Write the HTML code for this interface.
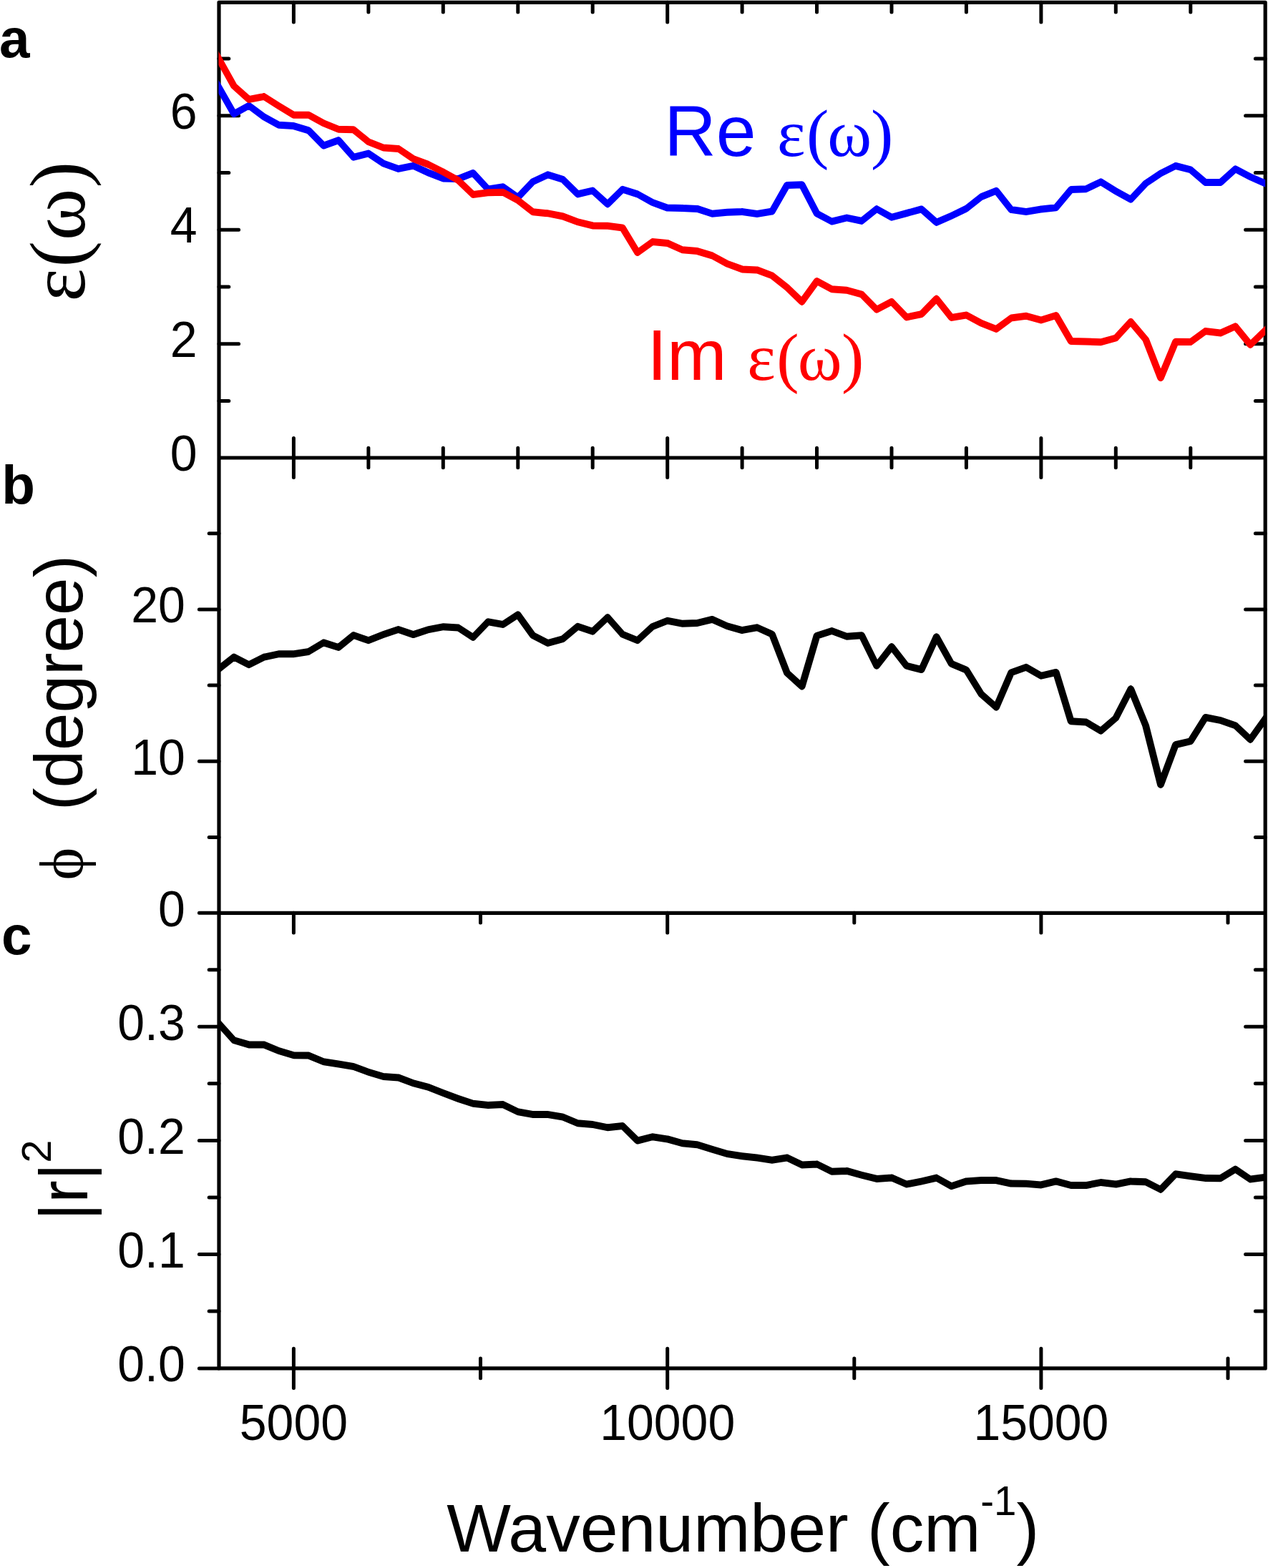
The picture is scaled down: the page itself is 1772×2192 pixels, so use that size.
<!DOCTYPE html>
<html lang="en"><head><meta charset="utf-8"><title>Optical response: dielectric function, phase and reflectance</title>
<style>html,body{margin:0;padding:0;background:#fff}body{width:1772px;height:2192px}svg{display:block}text{font-family:"Liberation Sans",sans-serif;fill:#000}.g{font-family:"Liberation Serif",serif}.b{font-weight:700}</style></head><body>
<svg width="1772" height="2192" viewBox="0 0 1772 2192">
<rect width="1772" height="2192" fill="#fff"/>
<defs>
<clipPath id="ca"><rect x="305.5" y="3.3" width="1462.7" height="636.7"/></clipPath>
<clipPath id="cb"><rect x="305.5" y="640.0" width="1462.7" height="636.3"/></clipPath>
<clipPath id="cc"><rect x="305.5" y="1276.3" width="1462.7" height="636.6"/></clipPath>
</defs>
<g fill="none" stroke="#000" stroke-linecap="round">
<path stroke-width="5.2" stroke-linejoin="round" d="M306.0 3.3L306.0 1912.9M1768.2 3.3L1768.2 1912.9M306.0 3.3L1768.2 3.3M306.0 640.0L1768.2 640.0M306.0 1276.3L1768.2 1276.3M306.0 1912.9L1768.2 1912.9"/>
<path stroke-width="5.0" d="M410.4 3.3L410.4 30.9M410.4 612.4L410.4 667.6M514.9 3.3L514.9 17.1M514.9 626.2L514.9 653.8M619.3 3.3L619.3 17.1M619.3 626.2L619.3 653.8M723.8 3.3L723.8 17.1M723.8 626.2L723.8 653.8M828.2 3.3L828.2 17.1M828.2 626.2L828.2 653.8M932.7 3.3L932.7 30.9M932.7 612.4L932.7 667.6M1037.1 3.3L1037.1 17.1M1037.1 626.2L1037.1 653.8M1141.5 3.3L1141.5 17.1M1141.5 626.2L1141.5 653.8M1246.0 3.3L1246.0 17.1M1246.0 626.2L1246.0 653.8M1350.4 3.3L1350.4 17.1M1350.4 626.2L1350.4 653.8M1454.9 3.3L1454.9 30.9M1454.9 612.4L1454.9 667.6M1559.3 3.3L1559.3 17.1M1559.3 626.2L1559.3 653.8M1663.8 3.3L1663.8 17.1M1663.8 626.2L1663.8 653.8M410.4 1276.3L410.4 1303.9M410.4 1885.3L410.4 1940.5M671.5 1276.3L671.5 1290.1M671.5 1899.1L671.5 1926.7M932.7 1276.3L932.7 1303.9M932.7 1885.3L932.7 1940.5M1193.8 1276.3L1193.8 1290.1M1193.8 1899.1L1193.8 1926.7M1454.9 1276.3L1454.9 1303.9M1454.9 1885.3L1454.9 1940.5M1716.0 1276.3L1716.0 1290.1M1716.0 1899.1L1716.0 1926.7M306.0 560.5L319.8 560.5M1768.2 560.5L1754.4 560.5M306.0 480.7L333.6 480.7M1768.2 480.7L1740.6 480.7M306.0 401.0L319.8 401.0M1768.2 401.0L1754.4 401.0M306.0 321.2L333.6 321.2M1768.2 321.2L1740.6 321.2M306.0 241.5L319.8 241.5M1768.2 241.5L1754.4 241.5M306.0 161.7L333.6 161.7M1768.2 161.7L1740.6 161.7M306.0 82.0L319.8 82.0M1768.2 82.0L1754.4 82.0M306.0 1276.3L278.4 1276.3M306.0 1170.4L292.2 1170.4M1768.2 1170.4L1754.4 1170.4M306.0 1064.2L278.4 1064.2M1768.2 1064.2L1740.6 1064.2M306.0 958.1L292.2 958.1M1768.2 958.1L1754.4 958.1M306.0 851.9L278.4 851.9M1768.2 851.9L1740.6 851.9M306.0 745.7L292.2 745.7M1768.2 745.7L1754.4 745.7M306.0 1912.9L278.4 1912.9M306.0 1833.0L292.2 1833.0M1768.2 1833.0L1754.4 1833.0M306.0 1753.5L278.4 1753.5M1768.2 1753.5L1740.6 1753.5M306.0 1673.9L292.2 1673.9M1768.2 1673.9L1754.4 1673.9M306.0 1594.4L278.4 1594.4M1768.2 1594.4L1740.6 1594.4M306.0 1514.8L292.2 1514.8M1768.2 1514.8L1754.4 1514.8M306.0 1435.3L278.4 1435.3M1768.2 1435.3L1740.6 1435.3M306.0 1355.8L292.2 1355.8M1768.2 1355.8L1754.4 1355.8"/>
</g>
<g stroke="none">
<path clip-path="url(#ca)" fill="#0000ff" d="M280.1 85.8L280.3 84.8L280.9 83.6L281.4 82.9L281.8 82.5L282.2 82.1L282.9 81.6L284.1 81L285.1 80.8L286.1 81L287.3 81.6L288 82.1L288.4 82.5L288.8 82.9L289.3 83.6L310.2 120.3L310.8 121.5L311 122.5L310.8 123.5L310.2 124.7L309.7 125.4L309.3 125.8L308.9 126.2L308.2 126.7L307 127.3L306 127.5L305 127.3L303.8 126.7L303.1 126.2L302.7 125.8L302.3 125.4L301.8 124.7L280.9 88L280.3 86.8ZM301 122.5L301.2 121.5L301.8 120.3L302.3 119.6L302.7 119.2L303.1 118.8L303.8 118.3L305 117.7L306 117.5L307 117.7L308.2 118.3L308.9 118.8L309.3 119.2L309.7 119.6L310.2 120.3L331.1 157L331.7 158.2L331.9 159.2L331.7 160.2L331.1 161.4L330.6 162.1L330.2 162.5L329.8 162.9L329.1 163.4L327.9 164L326.9 164.2L325.9 164L324.7 163.4L324 162.9L323.6 162.5L323.2 162.1L322.7 161.4L301.8 124.7L301.2 123.5ZM321.9 159.2L322.1 158.2L322.7 157L323.2 156.3L323.6 155.9L324 155.5L324.7 155L345.6 143.4L346.8 142.8L347.8 142.6L348.8 142.8L350 143.4L350.6 143.9L351.1 144.3L351.5 144.7L352 145.4L352.6 146.6L352.8 147.6L352.6 148.6L352 149.8L351.5 150.5L351.1 150.9L350.6 151.3L350 151.8L329.1 163.4L327.9 164L326.9 164.2L325.9 164L324.7 163.4L324 162.9L323.6 162.5L323.2 162.1L322.7 161.4L322.1 160.2ZM342.8 147.6L343 146.6L343.6 145.4L344.1 144.7L344.4 144.3L344.9 143.9L345.6 143.4L346.8 142.8L347.8 142.6L348.8 142.8L350 143.4L370.9 159.1L371.5 159.6L372 160L372.4 160.4L372.9 161.1L373.5 162.3L373.7 163.3L373.5 164.3L372.9 165.5L372.4 166.2L372 166.6L371.5 167L370.9 167.5L369.7 168.1L368.7 168.3L367.6 168.1L366.5 167.5L345.6 151.8L344.9 151.3L344.4 150.9L344.1 150.5L343.6 149.8L343 148.6ZM363.7 163.3L363.9 162.3L364.4 161.1L364.9 160.4L365.3 160L365.8 159.6L366.5 159.1L367.6 158.5L368.7 158.3L369.7 158.5L370.9 159.1L391.8 170.6L392.4 171.1L392.9 171.5L393.3 171.9L393.8 172.6L394.4 173.8L394.6 174.8L394.4 175.8L393.8 177L393.3 177.7L392.9 178.1L392.4 178.5L391.8 179L390.6 179.6L389.6 179.8L388.5 179.6L387.3 179L366.5 167.5L365.8 167L365.3 166.6L364.9 166.2L364.4 165.5L363.9 164.3ZM384.6 174.8L384.8 173.8L385.3 172.6L385.8 171.9L386.2 171.5L386.7 171.1L387.3 170.6L388.5 170L389.6 169.8L410.4 171.1L411.5 171.3L412.6 171.9L413.3 172.4L413.8 172.8L414.2 173.2L414.7 173.9L415.2 175.1L415.4 176.1L415.2 177.1L414.7 178.3L414.2 179L413.8 179.4L413.3 179.8L412.6 180.3L411.5 180.9L410.4 181.1L389.6 179.8L388.5 179.6L387.3 179L386.7 178.5L386.2 178.1L385.8 177.7L385.3 177L384.8 175.8ZM405.4 176.1L405.6 175.1L406.2 173.9L406.7 173.2L407.1 172.8L407.6 172.4L408.2 171.9L409.4 171.3L410.4 171.1L411.5 171.3L432.4 177.6L433.5 178.2L434.2 178.7L434.7 179.1L435.1 179.5L435.6 180.2L436.1 181.4L436.3 182.4L436.1 183.4L435.6 184.6L435.1 185.3L434.7 185.7L434.2 186.1L433.5 186.6L432.4 187.2L431.3 187.4L430.3 187.2L409.4 180.9L408.2 180.3L407.6 179.8L407.1 179.4L406.7 179L406.2 178.3L405.6 177.1ZM426.3 182.4L426.5 181.4L427.1 180.2L427.6 179.5L428 179.1L428.5 178.7L429.1 178.2L430.3 177.6L431.3 177.4L432.4 177.6L433.5 178.2L434.2 178.7L434.7 179.1L455.6 200.3L455.9 200.7L456.4 201.4L457 202.6L457.2 203.6L457 204.6L456.4 205.8L455.9 206.5L455.6 206.9L455.1 207.3L454.4 207.8L453.2 208.4L452.2 208.6L451.2 208.4L450 207.8L449.4 207.3L448.9 206.9L428 185.7L427.6 185.3L427.1 184.6L426.5 183.4ZM447.2 203.6L447.4 202.6L448 201.4L448.5 200.7L448.9 200.3L449.4 199.9L450 199.4L451.2 198.8L472.1 191.3L473.1 191.1L474.1 191.3L475.3 191.9L476 192.4L476.4 192.8L476.8 193.2L477.3 193.9L477.9 195.1L478.1 196.1L477.9 197.1L477.3 198.3L476.8 199L476.4 199.4L476 199.8L475.3 200.3L474.1 200.9L453.2 208.4L452.2 208.6L451.2 208.4L450 207.8L449.4 207.3L448.9 206.9L448.5 206.5L448 205.8L447.4 204.6ZM468.1 196.1L468.3 195.1L468.9 193.9L469.4 193.2L469.8 192.8L470.2 192.4L470.9 191.9L472.1 191.3L473.1 191.1L474.1 191.3L475.3 191.9L476 192.4L476.4 192.8L497.3 216.4L497.7 216.8L498.2 217.5L498.8 218.7L499 219.7L498.8 220.7L498.2 221.9L497.7 222.6L497.3 223L496.9 223.4L496.2 223.9L495 224.5L494 224.7L493 224.5L491.8 223.9L491.1 223.4L490.7 223L469.8 199.4L469.4 199L468.9 198.3L468.3 197.1ZM489 219.7L489.2 218.7L489.8 217.5L490.3 216.8L490.7 216.4L491.1 216L491.8 215.5L493 214.9L513.9 209.7L514.9 209.5L515.9 209.7L517.1 210.3L517.8 210.8L518.2 211.2L518.6 211.6L519.1 212.3L519.7 213.5L519.9 214.5L519.7 215.5L519.1 216.7L518.6 217.4L518.2 217.8L517.8 218.2L517.1 218.7L515.9 219.3L495 224.5L494 224.7L493 224.5L491.8 223.9L491.1 223.4L490.7 223L490.3 222.6L489.8 221.9L489.2 220.7ZM509.9 214.5L510.1 213.5L510.7 212.3L511.2 211.6L511.6 211.2L512 210.8L512.7 210.3L513.9 209.7L514.9 209.5L515.9 209.7L517.1 210.3L538 224.3L538.6 224.8L539.1 225.2L539.5 225.6L540 226.3L540.6 227.5L540.8 228.5L540.6 229.5L540 230.7L539.5 231.4L539.1 231.8L538.6 232.2L538 232.7L536.8 233.3L535.8 233.5L534.8 233.3L533.6 232.7L512.7 218.7L512 218.2L511.6 217.8L511.2 217.4L510.7 216.7L510.1 215.5ZM530.8 228.5L531 227.5L531.5 226.3L532 225.6L532.4 225.2L532.9 224.8L533.6 224.3L534.8 223.7L535.8 223.5L536.8 223.7L557.7 231.2L558.9 231.8L559.5 232.3L560 232.7L560.4 233.1L560.9 233.8L561.5 235L561.7 236L561.5 237L560.9 238.2L560.4 238.9L560 239.3L559.5 239.7L558.9 240.2L557.7 240.8L556.7 241L555.6 240.8L534.8 233.3L533.6 232.7L532.9 232.2L532.4 231.8L532 231.4L531.5 230.7L531 229.5ZM551.7 236L551.9 235L552.4 233.8L552.9 233.1L553.3 232.7L553.8 232.3L554.5 231.8L555.6 231.2L576.5 227L577.5 226.8L578.6 227L579.8 227.6L580.4 228.1L580.9 228.5L581.3 228.9L581.8 229.6L582.4 230.8L582.5 231.8L582.4 232.8L581.8 234L581.3 234.7L580.9 235.1L580.4 235.5L579.8 236L578.6 236.6L557.7 240.8L556.7 241L555.6 240.8L554.5 240.2L553.8 239.7L553.3 239.3L552.9 238.9L552.4 238.2L551.9 237ZM572.5 231.8L572.8 230.8L573.3 229.6L573.8 228.9L574.2 228.5L574.7 228.1L575.3 227.6L576.5 227L577.5 226.8L578.6 227L599.5 236.6L600.6 237.2L601.3 237.7L601.8 238.1L602.2 238.5L602.7 239.2L603.2 240.4L603.4 241.4L603.2 242.4L602.7 243.6L602.2 244.3L601.8 244.7L601.3 245.1L600.6 245.6L599.5 246.2L598.4 246.4L597.4 246.2L576.5 236.6L575.3 236L574.7 235.5L574.2 235.1L573.8 234.7L573.3 234L572.8 232.8ZM593.4 241.4L593.6 240.4L594.2 239.2L594.7 238.5L595.1 238.1L595.6 237.7L596.2 237.2L597.4 236.6L598.4 236.4L599.5 236.6L620.4 244.6L621.5 245.2L622.2 245.7L622.7 246.1L623.1 246.5L623.5 247.2L624.1 248.4L624.3 249.4L624.1 250.4L623.5 251.6L623.1 252.3L622.7 252.7L622.2 253.1L621.5 253.6L620.4 254.2L619.3 254.4L618.3 254.2L597.4 246.2L596.2 245.6L595.6 245.1L595.1 244.7L594.7 244.3L594.2 243.6L593.6 242.4ZM614.3 249.4L614.5 248.4L615.1 247.2L615.6 246.5L616 246.1L616.5 245.7L617.1 245.2L618.3 244.6L619.3 244.4L640.2 245.1L641.2 245.3L642.4 245.9L643.1 246.4L643.5 246.8L644 247.2L644.4 247.9L645 249.1L645.2 250.1L645 251.1L644.4 252.3L644 253L643.5 253.4L643.1 253.8L642.4 254.3L641.2 254.9L640.2 255.1L619.3 254.4L618.3 254.2L617.1 253.6L616.5 253.1L616 252.7L615.6 252.3L615.1 251.6L614.5 250.4ZM635.2 250.1L635.4 249.1L636 247.9L636.5 247.2L636.9 246.8L637.4 246.4L638 245.9L639.2 245.3L660.1 237.1L661.1 236.9L662.1 237.1L663.3 237.7L664 238.2L664.4 238.6L664.8 239L665.3 239.7L665.9 240.9L666.1 241.9L665.9 242.9L665.3 244.1L664.8 244.8L664.4 245.2L664 245.6L663.3 246.1L662.1 246.7L641.2 254.9L640.2 255.1L639.2 254.9L638 254.3L637.4 253.8L636.9 253.4L636.5 253L636 252.3L635.4 251.1ZM656.1 241.9L656.3 240.9L656.9 239.7L657.4 239L657.8 238.6L658.2 238.2L658.9 237.7L660.1 237.1L661.1 236.9L662.1 237.1L663.3 237.7L664 238.2L664.4 238.6L685.3 261.2L685.7 261.6L686.2 262.3L686.8 263.5L687 264.5L686.8 265.5L686.2 266.7L685.7 267.4L685.3 267.8L684.9 268.2L684.2 268.7L683 269.3L682 269.5L681 269.3L679.8 268.7L679.1 268.2L678.7 267.8L657.8 245.2L657.4 244.8L656.9 244.1L656.3 242.9ZM677 264.5L677.2 263.5L677.8 262.3L678.3 261.6L678.7 261.2L679.1 260.8L679.8 260.3L681 259.7L682 259.5L702.9 256.2L703.9 256.4L705.1 257L705.7 257.5L706.2 257.9L706.6 258.3L707.1 259L707.7 260.2L707.9 261.2L707.7 262.2L707.1 263.4L706.6 264.1L706.2 264.5L705.7 264.9L705.1 265.4L703.9 266L702.9 266.2L682 269.5L681 269.3L679.8 268.7L679.1 268.2L678.7 267.8L678.3 267.4L677.8 266.7L677.2 265.5ZM697.9 261.2L698.1 260.2L698.7 259L699.1 258.3L699.5 257.9L700 257.5L700.7 257L701.9 256.4L702.9 256.2L703.9 256.4L705.1 257L726 271.8L726.6 272.3L727.1 272.7L727.5 273.1L728 273.8L728.6 275L728.8 276L728.6 277L728 278.2L727.5 278.9L727.1 279.3L726.6 279.7L726 280.2L724.8 280.8L723.8 281L722.8 280.8L721.6 280.2L700.7 265.4L700 264.9L699.5 264.5L699.1 264.1L698.7 263.4L698.1 262.2ZM718.8 276L719 275L719.5 273.8L720 273.1L720.4 272.7L741.3 250.7L741.8 250.3L742.5 249.8L743.6 249.2L744.7 249L745.7 249.2L746.9 249.8L747.5 250.3L748 250.7L748.4 251.1L748.9 251.8L749.5 253L749.7 254L749.5 255L748.9 256.2L748.4 256.9L748 257.3L727.1 279.3L726.6 279.7L726 280.2L724.8 280.8L723.8 281L722.8 280.8L721.6 280.2L720.9 279.7L720.4 279.3L720 278.9L719.5 278.2L719 277ZM739.7 254L739.9 253L740.4 251.8L740.9 251.1L741.3 250.7L741.8 250.3L742.5 249.8L743.6 249.2L764.5 239.5L765.5 239.3L766.6 239.5L767.8 240.1L768.4 240.6L768.9 241L769.3 241.4L769.8 242.1L770.4 243.3L770.5 244.3L770.4 245.3L769.8 246.5L769.3 247.2L768.9 247.6L768.4 248L767.8 248.5L766.6 249.1L745.7 258.8L744.7 259L743.6 258.8L742.5 258.2L741.8 257.7L741.3 257.3L740.9 256.9L740.4 256.2L739.9 255ZM760.5 244.3L760.8 243.3L761.3 242.1L761.8 241.4L762.2 241L762.7 240.6L763.3 240.1L764.5 239.5L765.5 239.3L766.6 239.5L787.5 245.9L788.6 246.5L789.3 247L789.8 247.4L790.2 247.8L790.7 248.5L791.2 249.7L791.4 250.7L791.2 251.7L790.7 252.9L790.2 253.6L789.8 254L789.3 254.4L788.6 254.9L787.5 255.5L786.4 255.7L785.4 255.5L764.5 249.1L763.3 248.5L762.7 248L762.2 247.6L761.8 247.2L761.3 246.5L760.8 245.3ZM781.4 250.7L781.6 249.7L782.2 248.5L782.7 247.8L783.1 247.4L783.6 247L784.2 246.5L785.4 245.9L786.4 245.7L787.5 245.9L788.6 246.5L789.3 247L789.8 247.4L810.7 268.1L811.1 268.5L811.5 269.2L812.1 270.4L812.3 271.4L812.1 272.4L811.5 273.6L811.1 274.3L810.7 274.7L810.2 275.1L809.5 275.6L808.4 276.2L807.3 276.4L806.3 276.2L805.1 275.6L804.5 275.1L804 274.7L783.1 254L782.7 253.6L782.2 252.9L781.6 251.7ZM802.3 271.4L802.5 270.4L803.1 269.2L803.6 268.5L804 268.1L804.5 267.7L805.1 267.2L806.3 266.6L827.2 261.7L828.2 261.5L829.2 261.7L830.4 262.3L831.1 262.8L831.5 263.2L831.9 263.6L832.4 264.3L833 265.5L833.2 266.5L833 267.5L832.4 268.7L831.9 269.4L831.5 269.8L831.1 270.2L830.4 270.7L829.2 271.3L808.4 276.2L807.3 276.4L806.3 276.2L805.1 275.6L804.5 275.1L804 274.7L803.6 274.3L803.1 273.6L802.5 272.4ZM823.2 266.5L823.4 265.5L824 264.3L824.5 263.6L824.9 263.2L825.4 262.8L826 262.3L827.2 261.7L828.2 261.5L829.2 261.7L830.4 262.3L831.1 262.8L831.5 263.2L852.4 282.1L852.8 282.5L853.3 283.2L853.9 284.4L854.1 285.4L853.9 286.4L853.3 287.6L852.8 288.3L852.4 288.7L852 289.1L851.3 289.6L850.1 290.2L849.1 290.4L848.1 290.2L846.9 289.6L846.2 289.1L845.8 288.7L824.9 269.8L824.5 269.4L824 268.7L823.4 267.5ZM844.1 285.4L844.3 284.4L844.9 283.2L845.4 282.5L845.8 282.1L866.7 261.4L867.1 261L867.8 260.5L869 259.9L870 259.7L871 259.9L872.2 260.5L872.9 261L873.3 261.4L873.7 261.8L874.2 262.5L874.8 263.7L875 264.7L874.8 265.7L874.2 266.9L873.7 267.6L873.3 268L852.4 288.7L852 289.1L851.3 289.6L850.1 290.2L849.1 290.4L848.1 290.2L846.9 289.6L846.2 289.1L845.8 288.7L845.4 288.3L844.9 287.6L844.3 286.4ZM865 264.7L865.2 263.7L865.8 262.5L866.3 261.8L866.7 261.4L867.1 261L867.8 260.5L869 259.9L870 259.7L871 259.9L891.9 266.6L893.1 267.2L893.7 267.7L894.2 268.1L894.6 268.5L895.1 269.2L895.7 270.4L895.9 271.4L895.7 272.4L895.1 273.6L894.6 274.3L894.2 274.7L893.7 275.1L893.1 275.6L891.9 276.2L890.9 276.4L889.9 276.2L869 269.5L867.8 268.9L867.1 268.4L866.7 268L866.3 267.6L865.8 266.9L865.2 265.7ZM885.9 271.4L886.1 270.4L886.7 269.2L887.1 268.5L887.5 268.1L888 267.7L888.7 267.2L889.9 266.6L890.9 266.4L891.9 266.6L893.1 267.2L914 278.8L914.6 279.3L915.1 279.7L915.5 280.1L916 280.8L916.6 282L916.8 283L916.6 284L916 285.2L915.5 285.9L915.1 286.3L914.6 286.7L914 287.2L912.8 287.8L911.8 288L910.8 287.8L909.6 287.2L888.7 275.6L888 275.1L887.5 274.7L887.1 274.3L886.7 273.6L886.1 272.4ZM906.8 283L907 282L907.5 280.8L908 280.1L908.4 279.7L908.9 279.3L909.6 278.8L910.8 278.2L911.8 278L912.8 278.2L933.7 285.8L934.9 286.4L935.5 286.9L936 287.3L936.4 287.7L936.9 288.4L937.5 289.6L937.7 290.6L937.5 291.6L936.9 292.8L936.4 293.5L936 293.9L935.5 294.3L934.9 294.8L933.7 295.4L932.7 295.6L931.6 295.4L910.8 287.8L909.6 287.2L908.9 286.7L908.4 286.3L908 285.9L907.5 285.2L907 284ZM927.7 290.6L927.9 289.6L928.4 288.4L928.9 287.7L929.3 287.3L929.8 286.9L930.5 286.4L931.6 285.8L932.7 285.6L953.5 285.9L954.6 286.1L955.8 286.7L956.4 287.2L956.9 287.6L957.3 288L957.8 288.7L958.4 289.9L958.5 290.9L958.4 291.9L957.8 293.1L957.3 293.8L956.9 294.2L956.4 294.6L955.8 295.1L954.6 295.7L953.5 295.9L932.7 295.6L931.6 295.4L930.5 294.8L929.8 294.3L929.3 293.9L928.9 293.5L928.4 292.8L927.9 291.6ZM948.5 290.9L948.8 289.9L949.3 288.7L949.8 288L950.2 287.6L950.7 287.2L951.3 286.7L952.5 286.1L953.5 285.9L974.4 286.9L975.5 287.1L976.6 287.7L977.3 288.2L977.8 288.6L978.2 289L978.6 289.7L979.2 290.9L979.4 291.9L979.2 292.9L978.6 294.1L978.2 294.8L977.8 295.2L977.3 295.6L976.6 296.1L975.5 296.7L974.4 296.9L953.5 295.9L952.5 295.7L951.3 295.1L950.7 294.6L950.2 294.2L949.8 293.8L949.3 293.1L948.8 291.9ZM969.4 291.9L969.6 290.9L970.2 289.7L970.7 289L971.1 288.6L971.6 288.2L972.2 287.7L973.4 287.1L974.4 286.9L975.5 287.1L996.3 293.9L997.5 294.5L998.2 295L998.6 295.4L999 295.8L999.5 296.5L1000.1 297.7L1000.3 298.7L1000.1 299.7L999.5 300.9L999 301.6L998.6 302L998.2 302.4L997.5 302.9L996.3 303.5L995.3 303.7L994.3 303.5L973.4 296.7L972.2 296.1L971.6 295.6L971.1 295.2L970.7 294.8L970.2 294.1L969.6 292.9ZM990.3 298.7L990.5 297.7L991.1 296.5L991.6 295.8L992 295.4L992.5 295L993.1 294.5L994.3 293.9L995.3 293.7L1016.2 291.8L1017.2 292L1018.4 292.6L1019.1 293.1L1019.5 293.5L1019.9 293.9L1020.4 294.6L1021 295.8L1021.2 296.8L1021 297.8L1020.4 299L1019.9 299.7L1019.5 300.1L1019.1 300.5L1018.4 301L1017.2 301.6L1016.2 301.8L995.3 303.7L994.3 303.5L993.1 302.9L992.5 302.4L992 302L991.6 301.6L991.1 300.9L990.5 299.7ZM1011.2 296.8L1011.4 295.8L1012 294.6L1012.5 293.9L1012.9 293.5L1013.4 293.1L1014 292.6L1015.2 292L1016.2 291.8L1037.1 290.9L1038.1 291.1L1039.3 291.7L1040 292.2L1040.4 292.6L1040.8 293L1041.3 293.7L1041.9 294.9L1042.1 295.9L1041.9 296.9L1041.3 298.1L1040.8 298.8L1040.4 299.2L1040 299.6L1039.3 300.1L1038.1 300.7L1037.1 300.9L1016.2 301.8L1015.2 301.6L1014 301L1013.4 300.5L1012.9 300.1L1012.5 299.7L1012 299L1011.4 297.8ZM1032.1 295.9L1032.3 294.9L1032.9 293.7L1033.4 293L1033.8 292.6L1034.2 292.2L1034.9 291.7L1036.1 291.1L1037.1 290.9L1058 293.9L1059 294.1L1060.2 294.7L1060.8 295.2L1061.3 295.6L1061.7 296L1062.2 296.7L1062.8 297.9L1063 298.9L1062.8 299.9L1062.2 301.1L1061.7 301.8L1061.3 302.2L1060.8 302.6L1060.2 303.1L1059 303.7L1058 303.9L1037.1 300.9L1036.1 300.7L1034.9 300.1L1034.2 299.6L1033.8 299.2L1033.4 298.8L1032.9 298.1L1032.3 296.9ZM1053 298.9L1053.2 297.9L1053.8 296.7L1054.3 296L1054.7 295.6L1055.1 295.2L1055.8 294.7L1057 294.1L1058 293.9L1078.9 290.6L1079.9 290.8L1081.1 291.4L1081.7 291.9L1082.2 292.3L1082.6 292.7L1083.1 293.4L1083.7 294.6L1083.9 295.6L1083.7 296.6L1083.1 297.8L1082.6 298.5L1082.2 298.9L1081.7 299.3L1081.1 299.8L1079.9 300.4L1078.9 300.6L1058 303.9L1057 303.7L1055.8 303.1L1055.1 302.6L1054.7 302.2L1054.3 301.8L1053.8 301.1L1053.2 299.9ZM1073.9 295.6L1074.1 294.6L1074.7 293.4L1095.5 256.8L1096 256.1L1096.4 255.7L1096.9 255.3L1097.6 254.8L1098.8 254.2L1099.8 254L1100.8 254.2L1102 254.8L1102.6 255.3L1103.1 255.7L1103.5 256.1L1104 256.8L1104.6 258L1104.8 259L1104.6 260L1104 261.2L1083.1 297.8L1082.6 298.5L1082.2 298.9L1081.7 299.3L1081.1 299.8L1079.9 300.4L1078.9 300.6L1077.9 300.4L1076.7 299.8L1076 299.3L1075.5 298.9L1075.2 298.5L1074.7 297.8L1074.1 296.6ZM1094.8 259L1095 258L1095.5 256.8L1096 256.1L1096.4 255.7L1096.9 255.3L1097.6 254.8L1098.8 254.2L1099.8 254L1120.7 253.3L1121.7 253.5L1122.9 254.1L1123.5 254.6L1124 255L1124.4 255.4L1124.9 256.1L1125.5 257.3L1125.7 258.3L1125.5 259.3L1124.9 260.5L1124.4 261.2L1124 261.6L1123.5 262L1122.9 262.5L1121.7 263.1L1120.7 263.3L1099.8 264L1098.8 263.8L1097.6 263.2L1096.9 262.7L1096.4 262.3L1096 261.9L1095.5 261.2L1095 260ZM1115.7 258.3L1115.8 257.3L1116.4 256.1L1116.9 255.4L1117.3 255L1117.8 254.6L1118.4 254.1L1119.6 253.5L1120.7 253.3L1121.7 253.5L1122.9 254.1L1123.5 254.6L1124 255L1124.4 255.4L1124.9 256.1L1145.8 296.3L1146.3 297.5L1146.5 298.5L1146.3 299.5L1145.8 300.7L1145.3 301.4L1144.9 301.8L1144.4 302.2L1143.8 302.7L1142.6 303.3L1141.5 303.5L1140.5 303.3L1139.3 302.7L1138.7 302.2L1138.2 301.8L1137.8 301.4L1137.3 300.7L1116.4 260.5L1115.8 259.3ZM1136.5 298.5L1136.7 297.5L1137.3 296.3L1137.8 295.6L1138.2 295.2L1138.7 294.8L1139.3 294.3L1140.5 293.7L1141.5 293.5L1142.6 293.7L1143.8 294.3L1164.6 305.4L1165.3 305.9L1165.8 306.3L1166.2 306.7L1166.7 307.4L1167.2 308.6L1167.4 309.6L1167.2 310.6L1166.7 311.8L1166.2 312.5L1165.8 312.9L1165.3 313.3L1164.6 313.8L1163.5 314.4L1162.4 314.6L1161.4 314.4L1160.2 313.8L1139.3 302.7L1138.7 302.2L1138.2 301.8L1137.8 301.4L1137.3 300.7L1136.7 299.5ZM1157.4 309.6L1157.6 308.6L1158.2 307.4L1158.7 306.7L1159.1 306.3L1159.6 305.9L1160.2 305.4L1161.4 304.8L1182.3 299.7L1183.3 299.5L1184.3 299.7L1185.5 300.3L1186.2 300.8L1186.7 301.2L1187 301.6L1187.5 302.3L1188.1 303.5L1188.3 304.5L1188.1 305.5L1187.5 306.7L1187 307.4L1186.7 307.8L1186.2 308.2L1185.5 308.7L1184.3 309.3L1163.5 314.4L1162.4 314.6L1161.4 314.4L1160.2 313.8L1159.6 313.3L1159.1 312.9L1158.7 312.5L1158.2 311.8L1157.6 310.6ZM1178.3 304.5L1178.5 303.5L1179.1 302.3L1179.6 301.6L1180 301.2L1180.5 300.8L1181.1 300.3L1182.3 299.7L1183.3 299.5L1184.3 299.7L1205.2 304.1L1206.4 304.7L1207.1 305.2L1207.5 305.6L1207.9 306L1208.4 306.7L1209 307.9L1209.2 308.9L1209 309.9L1208.4 311.1L1207.9 311.8L1207.5 312.2L1207.1 312.6L1206.4 313.1L1205.2 313.7L1204.2 313.9L1203.2 313.7L1182.3 309.3L1181.1 308.7L1180.5 308.2L1180 307.8L1179.6 307.4L1179.1 306.7L1178.5 305.5ZM1199.2 308.9L1199.4 307.9L1200 306.7L1200.5 306L1200.9 305.6L1201.3 305.2L1222.2 288.4L1222.9 287.9L1224.1 287.3L1225.1 287.1L1226.1 287.3L1227.3 287.9L1228 288.4L1228.4 288.8L1228.8 289.2L1229.3 289.9L1229.9 291.1L1230.1 292.1L1229.9 293.1L1229.3 294.3L1228.8 295L1228.4 295.4L1228 295.8L1207.1 312.6L1206.4 313.1L1205.2 313.7L1204.2 313.9L1203.2 313.7L1202 313.1L1201.3 312.6L1200.9 312.2L1200.5 311.8L1200 311.1L1199.4 309.9ZM1220.1 292.1L1220.3 291.1L1220.9 289.9L1221.4 289.2L1221.8 288.8L1222.2 288.4L1222.9 287.9L1224.1 287.3L1225.1 287.1L1226.1 287.3L1227.3 287.9L1248.2 299.6L1248.8 300.1L1249.3 300.5L1249.7 300.9L1250.2 301.6L1250.8 302.8L1251 303.8L1250.8 304.8L1250.2 306L1249.7 306.7L1249.3 307.1L1248.8 307.5L1248.2 308L1247 308.6L1246 308.8L1245 308.6L1243.8 308L1222.9 296.3L1222.2 295.8L1221.8 295.4L1221.4 295L1220.9 294.3L1220.3 293.1ZM1241 303.8L1241.2 302.8L1241.8 301.6L1242.3 300.9L1242.7 300.5L1243.1 300.1L1243.8 299.6L1245 299L1265.8 293.3L1266.9 293.1L1267.9 293.3L1269.1 293.9L1269.7 294.4L1270.2 294.8L1270.6 295.2L1271.1 295.9L1271.7 297.1L1271.9 298.1L1271.7 299.1L1271.1 300.3L1270.6 301L1270.2 301.4L1269.7 301.8L1269.1 302.3L1267.9 302.9L1247 308.6L1246 308.8L1245 308.6L1243.8 308L1243.1 307.5L1242.7 307.1L1242.3 306.7L1241.8 306L1241.2 304.8ZM1261.9 298.1L1262.1 297.1L1262.7 295.9L1263.1 295.2L1263.5 294.8L1264 294.4L1264.7 293.9L1265.8 293.3L1286.7 287.6L1287.8 287.4L1288.8 287.6L1290 288.2L1290.6 288.7L1291.1 289.1L1291.5 289.5L1292 290.2L1292.6 291.4L1292.8 292.4L1292.6 293.4L1292 294.6L1291.5 295.3L1291.1 295.7L1290.6 296.1L1290 296.6L1288.8 297.2L1267.9 302.9L1266.9 303.1L1265.8 302.9L1264.7 302.3L1264 301.8L1263.5 301.4L1263.1 301L1262.7 300.3L1262.1 299.1ZM1282.8 292.4L1283 291.4L1283.5 290.2L1284 289.5L1284.4 289.1L1284.9 288.7L1285.5 288.2L1286.7 287.6L1287.8 287.4L1288.8 287.6L1290 288.2L1290.6 288.7L1291.1 289.1L1312 307.6L1312.4 308L1312.9 308.7L1313.5 309.9L1313.7 310.9L1313.5 311.9L1312.9 313.1L1312.4 313.8L1312 314.2L1311.5 314.6L1310.9 315.1L1309.7 315.7L1308.7 315.9L1307.6 315.7L1306.4 315.1L1305.8 314.6L1305.3 314.2L1284.4 295.7L1284 295.3L1283.5 294.6L1283 293.4ZM1303.7 310.9L1303.8 309.9L1304.4 308.7L1304.9 308L1305.3 307.6L1305.8 307.2L1306.4 306.7L1307.6 306.1L1328.5 296.9L1329.5 296.7L1330.6 296.9L1331.8 297.5L1332.4 298L1332.9 298.4L1333.3 298.8L1333.8 299.5L1334.3 300.7L1334.5 301.7L1334.3 302.7L1333.8 303.9L1333.3 304.6L1332.9 305L1332.4 305.4L1331.8 305.9L1330.6 306.5L1309.7 315.7L1308.7 315.9L1307.6 315.7L1306.4 315.1L1305.8 314.6L1305.3 314.2L1304.9 313.8L1304.4 313.1L1303.8 311.9ZM1324.5 301.7L1324.7 300.7L1325.3 299.5L1325.8 298.8L1326.2 298.4L1326.7 298L1327.3 297.5L1328.5 296.9L1349.4 286.8L1350.4 286.6L1351.5 286.8L1352.6 287.4L1353.3 287.9L1353.8 288.3L1354.2 288.7L1354.7 289.4L1355.2 290.6L1355.4 291.6L1355.2 292.6L1354.7 293.8L1354.2 294.5L1353.8 294.9L1353.3 295.3L1352.6 295.8L1351.5 296.4L1330.6 306.5L1329.5 306.7L1328.5 306.5L1327.3 305.9L1326.7 305.4L1326.2 305L1325.8 304.6L1325.3 303.9L1324.7 302.7ZM1345.4 291.6L1345.6 290.6L1346.2 289.4L1346.7 288.7L1347.1 288.3L1347.6 287.9L1368.5 271.4L1369.1 270.9L1370.3 270.3L1371.3 270.1L1372.3 270.3L1373.5 270.9L1374.2 271.4L1374.7 271.8L1375 272.2L1375.5 272.9L1376.1 274.1L1376.3 275.1L1376.1 276.1L1375.5 277.3L1375 278L1374.7 278.4L1374.2 278.8L1353.3 295.3L1352.6 295.8L1351.5 296.4L1350.4 296.6L1349.4 296.4L1348.2 295.8L1347.6 295.3L1347.1 294.9L1346.7 294.5L1346.2 293.8L1345.6 292.6ZM1366.3 275.1L1366.5 274.1L1367.1 272.9L1367.6 272.2L1368 271.8L1368.5 271.4L1369.1 270.9L1370.3 270.3L1391.2 261.9L1392.2 261.7L1393.2 261.9L1394.4 262.5L1395.1 263L1395.5 263.4L1395.9 263.8L1396.4 264.5L1397 265.7L1397.2 266.7L1397 267.7L1396.4 268.9L1395.9 269.6L1395.5 270L1395.1 270.4L1394.4 270.9L1393.2 271.5L1372.3 279.9L1371.3 280.1L1370.3 279.9L1369.1 279.3L1368.5 278.8L1368 278.4L1367.6 278L1367.1 277.3L1366.5 276.1ZM1387.2 266.7L1387.4 265.7L1388 264.5L1388.5 263.8L1388.9 263.4L1389.3 263L1390 262.5L1391.2 261.9L1392.2 261.7L1393.2 261.9L1394.4 262.5L1395.1 263L1395.5 263.4L1395.9 263.8L1416.8 290.2L1417.3 290.9L1417.9 292.1L1418.1 293.1L1417.9 294.1L1417.3 295.3L1416.8 296L1416.4 296.4L1416 296.8L1415.3 297.3L1414.1 297.9L1413.1 298.1L1412.1 297.9L1410.9 297.3L1410.2 296.8L1409.8 296.4L1409.4 296L1388.5 269.6L1388 268.9L1387.4 267.7ZM1408.1 293.1L1408.3 292.1L1408.9 290.9L1409.4 290.2L1409.8 289.8L1410.2 289.4L1410.9 288.9L1412.1 288.3L1413.1 288.1L1434 291L1435 291.2L1436.2 291.8L1436.8 292.3L1437.3 292.7L1437.7 293.1L1438.2 293.8L1438.8 295L1439 296L1438.8 297L1438.2 298.2L1437.7 298.9L1437.3 299.3L1436.8 299.7L1436.2 300.2L1435 300.8L1434 301L1413.1 298.1L1412.1 297.9L1410.9 297.3L1410.2 296.8L1409.8 296.4L1409.4 296L1408.9 295.3L1408.3 294.1ZM1429 296L1429.2 295L1429.8 293.8L1430.2 293.1L1430.7 292.7L1431.1 292.3L1431.8 291.8L1433 291.2L1434 291L1454.9 287.4L1455.9 287.6L1457.1 288.2L1457.7 288.7L1458.2 289.1L1458.6 289.5L1459.1 290.2L1459.7 291.4L1459.9 292.4L1459.7 293.4L1459.1 294.6L1458.6 295.3L1458.2 295.7L1457.7 296.1L1457.1 296.6L1455.9 297.2L1454.9 297.4L1434 301L1433 300.8L1431.8 300.2L1431.1 299.7L1430.7 299.3L1430.2 298.9L1429.8 298.2L1429.2 297ZM1449.9 292.4L1450.1 291.4L1450.7 290.2L1451.1 289.5L1451.5 289.1L1452 288.7L1452.7 288.2L1453.8 287.6L1454.9 287.4L1475.8 285.2L1476.8 285.4L1478 286L1478.6 286.5L1479.1 286.9L1479.5 287.3L1480 288L1480.6 289.2L1480.8 290.2L1480.6 291.2L1480 292.4L1479.5 293.1L1479.1 293.5L1478.6 293.9L1478 294.4L1476.8 295L1475.8 295.2L1454.9 297.4L1453.8 297.2L1452.7 296.6L1452 296.1L1451.5 295.7L1451.1 295.3L1450.7 294.6L1450.1 293.4ZM1470.8 290.2L1471 289.2L1471.5 288L1472 287.3L1492.9 262.2L1493.3 261.8L1493.8 261.4L1494.4 260.9L1495.6 260.3L1496.7 260.1L1497.7 260.3L1498.9 260.9L1499.5 261.4L1500 261.8L1500.4 262.2L1500.9 262.9L1501.5 264.1L1501.7 265.1L1501.5 266.1L1500.9 267.3L1500.4 268L1479.5 293.1L1479.1 293.5L1478.6 293.9L1478 294.4L1476.8 295L1475.8 295.2L1474.7 295L1473.5 294.4L1472.9 293.9L1472.4 293.5L1472 293.1L1471.5 292.4L1471 291.2ZM1491.7 265.1L1491.8 264.1L1492.4 262.9L1492.9 262.2L1493.3 261.8L1493.8 261.4L1494.4 260.9L1495.6 260.3L1496.7 260.1L1517.5 259.2L1518.6 259.4L1519.8 260L1520.4 260.5L1520.9 260.9L1521.3 261.3L1521.8 262L1522.3 263.2L1522.5 264.2L1522.3 265.2L1521.8 266.4L1521.3 267.1L1520.9 267.5L1520.4 267.9L1519.8 268.4L1518.6 269L1517.5 269.2L1496.7 270.1L1495.6 269.9L1494.4 269.3L1493.8 268.8L1493.3 268.4L1492.9 268L1492.4 267.3L1491.8 266.1ZM1512.5 264.2L1512.7 263.2L1513.3 262L1513.8 261.3L1514.2 260.9L1514.7 260.5L1515.3 260L1516.5 259.4L1537.4 249.4L1538.4 249.2L1539.5 249.4L1540.6 250L1541.3 250.5L1541.8 250.9L1542.2 251.3L1542.7 252L1543.2 253.2L1543.4 254.2L1543.2 255.2L1542.7 256.4L1542.2 257.1L1541.8 257.5L1541.3 257.9L1540.6 258.4L1539.5 259L1518.6 269L1517.5 269.2L1516.5 269L1515.3 268.4L1514.7 267.9L1514.2 267.5L1513.8 267.1L1513.3 266.4L1512.7 265.2ZM1533.4 254.2L1533.6 253.2L1534.2 252L1534.7 251.3L1535.1 250.9L1535.6 250.5L1536.2 250L1537.4 249.4L1538.4 249.2L1539.5 249.4L1540.6 250L1561.5 263.1L1562.2 263.6L1562.6 264L1563 264.4L1563.5 265.1L1564.1 266.3L1564.3 267.3L1564.1 268.3L1563.5 269.5L1563 270.2L1562.6 270.6L1562.2 271L1561.5 271.5L1560.3 272.1L1559.3 272.3L1558.3 272.1L1557.1 271.5L1536.2 258.4L1535.6 257.9L1535.1 257.5L1534.7 257.1L1534.2 256.4L1533.6 255.2ZM1554.3 267.3L1554.5 266.3L1555.1 265.1L1555.6 264.4L1556 264L1556.5 263.6L1557.1 263.1L1558.3 262.5L1559.3 262.3L1560.3 262.5L1561.5 263.1L1582.4 274.5L1583.1 275L1583.5 275.4L1583.9 275.8L1584.4 276.5L1585 277.7L1585.2 278.7L1585 279.7L1584.4 280.9L1583.9 281.6L1583.5 282L1583.1 282.4L1582.4 282.9L1581.2 283.5L1580.2 283.7L1579.2 283.5L1578 282.9L1557.1 271.5L1556.5 271L1556 270.6L1555.6 270.2L1555.1 269.5L1554.5 268.3ZM1575.2 278.7L1575.4 277.7L1576 276.5L1576.5 275.8L1576.9 275.4L1597.8 253.1L1598.2 252.7L1598.9 252.2L1600.1 251.6L1601.1 251.4L1602.1 251.6L1603.3 252.2L1604 252.7L1604.4 253.1L1604.8 253.5L1605.3 254.2L1605.9 255.4L1606.1 256.4L1605.9 257.4L1605.3 258.6L1604.8 259.3L1604.4 259.7L1583.5 282L1583.1 282.4L1582.4 282.9L1581.2 283.5L1580.2 283.7L1579.2 283.5L1578 282.9L1577.3 282.4L1576.9 282L1576.5 281.6L1576 280.9L1575.4 279.7ZM1596.1 256.4L1596.3 255.4L1596.9 254.2L1597.4 253.5L1597.8 253.1L1598.2 252.7L1598.9 252.2L1619.8 238.2L1621 237.6L1622 237.4L1623 237.6L1624.2 238.2L1624.8 238.7L1625.3 239.1L1625.7 239.5L1626.2 240.2L1626.8 241.4L1627 242.4L1626.8 243.4L1626.2 244.6L1625.7 245.3L1625.3 245.7L1624.8 246.1L1624.2 246.6L1603.3 260.6L1602.1 261.2L1601.1 261.4L1600.1 261.2L1598.9 260.6L1598.2 260.1L1597.8 259.7L1597.4 259.3L1596.9 258.6L1596.3 257.4ZM1617 242.4L1617.2 241.4L1617.8 240.2L1618.2 239.5L1618.7 239.1L1619.1 238.7L1619.8 238.2L1640.7 227.7L1641.8 227.1L1642.9 226.9L1643.9 227.1L1645.1 227.7L1645.7 228.2L1646.2 228.6L1646.6 229L1647.1 229.7L1647.7 230.9L1647.9 231.9L1647.7 232.9L1647.1 234.1L1646.6 234.8L1646.2 235.2L1645.7 235.6L1645.1 236.1L1624.2 246.6L1623 247.2L1622 247.4L1621 247.2L1619.8 246.6L1619.1 246.1L1618.7 245.7L1618.2 245.3L1617.8 244.6L1617.2 243.4ZM1637.9 231.9L1638.1 230.9L1638.7 229.7L1639.1 229L1639.5 228.6L1640 228.2L1640.7 227.7L1641.8 227.1L1642.9 226.9L1643.9 227.1L1664.8 232.4L1666 233L1666.6 233.5L1667.1 233.9L1667.5 234.3L1668 235L1668.6 236.2L1668.8 237.2L1668.6 238.2L1668 239.4L1667.5 240.1L1667.1 240.5L1666.6 240.9L1666 241.4L1664.8 242L1663.8 242.2L1662.7 242L1641.8 236.7L1640.7 236.1L1640 235.6L1639.5 235.2L1639.1 234.8L1638.7 234.1L1638.1 232.9ZM1658.8 237.2L1659 236.2L1659.5 235L1660 234.3L1660.4 233.9L1660.9 233.5L1661.5 233L1662.7 232.4L1663.8 232.2L1664.8 232.4L1666 233L1666.6 233.5L1667.1 233.9L1688 251.8L1688.4 252.2L1688.9 252.9L1689.5 254.1L1689.7 255.1L1689.5 256.1L1688.9 257.3L1688.4 258L1688 258.4L1687.5 258.8L1686.9 259.3L1685.7 259.9L1684.7 260.1L1683.6 259.9L1682.4 259.3L1681.8 258.8L1681.3 258.4L1660.4 240.5L1660 240.1L1659.5 239.4L1659 238.2ZM1679.7 255.1L1679.8 254.1L1680.4 252.9L1680.9 252.2L1681.3 251.8L1681.8 251.4L1682.4 250.9L1683.6 250.3L1684.7 250.1L1705.5 250.1L1706.5 250.3L1707.7 250.9L1708.4 251.4L1708.9 251.8L1709.3 252.2L1709.8 252.9L1710.3 254.1L1710.5 255.1L1710.3 256.1L1709.8 257.3L1709.3 258L1708.9 258.4L1708.4 258.8L1707.7 259.3L1706.5 259.9L1705.5 260.1L1684.7 260.1L1683.6 259.9L1682.4 259.3L1681.8 258.8L1681.3 258.4L1680.9 258L1680.4 257.3L1679.8 256.1ZM1700.5 255.1L1700.7 254.1L1701.3 252.9L1701.8 252.2L1702.2 251.8L1723.1 233L1723.6 232.6L1724.2 232.1L1725.4 231.5L1726.4 231.3L1727.4 231.5L1728.6 232.1L1729.3 232.6L1729.8 233L1730.2 233.4L1730.6 234.1L1731.2 235.3L1731.4 236.3L1731.2 237.3L1730.6 238.5L1730.2 239.2L1729.8 239.6L1708.9 258.4L1708.4 258.8L1707.7 259.3L1706.5 259.9L1705.5 260.1L1704.5 259.9L1703.3 259.3L1702.7 258.8L1702.2 258.4L1701.8 258L1701.3 257.3L1700.7 256.1ZM1721.4 236.3L1721.6 235.3L1722.2 234.1L1722.7 233.4L1723.1 233L1723.6 232.6L1724.2 232.1L1725.4 231.5L1726.4 231.3L1727.4 231.5L1728.6 232.1L1749.5 243.1L1750.2 243.6L1750.6 244L1751 244.4L1751.5 245.1L1752.1 246.3L1752.3 247.3L1752.1 248.3L1751.5 249.5L1751 250.2L1750.6 250.6L1750.2 251L1749.5 251.5L1748.3 252.1L1747.3 252.3L1746.3 252.1L1745.1 251.5L1724.2 240.5L1723.6 240L1723.1 239.6L1722.7 239.2L1722.2 238.5L1721.6 237.3ZM1742.3 247.3L1742.5 246.3L1743.1 245.1L1743.6 244.4L1744 244L1744.5 243.6L1745.1 243.1L1746.3 242.5L1747.3 242.3L1748.3 242.5L1769.2 251.6L1770.4 252.2L1771.1 252.7L1771.5 253.1L1771.9 253.5L1772.4 254.2L1773 255.4L1773.2 256.4L1773 257.4L1772.4 258.6L1771.9 259.3L1771.5 259.7L1771.1 260.1L1770.4 260.6L1769.2 261.2L1768.2 261.4L1767.2 261.2L1746.3 252.1L1745.1 251.5L1744.5 251L1744 250.6L1743.6 250.2L1743.1 249.5L1742.5 248.3ZM1763.2 256.4L1763.4 255.4L1764 254.2L1764.5 253.5L1764.9 253.1L1765.3 252.7L1766 252.2L1767.2 251.6L1768.2 251.4L1769.2 251.6L1790.1 260.7L1791.3 261.3L1792 261.8L1792.4 262.2L1792.8 262.6L1793.3 263.3L1793.9 264.5L1794.1 265.5L1793.9 266.5L1793.3 267.7L1792.8 268.4L1792.4 268.8L1792 269.2L1791.3 269.7L1790.1 270.3L1789.1 270.5L1788.1 270.3L1767.2 261.2L1766 260.6L1765.3 260.1L1764.9 259.7L1764.5 259.3L1764 258.6L1763.4 257.4Z"/>
<path clip-path="url(#ca)" fill="#ff0000" d="M280.1 45L280.3 44L280.9 42.8L281.4 42.1L281.8 41.7L282.2 41.3L282.9 40.8L284.1 40.2L285.1 40L286.1 40.2L287.3 40.8L288 41.3L288.4 41.7L288.8 42.1L289.3 42.8L310.2 80.4L310.8 81.6L311 82.6L310.8 83.6L310.2 84.8L309.7 85.5L309.3 85.9L308.9 86.3L308.2 86.8L307 87.4L306 87.6L305 87.4L303.8 86.8L303.1 86.3L302.7 85.9L302.3 85.5L301.8 84.8L280.9 47.2L280.3 46ZM301 82.6L301.2 81.6L301.8 80.4L302.3 79.7L302.7 79.3L303.1 78.9L303.8 78.4L305 77.8L306 77.6L307 77.8L308.2 78.4L308.9 78.9L309.3 79.3L309.7 79.7L310.2 80.4L331.1 118L331.7 119.2L331.9 120.2L331.7 121.2L331.1 122.4L330.6 123.1L330.2 123.5L329.8 123.9L329.1 124.4L327.9 125L326.9 125.2L325.9 125L324.7 124.4L324 123.9L323.6 123.5L323.2 123.1L322.7 122.4L301.8 84.8L301.2 83.6ZM321.9 120.2L322.1 119.2L322.7 118L323.2 117.3L323.6 116.9L324 116.5L324.7 116L325.9 115.4L326.9 115.2L327.9 115.4L329.1 116L329.8 116.5L330.2 116.9L351.1 135.6L351.5 136L352 136.7L352.6 137.9L352.8 138.9L352.6 139.9L352 141.1L351.5 141.8L351.1 142.2L350.6 142.6L350 143.1L348.8 143.7L347.8 143.9L346.8 143.7L345.6 143.1L344.9 142.6L344.4 142.2L323.6 123.5L323.2 123.1L322.7 122.4L322.1 121.2ZM342.8 138.9L343 137.9L343.6 136.7L344.1 136L344.4 135.6L344.9 135.2L345.6 134.7L346.8 134.1L347.8 133.9L368.7 129.9L369.7 130.1L370.9 130.7L371.5 131.2L372 131.6L372.4 132L372.9 132.7L373.5 133.9L373.7 134.9L373.5 135.9L372.9 137.1L372.4 137.8L372 138.2L371.5 138.6L370.9 139.1L369.7 139.7L368.7 139.9L347.8 143.9L346.8 143.7L345.6 143.1L344.9 142.6L344.4 142.2L344.1 141.8L343.6 141.1L343 139.9ZM363.7 134.9L363.9 133.9L364.4 132.7L364.9 132L365.3 131.6L365.8 131.2L366.5 130.7L367.6 130.1L368.7 129.9L369.7 130.1L370.9 130.7L391.8 143.9L392.4 144.4L392.9 144.8L393.3 145.2L393.8 145.9L394.4 147.1L394.6 148.1L394.4 149.1L393.8 150.3L393.3 151L392.9 151.4L392.4 151.8L391.8 152.3L390.6 152.9L389.6 153.1L388.5 152.9L387.3 152.3L366.5 139.1L365.8 138.6L365.3 138.2L364.9 137.8L364.4 137.1L363.9 135.9ZM384.6 148.1L384.8 147.1L385.3 145.9L385.8 145.2L386.2 144.8L386.7 144.4L387.3 143.9L388.5 143.3L389.6 143.1L390.6 143.3L391.8 143.9L412.6 156.6L413.3 157.1L413.8 157.5L414.2 157.9L414.7 158.6L415.2 159.8L415.4 160.8L415.2 161.8L414.7 163L414.2 163.7L413.8 164.1L413.3 164.5L412.6 165L411.5 165.6L410.4 165.8L409.4 165.6L408.2 165L387.3 152.3L386.7 151.8L386.2 151.4L385.8 151L385.3 150.3L384.8 149.1ZM405.4 160.8L405.6 159.8L406.2 158.6L406.7 157.9L407.1 157.5L407.6 157.1L408.2 156.6L409.4 156L410.4 155.8L431.3 155.8L432.4 156L433.5 156.6L434.2 157.1L434.7 157.5L435.1 157.9L435.6 158.6L436.1 159.8L436.3 160.8L436.1 161.8L435.6 163L435.1 163.7L434.7 164.1L434.2 164.5L433.5 165L432.4 165.6L431.3 165.8L410.4 165.8L409.4 165.6L408.2 165L407.6 164.5L407.1 164.1L406.7 163.7L406.2 163L405.6 161.8ZM426.3 160.8L426.5 159.8L427.1 158.6L427.6 157.9L428 157.5L428.5 157.1L429.1 156.6L430.3 156L431.3 155.8L432.4 156L433.5 156.6L454.4 168.1L455.1 168.6L455.6 169L455.9 169.4L456.4 170.1L457 171.3L457.2 172.3L457 173.3L456.4 174.5L455.9 175.2L455.6 175.6L455.1 176L454.4 176.5L453.2 177.1L452.2 177.3L451.2 177.1L450 176.5L429.1 165L428.5 164.5L428 164.1L427.6 163.7L427.1 163L426.5 161.8ZM447.2 172.3L447.4 171.3L448 170.1L448.5 169.4L448.9 169L449.4 168.6L450 168.1L451.2 167.5L452.2 167.3L453.2 167.5L474.1 175.9L475.3 176.5L476 177L476.4 177.4L476.8 177.8L477.3 178.5L477.9 179.7L478.1 180.7L477.9 181.7L477.3 182.9L476.8 183.6L476.4 184L476 184.4L475.3 184.9L474.1 185.5L473.1 185.7L472.1 185.5L451.2 177.1L450 176.5L449.4 176L448.9 175.6L448.5 175.2L448 174.5L447.4 173.3ZM468.1 180.7L468.3 179.7L468.9 178.5L469.4 177.8L469.8 177.4L470.2 177L470.9 176.5L472.1 175.9L473.1 175.7L494 176.3L495 176.5L496.2 177.1L496.9 177.6L497.3 178L497.7 178.4L498.2 179.1L498.8 180.3L499 181.3L498.8 182.3L498.2 183.5L497.7 184.2L497.3 184.6L496.9 185L496.2 185.5L495 186.1L494 186.3L473.1 185.7L472.1 185.5L470.9 184.9L470.2 184.4L469.8 184L469.4 183.6L468.9 182.9L468.3 181.7ZM489 181.3L489.2 180.3L489.8 179.1L490.3 178.4L490.7 178L491.1 177.6L491.8 177.1L493 176.5L494 176.3L495 176.5L496.2 177.1L496.9 177.6L517.8 194.5L518.2 194.9L518.6 195.3L519.1 196L519.7 197.2L519.9 198.2L519.7 199.2L519.1 200.4L518.6 201.1L518.2 201.5L517.8 201.9L517.1 202.4L515.9 203L514.9 203.2L513.9 203L512.7 202.4L512 201.9L491.1 185L490.7 184.6L490.3 184.2L489.8 183.5L489.2 182.3ZM509.9 198.2L510.1 197.2L510.7 196L511.2 195.3L511.6 194.9L512 194.5L512.7 194L513.9 193.4L514.9 193.2L515.9 193.4L536.8 201.7L538 202.3L538.6 202.8L539.1 203.2L539.5 203.6L540 204.3L540.6 205.5L540.8 206.5L540.6 207.5L540 208.7L539.5 209.4L539.1 209.8L538.6 210.2L538 210.7L536.8 211.3L535.8 211.5L534.8 211.3L513.9 203L512.7 202.4L512 201.9L511.6 201.5L511.2 201.1L510.7 200.4L510.1 199.2ZM530.8 206.5L531 205.5L531.5 204.3L532 203.6L532.4 203.2L532.9 202.8L533.6 202.3L534.8 201.7L535.8 201.5L556.7 202.9L557.7 203.1L558.9 203.7L559.5 204.2L560 204.6L560.4 205L560.9 205.7L561.5 206.9L561.7 207.9L561.5 208.9L560.9 210.1L560.4 210.8L560 211.2L559.5 211.6L558.9 212.1L557.7 212.7L556.7 212.9L535.8 211.5L534.8 211.3L533.6 210.7L532.9 210.2L532.4 209.8L532 209.4L531.5 208.7L531 207.5ZM551.7 207.9L551.9 206.9L552.4 205.7L552.9 205L553.3 204.6L553.8 204.2L554.5 203.7L555.6 203.1L556.7 202.9L557.7 203.1L558.9 203.7L579.8 217.8L580.4 218.3L580.9 218.7L581.3 219.1L581.8 219.8L582.4 221L582.5 222L582.4 223L581.8 224.2L581.3 224.9L580.9 225.3L580.4 225.7L579.8 226.2L578.6 226.8L577.5 227L576.5 226.8L575.3 226.2L554.5 212.1L553.8 211.6L553.3 211.2L552.9 210.8L552.4 210.1L551.9 208.9ZM572.5 222L572.8 221L573.3 219.8L573.8 219.1L574.2 218.7L574.7 218.3L575.3 217.8L576.5 217.2L577.5 217L578.6 217.2L599.5 225.1L600.6 225.7L601.3 226.2L601.8 226.6L602.2 227L602.7 227.7L603.2 228.9L603.4 229.9L603.2 230.9L602.7 232.1L602.2 232.8L601.8 233.2L601.3 233.6L600.6 234.1L599.5 234.7L598.4 234.9L597.4 234.7L576.5 226.8L575.3 226.2L574.7 225.7L574.2 225.3L573.8 224.9L573.3 224.2L572.8 223ZM593.4 229.9L593.6 228.9L594.2 227.7L594.7 227L595.1 226.6L595.6 226.2L596.2 225.7L597.4 225.1L598.4 224.9L599.5 225.1L600.6 225.7L621.5 236.2L622.2 236.7L622.7 237.1L623.1 237.5L623.5 238.2L624.1 239.4L624.3 240.4L624.1 241.4L623.5 242.6L623.1 243.3L622.7 243.7L622.2 244.1L621.5 244.6L620.4 245.2L619.3 245.4L618.3 245.2L617.1 244.6L596.2 234.1L595.6 233.6L595.1 233.2L594.7 232.8L594.2 232.1L593.6 230.9ZM614.3 240.4L614.5 239.4L615.1 238.2L615.6 237.5L616 237.1L616.5 236.7L617.1 236.2L618.3 235.6L619.3 235.4L620.4 235.6L621.5 236.2L642.4 247.8L643.1 248.3L643.5 248.7L644 249.1L644.4 249.8L645 251L645.2 252L645 253L644.4 254.2L644 254.9L643.5 255.3L643.1 255.7L642.4 256.2L641.2 256.8L640.2 257L639.2 256.8L638 256.2L617.1 244.6L616.5 244.1L616 243.7L615.6 243.3L615.1 242.6L614.5 241.4ZM635.2 252L635.4 251L636 249.8L636.5 249.1L636.9 248.7L637.4 248.3L638 247.8L639.2 247.2L640.2 247L641.2 247.2L642.4 247.8L643.1 248.3L643.5 248.7L664.4 268.7L664.8 269.1L665.3 269.8L665.9 271L666.1 272L665.9 273L665.3 274.2L664.8 274.9L664.4 275.3L664 275.7L663.3 276.2L662.1 276.8L661.1 277L660.1 276.8L658.9 276.2L658.2 275.7L657.8 275.3L636.9 255.3L636.5 254.9L636 254.2L635.4 253ZM656.1 272L656.3 271L656.9 269.8L657.4 269.1L657.8 268.7L658.2 268.3L658.9 267.8L660.1 267.2L661.1 267L682 264.2L683 264.4L684.2 265L684.9 265.5L685.3 265.9L685.7 266.3L686.2 267L686.8 268.2L687 269.2L686.8 270.2L686.2 271.4L685.7 272.1L685.3 272.5L684.9 272.9L684.2 273.4L683 274L682 274.2L661.1 277L660.1 276.8L658.9 276.2L658.2 275.7L657.8 275.3L657.4 274.9L656.9 274.2L656.3 273ZM677 269.2L677.2 268.2L677.8 267L678.3 266.3L678.7 265.9L679.1 265.5L679.8 265L681 264.4L682 264.2L702.9 263.8L703.9 264L705.1 264.6L705.7 265.1L706.2 265.5L706.6 265.9L707.1 266.6L707.7 267.8L707.9 268.8L707.7 269.8L707.1 271L706.6 271.7L706.2 272.1L705.7 272.5L705.1 273L703.9 273.6L702.9 273.8L682 274.2L681 274L679.8 273.4L679.1 272.9L678.7 272.5L678.3 272.1L677.8 271.4L677.2 270.2ZM697.9 268.8L698.1 267.8L698.7 266.6L699.1 265.9L699.5 265.5L700 265.1L700.7 264.6L701.9 264L702.9 263.8L703.9 264L705.1 264.6L726 275.8L726.6 276.3L727.1 276.7L727.5 277.1L728 277.8L728.6 279L728.8 280L728.6 281L728 282.2L727.5 282.9L727.1 283.3L726.6 283.7L726 284.2L724.8 284.8L723.8 285L722.8 284.8L721.6 284.2L700.7 273L700 272.5L699.5 272.1L699.1 271.7L698.7 271L698.1 269.8ZM718.8 280L719 279L719.5 277.8L720 277.1L720.4 276.7L720.9 276.3L721.6 275.8L722.8 275.2L723.8 275L724.8 275.2L726 275.8L726.6 276.3L747.5 292.5L748 292.9L748.4 293.3L748.9 294L749.5 295.2L749.7 296.2L749.5 297.2L748.9 298.4L748.4 299.1L748 299.5L747.5 299.9L746.9 300.4L745.7 301L744.7 301.2L743.6 301L742.5 300.4L741.8 299.9L720.9 283.7L720.4 283.3L720 282.9L719.5 282.2L719 281ZM739.7 296.2L739.9 295.2L740.4 294L740.9 293.3L741.3 292.9L741.8 292.5L742.5 292L743.6 291.4L744.7 291.2L765.5 293.3L766.6 293.5L767.8 294.1L768.4 294.6L768.9 295L769.3 295.4L769.8 296.1L770.4 297.3L770.5 298.3L770.4 299.3L769.8 300.5L769.3 301.2L768.9 301.6L768.4 302L767.8 302.5L766.6 303.1L765.5 303.3L744.7 301.2L743.6 301L742.5 300.4L741.8 299.9L741.3 299.5L740.9 299.1L740.4 298.4L739.9 297.2ZM760.5 298.3L760.8 297.3L761.3 296.1L761.8 295.4L762.2 295L762.7 294.6L763.3 294.1L764.5 293.5L765.5 293.3L766.6 293.5L787.5 297.6L788.6 298.2L789.3 298.7L789.8 299.1L790.2 299.5L790.7 300.2L791.2 301.4L791.4 302.4L791.2 303.4L790.7 304.6L790.2 305.3L789.8 305.7L789.3 306.1L788.6 306.6L787.5 307.2L786.4 307.4L785.4 307.2L764.5 303.1L763.3 302.5L762.7 302L762.2 301.6L761.8 301.2L761.3 300.5L760.8 299.3ZM781.4 302.4L781.6 301.4L782.2 300.2L782.7 299.5L783.1 299.1L783.6 298.7L784.2 298.2L785.4 297.6L786.4 297.4L787.5 297.6L808.4 305.5L809.5 306.1L810.2 306.6L810.7 307L811.1 307.4L811.5 308.1L812.1 309.3L812.3 310.3L812.1 311.3L811.5 312.5L811.1 313.2L810.7 313.6L810.2 314L809.5 314.5L808.4 315.1L807.3 315.3L806.3 315.1L785.4 307.2L784.2 306.6L783.6 306.1L783.1 305.7L782.7 305.3L782.2 304.6L781.6 303.4ZM802.3 310.3L802.5 309.3L803.1 308.1L803.6 307.4L804 307L804.5 306.6L805.1 306.1L806.3 305.5L807.3 305.3L808.4 305.5L829.2 310.6L830.4 311.2L831.1 311.7L831.5 312.1L831.9 312.5L832.4 313.2L833 314.4L833.2 315.4L833 316.4L832.4 317.6L831.9 318.3L831.5 318.7L831.1 319.1L830.4 319.6L829.2 320.2L828.2 320.4L827.2 320.2L806.3 315.1L805.1 314.5L804.5 314L804 313.6L803.6 313.2L803.1 312.5L802.5 311.3ZM823.2 315.4L823.4 314.4L824 313.2L824.5 312.5L824.9 312.1L825.4 311.7L826 311.2L827.2 310.6L828.2 310.4L849.1 310.8L850.1 311L851.3 311.6L852 312.1L852.4 312.5L852.8 312.9L853.3 313.6L853.9 314.8L854.1 315.8L853.9 316.8L853.3 318L852.8 318.7L852.4 319.1L852 319.5L851.3 320L850.1 320.6L849.1 320.8L828.2 320.4L827.2 320.2L826 319.6L825.4 319.1L824.9 318.7L824.5 318.3L824 317.6L823.4 316.4ZM844.1 315.8L844.3 314.8L844.9 313.6L845.4 312.9L845.8 312.5L846.2 312.1L846.9 311.6L848.1 311L849.1 310.8L870 313.5L871 313.7L872.2 314.3L872.9 314.8L873.3 315.2L873.7 315.6L874.2 316.3L874.8 317.5L875 318.5L874.8 319.5L874.2 320.7L873.7 321.4L873.3 321.8L872.9 322.2L872.2 322.7L871 323.3L870 323.5L849.1 320.8L848.1 320.6L846.9 320L846.2 319.5L845.8 319.1L845.4 318.7L844.9 318L844.3 316.8ZM865 318.5L865.2 317.5L865.8 316.3L866.3 315.6L866.7 315.2L867.1 314.8L867.8 314.3L869 313.7L870 313.5L871 313.7L872.2 314.3L872.9 314.8L873.3 315.2L873.7 315.6L874.2 316.3L895.1 350.9L895.7 352.1L895.9 353.1L895.7 354.1L895.1 355.3L894.6 356L894.2 356.4L893.7 356.8L893.1 357.3L891.9 357.9L890.9 358.1L889.9 357.9L888.7 357.3L888 356.8L887.5 356.4L887.1 356L886.7 355.3L865.8 320.7L865.2 319.5ZM885.9 353.1L886.1 352.1L886.7 350.9L887.1 350.2L887.5 349.8L888 349.4L888.7 348.9L909.6 333.9L910.8 333.3L911.8 333.1L912.8 333.3L914 333.9L914.6 334.4L915.1 334.8L915.5 335.2L916 335.9L916.6 337.1L916.8 338.1L916.6 339.1L916 340.3L915.5 341L915.1 341.4L914.6 341.8L914 342.3L893.1 357.3L891.9 357.9L890.9 358.1L889.9 357.9L888.7 357.3L888 356.8L887.5 356.4L887.1 356L886.7 355.3L886.1 354.1ZM906.8 338.1L907 337.1L907.5 335.9L908 335.2L908.4 334.8L908.9 334.4L909.6 333.9L910.8 333.3L911.8 333.1L932.7 334.9L933.7 335.1L934.9 335.7L935.5 336.2L936 336.6L936.4 337L936.9 337.7L937.5 338.9L937.7 339.9L937.5 340.9L936.9 342.1L936.4 342.8L936 343.2L935.5 343.6L934.9 344.1L933.7 344.7L932.7 344.9L911.8 343.1L910.8 342.9L909.6 342.3L908.9 341.8L908.4 341.4L908 341L907.5 340.3L907 339.1ZM927.7 339.9L927.9 338.9L928.4 337.7L928.9 337L929.3 336.6L929.8 336.2L930.5 335.7L931.6 335.1L932.7 334.9L933.7 335.1L954.6 344.4L955.8 345L956.4 345.5L956.9 345.9L957.3 346.3L957.8 347L958.4 348.2L958.5 349.2L958.4 350.2L957.8 351.4L957.3 352.1L956.9 352.5L956.4 352.9L955.8 353.4L954.6 354L953.5 354.2L952.5 354L931.6 344.7L930.5 344.1L929.8 343.6L929.3 343.2L928.9 342.8L928.4 342.1L927.9 340.9ZM948.5 349.2L948.8 348.2L949.3 347L949.8 346.3L950.2 345.9L950.7 345.5L951.3 345L952.5 344.4L953.5 344.2L974.4 346.1L975.5 346.3L976.6 346.9L977.3 347.4L977.8 347.8L978.2 348.2L978.6 348.9L979.2 350.1L979.4 351.1L979.2 352.1L978.6 353.3L978.2 354L977.8 354.4L977.3 354.8L976.6 355.3L975.5 355.9L974.4 356.1L953.5 354.2L952.5 354L951.3 353.4L950.7 352.9L950.2 352.5L949.8 352.1L949.3 351.4L948.8 350.2ZM969.4 351.1L969.6 350.1L970.2 348.9L970.7 348.2L971.1 347.8L971.6 347.4L972.2 346.9L973.4 346.3L974.4 346.1L975.5 346.3L996.3 352.6L997.5 353.2L998.2 353.7L998.6 354.1L999 354.5L999.5 355.2L1000.1 356.4L1000.3 357.4L1000.1 358.4L999.5 359.6L999 360.3L998.6 360.7L998.2 361.1L997.5 361.6L996.3 362.2L995.3 362.4L994.3 362.2L973.4 355.9L972.2 355.3L971.6 354.8L971.1 354.4L970.7 354L970.2 353.3L969.6 352.1ZM990.3 357.4L990.5 356.4L991.1 355.2L991.6 354.5L992 354.1L992.5 353.7L993.1 353.2L994.3 352.6L995.3 352.4L996.3 352.6L997.5 353.2L1018.4 364.5L1019.1 365L1019.5 365.4L1019.9 365.8L1020.4 366.5L1021 367.7L1021.2 368.7L1021 369.7L1020.4 370.9L1019.9 371.6L1019.5 372L1019.1 372.4L1018.4 372.9L1017.2 373.5L1016.2 373.7L1015.2 373.5L1014 372.9L993.1 361.6L992.5 361.1L992 360.7L991.6 360.3L991.1 359.6L990.5 358.4ZM1011.2 368.7L1011.4 367.7L1012 366.5L1012.5 365.8L1012.9 365.4L1013.4 365L1014 364.5L1015.2 363.9L1016.2 363.7L1017.2 363.9L1038.1 371.6L1039.3 372.2L1040 372.7L1040.4 373.1L1040.8 373.5L1041.3 374.2L1041.9 375.4L1042.1 376.4L1041.9 377.4L1041.3 378.6L1040.8 379.3L1040.4 379.7L1040 380.1L1039.3 380.6L1038.1 381.2L1037.1 381.4L1036.1 381.2L1015.2 373.5L1014 372.9L1013.4 372.4L1012.9 372L1012.5 371.6L1012 370.9L1011.4 369.7ZM1032.1 376.4L1032.3 375.4L1032.9 374.2L1033.4 373.5L1033.8 373.1L1034.2 372.7L1034.9 372.2L1036.1 371.6L1037.1 371.4L1058 372.4L1059 372.6L1060.2 373.2L1060.8 373.7L1061.3 374.1L1061.7 374.5L1062.2 375.2L1062.8 376.4L1063 377.4L1062.8 378.4L1062.2 379.6L1061.7 380.3L1061.3 380.7L1060.8 381.1L1060.2 381.6L1059 382.2L1058 382.4L1037.1 381.4L1036.1 381.2L1034.9 380.6L1034.2 380.1L1033.8 379.7L1033.4 379.3L1032.9 378.6L1032.3 377.4ZM1053 377.4L1053.2 376.4L1053.8 375.2L1054.3 374.5L1054.7 374.1L1055.1 373.7L1055.8 373.2L1057 372.6L1058 372.4L1059 372.6L1079.9 380.5L1081.1 381.1L1081.7 381.6L1082.2 382L1082.6 382.4L1083.1 383.1L1083.7 384.3L1083.9 385.3L1083.7 386.3L1083.1 387.5L1082.6 388.2L1082.2 388.6L1081.7 389L1081.1 389.5L1079.9 390.1L1078.9 390.3L1077.9 390.1L1057 382.2L1055.8 381.6L1055.1 381.1L1054.7 380.7L1054.3 380.3L1053.8 379.6L1053.2 378.4ZM1073.9 385.3L1074.1 384.3L1074.7 383.1L1075.2 382.4L1075.5 382L1076 381.6L1076.7 381.1L1077.9 380.5L1078.9 380.3L1079.9 380.5L1081.1 381.1L1081.7 381.6L1102.6 398L1103.1 398.4L1103.5 398.8L1104 399.5L1104.6 400.7L1104.8 401.7L1104.6 402.7L1104 403.9L1103.5 404.6L1103.1 405L1102.6 405.4L1102 405.9L1100.8 406.5L1099.8 406.7L1098.8 406.5L1097.6 405.9L1096.9 405.4L1076 389L1075.5 388.6L1075.2 388.2L1074.7 387.5L1074.1 386.3ZM1094.8 401.7L1095 400.7L1095.5 399.5L1096 398.8L1096.4 398.4L1096.9 398L1097.6 397.5L1098.8 396.9L1099.8 396.7L1100.8 396.9L1102 397.5L1102.6 398L1103.1 398.4L1124 418.6L1124.4 419L1124.9 419.7L1125.5 420.9L1125.7 421.9L1125.5 422.9L1124.9 424.1L1124.4 424.8L1124 425.2L1123.5 425.6L1122.9 426.1L1121.7 426.7L1120.7 426.9L1119.6 426.7L1118.4 426.1L1117.8 425.6L1117.3 425.2L1096.4 405L1096 404.6L1095.5 403.9L1095 402.7ZM1115.7 421.9L1115.8 420.9L1116.4 419.7L1137.3 390.8L1137.8 390.1L1138.2 389.7L1138.7 389.3L1139.3 388.8L1140.5 388.2L1141.5 388L1142.6 388.2L1143.8 388.8L1144.4 389.3L1144.9 389.7L1145.3 390.1L1145.8 390.8L1146.3 392L1146.5 393L1146.3 394L1145.8 395.2L1124.9 424.1L1124.4 424.8L1124 425.2L1123.5 425.6L1122.9 426.1L1121.7 426.7L1120.7 426.9L1119.6 426.7L1118.4 426.1L1117.8 425.6L1117.3 425.2L1116.9 424.8L1116.4 424.1L1115.8 422.9ZM1136.5 393L1136.7 392L1137.3 390.8L1137.8 390.1L1138.2 389.7L1138.7 389.3L1139.3 388.8L1140.5 388.2L1141.5 388L1142.6 388.2L1143.8 388.8L1164.6 400.1L1165.3 400.6L1165.8 401L1166.2 401.4L1166.7 402.1L1167.2 403.3L1167.4 404.3L1167.2 405.3L1166.7 406.5L1166.2 407.2L1165.8 407.6L1165.3 408L1164.6 408.5L1163.5 409.1L1162.4 409.3L1161.4 409.1L1160.2 408.5L1139.3 397.2L1138.7 396.7L1138.2 396.3L1137.8 395.9L1137.3 395.2L1136.7 394ZM1157.4 404.3L1157.6 403.3L1158.2 402.1L1158.7 401.4L1159.1 401L1159.6 400.6L1160.2 400.1L1161.4 399.5L1162.4 399.3L1183.3 400.8L1184.3 401L1185.5 401.6L1186.2 402.1L1186.7 402.5L1187 402.9L1187.5 403.6L1188.1 404.8L1188.3 405.8L1188.1 406.8L1187.5 408L1187 408.7L1186.7 409.1L1186.2 409.5L1185.5 410L1184.3 410.6L1183.3 410.8L1162.4 409.3L1161.4 409.1L1160.2 408.5L1159.6 408L1159.1 407.6L1158.7 407.2L1158.2 406.5L1157.6 405.3ZM1178.3 405.8L1178.5 404.8L1179.1 403.6L1179.6 402.9L1180 402.5L1180.5 402.1L1181.1 401.6L1182.3 401L1183.3 400.8L1184.3 401L1205.2 406.7L1206.4 407.3L1207.1 407.8L1207.5 408.2L1207.9 408.6L1208.4 409.3L1209 410.5L1209.2 411.5L1209 412.5L1208.4 413.7L1207.9 414.4L1207.5 414.8L1207.1 415.2L1206.4 415.7L1205.2 416.3L1204.2 416.5L1203.2 416.3L1182.3 410.6L1181.1 410L1180.5 409.5L1180 409.1L1179.6 408.7L1179.1 408L1178.5 406.8ZM1199.2 411.5L1199.4 410.5L1200 409.3L1200.5 408.6L1200.9 408.2L1201.3 407.8L1202 407.3L1203.2 406.7L1204.2 406.5L1205.2 406.7L1206.4 407.3L1207.1 407.8L1207.5 408.2L1228.4 429.4L1228.8 429.8L1229.3 430.5L1229.9 431.7L1230.1 432.7L1229.9 433.7L1229.3 434.9L1228.8 435.6L1228.4 436L1228 436.4L1227.3 436.9L1226.1 437.5L1225.1 437.7L1224.1 437.5L1222.9 436.9L1222.2 436.4L1221.8 436L1200.9 414.8L1200.5 414.4L1200 413.7L1199.4 412.5ZM1220.1 432.7L1220.3 431.7L1220.9 430.5L1221.4 429.8L1221.8 429.4L1222.2 429L1222.9 428.5L1243.8 417.6L1245 417L1246 416.8L1247 417L1248.2 417.6L1248.8 418.1L1249.3 418.5L1249.7 418.9L1250.2 419.6L1250.8 420.8L1251 421.8L1250.8 422.8L1250.2 424L1249.7 424.7L1249.3 425.1L1248.8 425.5L1248.2 426L1227.3 436.9L1226.1 437.5L1225.1 437.7L1224.1 437.5L1222.9 436.9L1222.2 436.4L1221.8 436L1221.4 435.6L1220.9 434.9L1220.3 433.7ZM1241 421.8L1241.2 420.8L1241.8 419.6L1242.3 418.9L1242.7 418.5L1243.1 418.1L1243.8 417.6L1245 417L1246 416.8L1247 417L1248.2 417.6L1248.8 418.1L1249.3 418.5L1270.2 440.2L1270.6 440.6L1271.1 441.3L1271.7 442.5L1271.9 443.5L1271.7 444.5L1271.1 445.7L1270.6 446.4L1270.2 446.8L1269.7 447.2L1269.1 447.7L1267.9 448.3L1266.9 448.5L1265.8 448.3L1264.7 447.7L1264 447.2L1263.5 446.8L1242.7 425.1L1242.3 424.7L1241.8 424L1241.2 422.8ZM1261.9 443.5L1262.1 442.5L1262.7 441.3L1263.1 440.6L1263.5 440.2L1264 439.8L1264.7 439.3L1265.8 438.7L1286.7 434.3L1287.8 434.1L1288.8 434.3L1290 434.9L1290.6 435.4L1291.1 435.8L1291.5 436.2L1292 436.9L1292.6 438.1L1292.8 439.1L1292.6 440.1L1292 441.3L1291.5 442L1291.1 442.4L1290.6 442.8L1290 443.3L1288.8 443.9L1267.9 448.3L1266.9 448.5L1265.8 448.3L1264.7 447.7L1264 447.2L1263.5 446.8L1263.1 446.4L1262.7 445.7L1262.1 444.5ZM1282.8 439.1L1283 438.1L1283.5 436.9L1284 436.2L1284.4 435.8L1305.3 414.3L1305.8 413.9L1306.4 413.4L1307.6 412.8L1308.7 412.6L1309.7 412.8L1310.9 413.4L1311.5 413.9L1312 414.3L1312.4 414.7L1312.9 415.4L1313.5 416.6L1313.7 417.6L1313.5 418.6L1312.9 419.8L1312.4 420.5L1312 420.9L1291.1 442.4L1290.6 442.8L1290 443.3L1288.8 443.9L1287.8 444.1L1286.7 443.9L1285.5 443.3L1284.9 442.8L1284.4 442.4L1284 442L1283.5 441.3L1283 440.1ZM1303.7 417.6L1303.8 416.6L1304.4 415.4L1304.9 414.7L1305.3 414.3L1305.8 413.9L1306.4 413.4L1307.6 412.8L1308.7 412.6L1309.7 412.8L1310.9 413.4L1311.5 413.9L1312 414.3L1312.4 414.7L1333.3 441L1333.8 441.7L1334.3 442.9L1334.5 443.9L1334.3 444.9L1333.8 446.1L1333.3 446.8L1332.9 447.2L1332.4 447.6L1331.8 448.1L1330.6 448.7L1329.5 448.9L1328.5 448.7L1327.3 448.1L1326.7 447.6L1326.2 447.2L1325.8 446.8L1304.9 420.5L1304.4 419.8L1303.8 418.6ZM1324.5 443.9L1324.7 442.9L1325.3 441.7L1325.8 441L1326.2 440.6L1326.7 440.2L1327.3 439.7L1328.5 439.1L1329.5 438.9L1350.4 435.5L1351.5 435.7L1352.6 436.3L1353.3 436.8L1353.8 437.2L1354.2 437.6L1354.7 438.3L1355.2 439.5L1355.4 440.5L1355.2 441.5L1354.7 442.7L1354.2 443.4L1353.8 443.8L1353.3 444.2L1352.6 444.7L1351.5 445.3L1350.4 445.5L1329.5 448.9L1328.5 448.7L1327.3 448.1L1326.7 447.6L1326.2 447.2L1325.8 446.8L1325.3 446.1L1324.7 444.9ZM1345.4 440.5L1345.6 439.5L1346.2 438.3L1346.7 437.6L1347.1 437.2L1347.6 436.8L1348.2 436.3L1349.4 435.7L1350.4 435.5L1351.5 435.7L1352.6 436.3L1373.5 447.6L1374.2 448.1L1374.7 448.5L1375 448.9L1375.5 449.6L1376.1 450.8L1376.3 451.8L1376.1 452.8L1375.5 454L1375 454.7L1374.7 455.1L1374.2 455.5L1373.5 456L1372.3 456.6L1371.3 456.8L1370.3 456.6L1369.1 456L1348.2 444.7L1347.6 444.2L1347.1 443.8L1346.7 443.4L1346.2 442.7L1345.6 441.5ZM1366.3 451.8L1366.5 450.8L1367.1 449.6L1367.6 448.9L1368 448.5L1368.5 448.1L1369.1 447.6L1370.3 447L1371.3 446.8L1372.3 447L1393.2 455.2L1394.4 455.8L1395.1 456.3L1395.5 456.7L1395.9 457.1L1396.4 457.8L1397 459L1397.2 460L1397 461L1396.4 462.2L1395.9 462.9L1395.5 463.3L1395.1 463.7L1394.4 464.2L1393.2 464.8L1392.2 465L1391.2 464.8L1370.3 456.6L1369.1 456L1368.5 455.5L1368 455.1L1367.6 454.7L1367.1 454L1366.5 452.8ZM1387.2 460L1387.4 459L1388 457.8L1388.5 457.1L1388.9 456.7L1389.3 456.3L1390 455.8L1410.9 440.4L1412.1 439.8L1413.1 439.6L1414.1 439.8L1415.3 440.4L1416 440.9L1416.4 441.3L1416.8 441.7L1417.3 442.4L1417.9 443.6L1418.1 444.6L1417.9 445.6L1417.3 446.8L1416.8 447.5L1416.4 447.9L1416 448.3L1415.3 448.8L1394.4 464.2L1393.2 464.8L1392.2 465L1391.2 464.8L1390 464.2L1389.3 463.7L1388.9 463.3L1388.5 462.9L1388 462.2L1387.4 461ZM1408.1 444.6L1408.3 443.6L1408.9 442.4L1409.4 441.7L1409.8 441.3L1410.2 440.9L1410.9 440.4L1412.1 439.8L1413.1 439.6L1434 436.8L1435 437L1436.2 437.6L1436.8 438.1L1437.3 438.5L1437.7 438.9L1438.2 439.6L1438.8 440.8L1439 441.8L1438.8 442.8L1438.2 444L1437.7 444.7L1437.3 445.1L1436.8 445.5L1436.2 446L1435 446.6L1434 446.8L1413.1 449.6L1412.1 449.4L1410.9 448.8L1410.2 448.3L1409.8 447.9L1409.4 447.5L1408.9 446.8L1408.3 445.6ZM1429 441.8L1429.2 440.8L1429.8 439.6L1430.2 438.9L1430.7 438.5L1431.1 438.1L1431.8 437.6L1433 437L1434 436.8L1435 437L1455.9 442.7L1457.1 443.3L1457.7 443.8L1458.2 444.2L1458.6 444.6L1459.1 445.3L1459.7 446.5L1459.9 447.5L1459.7 448.5L1459.1 449.7L1458.6 450.4L1458.2 450.8L1457.7 451.2L1457.1 451.7L1455.9 452.3L1454.9 452.5L1453.8 452.3L1433 446.6L1431.8 446L1431.1 445.5L1430.7 445.1L1430.2 444.7L1429.8 444L1429.2 442.8ZM1449.9 447.5L1450.1 446.5L1450.7 445.3L1451.1 444.6L1451.5 444.2L1452 443.8L1452.7 443.3L1453.8 442.7L1474.7 436.2L1475.8 436L1476.8 436.2L1478 436.8L1478.6 437.3L1479.1 437.7L1479.5 438.1L1480 438.8L1480.6 440L1480.8 441L1480.6 442L1480 443.2L1479.5 443.9L1479.1 444.3L1478.6 444.7L1478 445.2L1476.8 445.8L1455.9 452.3L1454.9 452.5L1453.8 452.3L1452.7 451.7L1452 451.2L1451.5 450.8L1451.1 450.4L1450.7 449.7L1450.1 448.5ZM1470.8 441L1471 440L1471.5 438.8L1472 438.1L1472.4 437.7L1472.9 437.3L1473.5 436.8L1474.7 436.2L1475.8 436L1476.8 436.2L1478 436.8L1478.6 437.3L1479.1 437.7L1479.5 438.1L1480 438.8L1500.9 474.8L1501.5 476L1501.7 477L1501.5 478L1500.9 479.2L1500.4 479.9L1500 480.3L1499.5 480.7L1498.9 481.2L1497.7 481.8L1496.7 482L1495.6 481.8L1494.4 481.2L1493.8 480.7L1493.3 480.3L1492.9 479.9L1492.4 479.2L1471.5 443.2L1471 442ZM1491.7 477L1491.8 476L1492.4 474.8L1492.9 474.1L1493.3 473.7L1493.8 473.3L1494.4 472.8L1495.6 472.2L1496.7 472L1517.5 472.5L1518.6 472.7L1519.8 473.3L1520.4 473.8L1520.9 474.2L1521.3 474.6L1521.8 475.3L1522.3 476.5L1522.5 477.5L1522.3 478.5L1521.8 479.7L1521.3 480.4L1520.9 480.8L1520.4 481.2L1519.8 481.7L1518.6 482.3L1517.5 482.5L1496.7 482L1495.6 481.8L1494.4 481.2L1493.8 480.7L1493.3 480.3L1492.9 479.9L1492.4 479.2L1491.8 478ZM1512.5 477.5L1512.7 476.5L1513.3 475.3L1513.8 474.6L1514.2 474.2L1514.7 473.8L1515.3 473.3L1516.5 472.7L1517.5 472.5L1538.4 473.2L1539.5 473.4L1540.6 474L1541.3 474.5L1541.8 474.9L1542.2 475.3L1542.7 476L1543.2 477.2L1543.4 478.2L1543.2 479.2L1542.7 480.4L1542.2 481.1L1541.8 481.5L1541.3 481.9L1540.6 482.4L1539.5 483L1538.4 483.2L1517.5 482.5L1516.5 482.3L1515.3 481.7L1514.7 481.2L1514.2 480.8L1513.8 480.4L1513.3 479.7L1512.7 478.5ZM1533.4 478.2L1533.6 477.2L1534.2 476L1534.7 475.3L1535.1 474.9L1535.6 474.5L1536.2 474L1537.4 473.4L1558.3 467.7L1559.3 467.5L1560.3 467.7L1561.5 468.3L1562.2 468.8L1562.6 469.2L1563 469.6L1563.5 470.3L1564.1 471.5L1564.3 472.5L1564.1 473.5L1563.5 474.7L1563 475.4L1562.6 475.8L1562.2 476.2L1561.5 476.7L1560.3 477.3L1539.5 483L1538.4 483.2L1537.4 483L1536.2 482.4L1535.6 481.9L1535.1 481.5L1534.7 481.1L1534.2 480.4L1533.6 479.2ZM1554.3 472.5L1554.5 471.5L1555.1 470.3L1555.6 469.6L1556 469.2L1576.9 446.5L1577.3 446.1L1578 445.6L1579.2 445L1580.2 444.8L1581.2 445L1582.4 445.6L1583.1 446.1L1583.5 446.5L1583.9 446.9L1584.4 447.6L1585 448.8L1585.2 449.8L1585 450.8L1584.4 452L1583.9 452.7L1583.5 453.1L1562.6 475.8L1562.2 476.2L1561.5 476.7L1560.3 477.3L1559.3 477.5L1558.3 477.3L1557.1 476.7L1556.5 476.2L1556 475.8L1555.6 475.4L1555.1 474.7L1554.5 473.5ZM1575.2 449.8L1575.4 448.8L1576 447.6L1576.5 446.9L1576.9 446.5L1577.3 446.1L1578 445.6L1579.2 445L1580.2 444.8L1581.2 445L1582.4 445.6L1583.1 446.1L1583.5 446.5L1583.9 446.9L1604.8 471.7L1605.3 472.4L1605.9 473.6L1606.1 474.6L1605.9 475.6L1605.3 476.8L1604.8 477.5L1604.4 477.9L1604 478.3L1603.3 478.8L1602.1 479.4L1601.1 479.6L1600.1 479.4L1598.9 478.8L1598.2 478.3L1597.8 477.9L1597.4 477.5L1576.5 452.7L1576 452L1575.4 450.8ZM1596.1 474.6L1596.3 473.6L1596.9 472.4L1597.4 471.7L1597.8 471.3L1598.2 470.9L1598.9 470.4L1600.1 469.8L1601.1 469.6L1602.1 469.8L1603.3 470.4L1604 470.9L1604.4 471.3L1604.8 471.7L1605.3 472.4L1605.9 473.6L1626.8 527.3L1627 528.3L1626.8 529.3L1626.2 530.5L1625.7 531.2L1625.3 531.6L1624.8 532L1624.2 532.5L1623 533.1L1622 533.3L1621 533.1L1619.8 532.5L1619.1 532L1618.7 531.6L1618.2 531.2L1617.8 530.5L1617.2 529.3L1596.3 475.6ZM1617 528.3L1617.2 527.3L1638.1 476.8L1638.7 475.6L1639.1 474.9L1639.5 474.5L1640 474.1L1640.7 473.6L1641.8 473L1642.9 472.8L1643.9 473L1645.1 473.6L1645.7 474.1L1646.2 474.5L1646.6 474.9L1647.1 475.6L1647.7 476.8L1647.9 477.8L1647.7 478.8L1626.8 529.3L1626.2 530.5L1625.7 531.2L1625.3 531.6L1624.8 532L1624.2 532.5L1623 533.1L1622 533.3L1621 533.1L1619.8 532.5L1619.1 532L1618.7 531.6L1618.2 531.2L1617.8 530.5L1617.2 529.3ZM1637.9 477.8L1638.1 476.8L1638.7 475.6L1639.1 474.9L1639.5 474.5L1640 474.1L1640.7 473.6L1641.8 473L1642.9 472.8L1663.8 473.1L1664.8 473.3L1666 473.9L1666.6 474.4L1667.1 474.8L1667.5 475.2L1668 475.9L1668.6 477.1L1668.8 478.1L1668.6 479.1L1668 480.3L1667.5 481L1667.1 481.4L1666.6 481.8L1666 482.3L1664.8 482.9L1663.8 483.1L1642.9 482.8L1641.8 482.6L1640.7 482L1640 481.5L1639.5 481.1L1639.1 480.7L1638.7 480L1638.1 478.8ZM1658.8 478.1L1659 477.1L1659.5 475.9L1660 475.2L1660.4 474.8L1660.9 474.4L1661.5 473.9L1682.4 458.7L1683.6 458.1L1684.7 457.9L1685.7 458.1L1686.9 458.7L1687.5 459.2L1688 459.6L1688.4 460L1688.9 460.7L1689.5 461.9L1689.7 462.9L1689.5 463.9L1688.9 465.1L1688.4 465.8L1688 466.2L1687.5 466.6L1686.9 467.1L1666 482.3L1664.8 482.9L1663.8 483.1L1662.7 482.9L1661.5 482.3L1660.9 481.8L1660.4 481.4L1660 481L1659.5 480.3L1659 479.1ZM1679.7 462.9L1679.8 461.9L1680.4 460.7L1680.9 460L1681.3 459.6L1681.8 459.2L1682.4 458.7L1683.6 458.1L1684.7 457.9L1705.5 460.6L1706.5 460.8L1707.7 461.4L1708.4 461.9L1708.9 462.3L1709.3 462.7L1709.8 463.4L1710.3 464.6L1710.5 465.6L1710.3 466.6L1709.8 467.8L1709.3 468.5L1708.9 468.9L1708.4 469.3L1707.7 469.8L1706.5 470.4L1705.5 470.6L1684.7 467.9L1683.6 467.7L1682.4 467.1L1681.8 466.6L1681.3 466.2L1680.9 465.8L1680.4 465.1L1679.8 463.9ZM1700.5 465.6L1700.7 464.6L1701.3 463.4L1701.8 462.7L1702.2 462.3L1702.7 461.9L1703.3 461.4L1704.5 460.8L1725.4 451.5L1726.4 451.3L1727.4 451.5L1728.6 452.1L1729.3 452.6L1729.8 453L1730.2 453.4L1730.6 454.1L1731.2 455.3L1731.4 456.3L1731.2 457.3L1730.6 458.5L1730.2 459.2L1729.8 459.6L1729.3 460L1728.6 460.5L1727.4 461.1L1706.5 470.4L1705.5 470.6L1704.5 470.4L1703.3 469.8L1702.7 469.3L1702.2 468.9L1701.8 468.5L1701.3 467.8L1700.7 466.6ZM1721.4 456.3L1721.6 455.3L1722.2 454.1L1722.7 453.4L1723.1 453L1723.6 452.6L1724.2 452.1L1725.4 451.5L1726.4 451.3L1727.4 451.5L1728.6 452.1L1729.3 452.6L1729.8 453L1730.2 453.4L1751 479.1L1751.5 479.8L1752.1 481L1752.3 482L1752.1 483L1751.5 484.2L1751 484.9L1750.6 485.3L1750.2 485.7L1749.5 486.2L1748.3 486.8L1747.3 487L1746.3 486.8L1745.1 486.2L1744.5 485.7L1744 485.3L1743.6 484.9L1722.7 459.2L1722.2 458.5L1721.6 457.3ZM1742.3 482L1742.5 481L1743.1 479.8L1743.6 479.1L1744 478.7L1764.9 458.6L1765.3 458.2L1766 457.7L1767.2 457.1L1768.2 456.9L1769.2 457.1L1770.4 457.7L1771.1 458.2L1771.5 458.6L1771.9 459L1772.4 459.7L1773 460.9L1773.2 461.9L1773 462.9L1772.4 464.1L1771.9 464.8L1771.5 465.2L1750.6 485.3L1750.2 485.7L1749.5 486.2L1748.3 486.8L1747.3 487L1746.3 486.8L1745.1 486.2L1744.5 485.7L1744 485.3L1743.6 484.9L1743.1 484.2L1742.5 483ZM1763.2 461.9L1763.4 460.9L1764 459.7L1764.5 459L1764.9 458.6L1785.8 438.5L1786.2 438.1L1786.9 437.6L1788.1 437L1789.1 436.8L1790.1 437L1791.3 437.6L1792 438.1L1792.4 438.5L1792.8 438.9L1793.3 439.6L1793.9 440.8L1794.1 441.8L1793.9 442.8L1793.3 444L1792.8 444.7L1792.4 445.1L1771.5 465.2L1771.1 465.6L1770.4 466.1L1769.2 466.7L1768.2 466.9L1767.2 466.7L1766 466.1L1765.3 465.6L1764.9 465.2L1764.5 464.8L1764 464.1L1763.4 462.9Z"/>
<path clip-path="url(#cb)" fill="#000" d="M280.1 951.5L280.3 950.5L280.9 949.3L281.4 948.6L281.8 948.2L282.2 947.8L303.1 931.3L303.8 930.8L305 930.2L306 930L307 930.2L308.2 930.8L308.9 931.3L309.3 931.7L309.7 932.1L310.2 932.8L310.8 934L311 935L310.8 936L310.2 937.2L309.7 937.9L309.3 938.3L308.9 938.7L288 955.2L287.3 955.7L286.1 956.3L285.1 956.5L284.1 956.3L282.9 955.7L282.2 955.2L281.8 954.8L281.4 954.4L280.9 953.7L280.3 952.5ZM301 935L301.2 934L301.8 932.8L302.3 932.1L302.7 931.7L303.1 931.3L324 914.8L324.7 914.3L325.9 913.7L326.9 913.5L327.9 913.7L329.1 914.3L329.8 914.8L330.2 915.2L330.6 915.6L331.1 916.3L331.7 917.5L331.9 918.5L331.7 919.5L331.1 920.7L330.6 921.4L330.2 921.8L329.8 922.2L308.9 938.7L308.2 939.2L307 939.8L306 940L305 939.8L303.8 939.2L303.1 938.7L302.7 938.3L302.3 937.9L301.8 937.2L301.2 936ZM321.9 918.5L322.1 917.5L322.7 916.3L323.2 915.6L323.6 915.2L324 914.8L324.7 914.3L325.9 913.7L326.9 913.5L327.9 913.7L329.1 914.3L350 925L350.6 925.5L351.1 925.9L351.5 926.3L352 927L352.6 928.2L352.8 929.2L352.6 930.2L352 931.4L351.5 932.1L351.1 932.5L350.6 932.9L350 933.4L348.8 934L347.8 934.2L346.8 934L345.6 933.4L324.7 922.7L324 922.2L323.6 921.8L323.2 921.4L322.7 920.7L322.1 919.5ZM342.8 929.2L343 928.2L343.6 927L344.1 926.3L344.4 925.9L344.9 925.5L345.6 925L366.5 914.6L367.6 914L368.7 913.8L369.7 914L370.9 914.6L371.5 915.1L372 915.5L372.4 915.9L372.9 916.6L373.5 917.8L373.7 918.8L373.5 919.8L372.9 921L372.4 921.7L372 922.1L371.5 922.5L370.9 923L350 933.4L348.8 934L347.8 934.2L346.8 934L345.6 933.4L344.9 932.9L344.4 932.5L344.1 932.1L343.6 931.4L343 930.2ZM363.7 918.8L363.9 917.8L364.4 916.6L364.9 915.9L365.3 915.5L365.8 915.1L366.5 914.6L367.6 914L388.5 909.5L389.6 909.3L390.6 909.5L391.8 910.1L392.4 910.6L392.9 911L393.3 911.4L393.8 912.1L394.4 913.3L394.6 914.3L394.4 915.3L393.8 916.5L393.3 917.2L392.9 917.6L392.4 918L391.8 918.5L390.6 919.1L369.7 923.6L368.7 923.8L367.6 923.6L366.5 923L365.8 922.5L365.3 922.1L364.9 921.7L364.4 921L363.9 919.8ZM384.6 914.3L384.8 913.3L385.3 912.1L385.8 911.4L386.2 911L386.7 910.6L387.3 910.1L388.5 909.5L389.6 909.3L410.4 909.3L411.5 909.5L412.6 910.1L413.3 910.6L413.8 911L414.2 911.4L414.7 912.1L415.2 913.3L415.4 914.3L415.2 915.3L414.7 916.5L414.2 917.2L413.8 917.6L413.3 918L412.6 918.5L411.5 919.1L410.4 919.3L389.6 919.3L388.5 919.1L387.3 918.5L386.7 918L386.2 917.6L385.8 917.2L385.3 916.5L384.8 915.3ZM405.4 914.3L405.6 913.3L406.2 912.1L406.7 911.4L407.1 911L407.6 910.6L408.2 910.1L409.4 909.5L410.4 909.3L431.3 905.9L432.4 906.1L433.5 906.7L434.2 907.2L434.7 907.6L435.1 908L435.6 908.7L436.1 909.9L436.3 910.9L436.1 911.9L435.6 913.1L435.1 913.8L434.7 914.2L434.2 914.6L433.5 915.1L432.4 915.7L431.3 915.9L410.4 919.3L409.4 919.1L408.2 918.5L407.6 918L407.1 917.6L406.7 917.2L406.2 916.5L405.6 915.3ZM426.3 910.9L426.5 909.9L427.1 908.7L427.6 908L428 907.6L428.5 907.2L429.1 906.7L450 894.2L451.2 893.6L452.2 893.4L453.2 893.6L454.4 894.2L455.1 894.7L455.6 895.1L455.9 895.5L456.4 896.2L457 897.4L457.2 898.4L457 899.4L456.4 900.6L455.9 901.3L455.6 901.7L455.1 902.1L454.4 902.6L433.5 915.1L432.4 915.7L431.3 915.9L430.3 915.7L429.1 915.1L428.5 914.6L428 914.2L427.6 913.8L427.1 913.1L426.5 911.9ZM447.2 898.4L447.4 897.4L448 896.2L448.5 895.5L448.9 895.1L449.4 894.7L450 894.2L451.2 893.6L452.2 893.4L453.2 893.6L474.1 900.2L475.3 900.8L476 901.3L476.4 901.7L476.8 902.1L477.3 902.8L477.9 904L478.1 905L477.9 906L477.3 907.2L476.8 907.9L476.4 908.3L476 908.7L475.3 909.2L474.1 909.8L473.1 910L472.1 909.8L451.2 903.2L450 902.6L449.4 902.1L448.9 901.7L448.5 901.3L448 900.6L447.4 899.4ZM468.1 905L468.3 904L468.9 902.8L469.4 902.1L469.8 901.7L470.2 901.3L491.1 884.3L491.8 883.8L493 883.2L494 883L495 883.2L496.2 883.8L496.9 884.3L497.3 884.7L497.7 885.1L498.2 885.8L498.8 887L499 888L498.8 889L498.2 890.2L497.7 890.9L497.3 891.3L496.9 891.7L476 908.7L475.3 909.2L474.1 909.8L473.1 910L472.1 909.8L470.9 909.2L470.2 908.7L469.8 908.3L469.4 907.9L468.9 907.2L468.3 906ZM489 888L489.2 887L489.8 885.8L490.3 885.1L490.7 884.7L491.1 884.3L491.8 883.8L493 883.2L494 883L495 883.2L515.9 890.5L517.1 891.1L517.8 891.6L518.2 892L518.6 892.4L519.1 893.1L519.7 894.3L519.9 895.3L519.7 896.3L519.1 897.5L518.6 898.2L518.2 898.6L517.8 899L517.1 899.5L515.9 900.1L514.9 900.3L513.9 900.1L493 892.8L491.8 892.2L491.1 891.7L490.7 891.3L490.3 890.9L489.8 890.2L489.2 889ZM509.9 895.3L510.1 894.3L510.7 893.1L511.2 892.4L511.6 892L512 891.6L512.7 891.1L513.9 890.5L534.8 882.2L535.8 882L536.8 882.2L538 882.8L538.6 883.3L539.1 883.7L539.5 884.1L540 884.8L540.6 886L540.8 887L540.6 888L540 889.2L539.5 889.9L539.1 890.3L538.6 890.7L538 891.2L536.8 891.8L515.9 900.1L514.9 900.3L513.9 900.1L512.7 899.5L512 899L511.6 898.6L511.2 898.2L510.7 897.5L510.1 896.3ZM530.8 887L531 886L531.5 884.8L532 884.1L532.4 883.7L532.9 883.3L533.6 882.8L534.8 882.2L555.6 875.2L556.7 875L557.7 875.2L558.9 875.8L559.5 876.3L560 876.7L560.4 877.1L560.9 877.8L561.5 879L561.7 880L561.5 881L560.9 882.2L560.4 882.9L560 883.3L559.5 883.7L558.9 884.2L557.7 884.8L536.8 891.8L535.8 892L534.8 891.8L533.6 891.2L532.9 890.7L532.4 890.3L532 889.9L531.5 889.2L531 888ZM551.7 880L551.9 879L552.4 877.8L552.9 877.1L553.3 876.7L553.8 876.3L554.5 875.8L555.6 875.2L556.7 875L557.7 875.2L578.6 882.3L579.8 882.9L580.4 883.4L580.9 883.8L581.3 884.2L581.8 884.9L582.4 886.1L582.5 887.1L582.4 888.1L581.8 889.3L581.3 890L580.9 890.4L580.4 890.8L579.8 891.3L578.6 891.9L577.5 892.1L576.5 891.9L555.6 884.8L554.5 884.2L553.8 883.7L553.3 883.3L552.9 882.9L552.4 882.2L551.9 881ZM572.5 887.1L572.8 886.1L573.3 884.9L573.8 884.2L574.2 883.8L574.7 883.4L575.3 882.9L576.5 882.3L597.4 875.5L598.4 875.3L599.5 875.5L600.6 876.1L601.3 876.6L601.8 877L602.2 877.4L602.7 878.1L603.2 879.3L603.4 880.3L603.2 881.3L602.7 882.5L602.2 883.2L601.8 883.6L601.3 884L600.6 884.5L599.5 885.1L578.6 891.9L577.5 892.1L576.5 891.9L575.3 891.3L574.7 890.8L574.2 890.4L573.8 890L573.3 889.3L572.8 888.1ZM593.4 880.3L593.6 879.3L594.2 878.1L594.7 877.4L595.1 877L595.6 876.6L596.2 876.1L597.4 875.5L598.4 875.3L619.3 871.3L620.4 871.5L621.5 872.1L622.2 872.6L622.7 873L623.1 873.4L623.5 874.1L624.1 875.3L624.3 876.3L624.1 877.3L623.5 878.5L623.1 879.2L622.7 879.6L622.2 880L621.5 880.5L620.4 881.1L619.3 881.3L598.4 885.3L597.4 885.1L596.2 884.5L595.6 884L595.1 883.6L594.7 883.2L594.2 882.5L593.6 881.3ZM614.3 876.3L614.5 875.3L615.1 874.1L615.6 873.4L616 873L616.5 872.6L617.1 872.1L618.3 871.5L619.3 871.3L640.2 872.4L641.2 872.6L642.4 873.2L643.1 873.7L643.5 874.1L644 874.5L644.4 875.2L645 876.4L645.2 877.4L645 878.4L644.4 879.6L644 880.3L643.5 880.7L643.1 881.1L642.4 881.6L641.2 882.2L640.2 882.4L619.3 881.3L618.3 881.1L617.1 880.5L616.5 880L616 879.6L615.6 879.2L615.1 878.5L614.5 877.3ZM635.2 877.4L635.4 876.4L636 875.2L636.5 874.5L636.9 874.1L637.4 873.7L638 873.2L639.2 872.6L640.2 872.4L641.2 872.6L642.4 873.2L663.3 886.8L664 887.3L664.4 887.7L664.8 888.1L665.3 888.8L665.9 890L666.1 891L665.9 892L665.3 893.2L664.8 893.9L664.4 894.3L664 894.7L663.3 895.2L662.1 895.8L661.1 896L660.1 895.8L658.9 895.2L638 881.6L637.4 881.1L636.9 880.7L636.5 880.3L636 879.6L635.4 878.4ZM656.1 891L656.3 890L656.9 888.8L657.4 888.1L657.8 887.7L678.7 865.9L679.1 865.5L679.8 865L681 864.4L682 864.2L683 864.4L684.2 865L684.9 865.5L685.3 865.9L685.7 866.3L686.2 867L686.8 868.2L687 869.2L686.8 870.2L686.2 871.4L685.7 872.1L685.3 872.5L664.4 894.3L664 894.7L663.3 895.2L662.1 895.8L661.1 896L660.1 895.8L658.9 895.2L658.2 894.7L657.8 894.3L657.4 893.9L656.9 893.2L656.3 892ZM677 869.2L677.2 868.2L677.8 867L678.3 866.3L678.7 865.9L679.1 865.5L679.8 865L681 864.4L682 864.2L702.9 868L703.9 868.2L705.1 868.8L705.7 869.3L706.2 869.7L706.6 870.1L707.1 870.8L707.7 872L707.9 873L707.7 874L707.1 875.2L706.6 875.9L706.2 876.3L705.7 876.7L705.1 877.2L703.9 877.8L702.9 878L682 874.2L681 874L679.8 873.4L679.1 872.9L678.7 872.5L678.3 872.1L677.8 871.4L677.2 870.2ZM697.9 873L698.1 872L698.7 870.8L699.1 870.1L699.5 869.7L700 869.3L700.7 868.8L721.6 855L722.8 854.4L723.8 854.2L724.8 854.4L726 855L726.6 855.5L727.1 855.9L727.5 856.3L728 857L728.6 858.2L728.8 859.2L728.6 860.2L728 861.4L727.5 862.1L727.1 862.5L726.6 862.9L726 863.4L705.1 877.2L703.9 877.8L702.9 878L701.9 877.8L700.7 877.2L700 876.7L699.5 876.3L699.1 875.9L698.7 875.2L698.1 874ZM718.8 859.2L719 858.2L719.5 857L720 856.3L720.4 855.9L720.9 855.5L721.6 855L722.8 854.4L723.8 854.2L724.8 854.4L726 855L726.6 855.5L727.1 855.9L727.5 856.3L728 857L748.9 886L749.5 887.2L749.7 888.2L749.5 889.2L748.9 890.4L748.4 891.1L748 891.5L747.5 891.9L746.9 892.4L745.7 893L744.7 893.2L743.6 893L742.5 892.4L741.8 891.9L741.3 891.5L740.9 891.1L740.4 890.4L719.5 861.4L719 860.2ZM739.7 888.2L739.9 887.2L740.4 886L740.9 885.3L741.3 884.9L741.8 884.5L742.5 884L743.6 883.4L744.7 883.2L745.7 883.4L746.9 884L767.8 894.8L768.4 895.3L768.9 895.7L769.3 896.1L769.8 896.8L770.4 898L770.5 899L770.4 900L769.8 901.2L769.3 901.9L768.9 902.3L768.4 902.7L767.8 903.2L766.6 903.8L765.5 904L764.5 903.8L763.3 903.2L742.5 892.4L741.8 891.9L741.3 891.5L740.9 891.1L740.4 890.4L739.9 889.2ZM760.5 899L760.8 898L761.3 896.8L761.8 896.1L762.2 895.7L762.7 895.3L763.3 894.8L764.5 894.2L785.4 888.5L786.4 888.3L787.5 888.5L788.6 889.1L789.3 889.6L789.8 890L790.2 890.4L790.7 891.1L791.2 892.3L791.4 893.3L791.2 894.3L790.7 895.5L790.2 896.2L789.8 896.6L789.3 897L788.6 897.5L787.5 898.1L766.6 903.8L765.5 904L764.5 903.8L763.3 903.2L762.7 902.7L762.2 902.3L761.8 901.9L761.3 901.2L760.8 900ZM781.4 893.3L781.6 892.3L782.2 891.1L782.7 890.4L783.1 890L783.6 889.6L804.5 872L805.1 871.5L806.3 870.9L807.3 870.7L808.4 870.9L809.5 871.5L810.2 872L810.7 872.4L811.1 872.8L811.5 873.5L812.1 874.7L812.3 875.7L812.1 876.7L811.5 877.9L811.1 878.6L810.7 879L810.2 879.4L789.3 897L788.6 897.5L787.5 898.1L786.4 898.3L785.4 898.1L784.2 897.5L783.6 897L783.1 896.6L782.7 896.2L782.2 895.5L781.6 894.3ZM802.3 875.7L802.5 874.7L803.1 873.5L803.6 872.8L804 872.4L804.5 872L805.1 871.5L806.3 870.9L807.3 870.7L808.4 870.9L829.2 878L830.4 878.6L831.1 879.1L831.5 879.5L831.9 879.9L832.4 880.6L833 881.8L833.2 882.8L833 883.8L832.4 885L831.9 885.7L831.5 886.1L831.1 886.5L830.4 887L829.2 887.6L828.2 887.8L827.2 887.6L806.3 880.5L805.1 879.9L804.5 879.4L804 879L803.6 878.6L803.1 877.9L802.5 876.7ZM823.2 882.8L823.4 881.8L824 880.6L824.5 879.9L824.9 879.5L845.8 859.7L846.2 859.3L846.9 858.8L848.1 858.2L849.1 858L850.1 858.2L851.3 858.8L852 859.3L852.4 859.7L852.8 860.1L853.3 860.8L853.9 862L854.1 863L853.9 864L853.3 865.2L852.8 865.9L852.4 866.3L831.5 886.1L831.1 886.5L830.4 887L829.2 887.6L828.2 887.8L827.2 887.6L826 887L825.4 886.5L824.9 886.1L824.5 885.7L824 885L823.4 883.8ZM844.1 863L844.3 862L844.9 860.8L845.4 860.1L845.8 859.7L846.2 859.3L846.9 858.8L848.1 858.2L849.1 858L850.1 858.2L851.3 858.8L852 859.3L852.4 859.7L873.3 883.5L873.7 883.9L874.2 884.6L874.8 885.8L875 886.8L874.8 887.8L874.2 889L873.7 889.7L873.3 890.1L872.9 890.5L872.2 891L871 891.6L870 891.8L869 891.6L867.8 891L867.1 890.5L866.7 890.1L845.8 866.3L845.4 865.9L844.9 865.2L844.3 864ZM865 886.8L865.2 885.8L865.8 884.6L866.3 883.9L866.7 883.5L867.1 883.1L867.8 882.6L869 882L870 881.8L871 882L891.9 890.5L893.1 891.1L893.7 891.6L894.2 892L894.6 892.4L895.1 893.1L895.7 894.3L895.9 895.3L895.7 896.3L895.1 897.5L894.6 898.2L894.2 898.6L893.7 899L893.1 899.5L891.9 900.1L890.9 900.3L889.9 900.1L869 891.6L867.8 891L867.1 890.5L866.7 890.1L866.3 889.7L865.8 889L865.2 887.8ZM885.9 895.3L886.1 894.3L886.7 893.1L887.1 892.4L887.5 892L908.4 872.7L908.9 872.3L909.6 871.8L910.8 871.2L911.8 871L912.8 871.2L914 871.8L914.6 872.3L915.1 872.7L915.5 873.1L916 873.8L916.6 875L916.8 876L916.6 877L916 878.2L915.5 878.9L915.1 879.3L894.2 898.6L893.7 899L893.1 899.5L891.9 900.1L890.9 900.3L889.9 900.1L888.7 899.5L888 899L887.5 898.6L887.1 898.2L886.7 897.5L886.1 896.3ZM906.8 876L907 875L907.5 873.8L908 873.1L908.4 872.7L908.9 872.3L909.6 871.8L910.8 871.2L931.6 863L932.7 862.8L933.7 863L934.9 863.6L935.5 864.1L936 864.5L936.4 864.9L936.9 865.6L937.5 866.8L937.7 867.8L937.5 868.8L936.9 870L936.4 870.7L936 871.1L935.5 871.5L934.9 872L933.7 872.6L912.8 880.8L911.8 881L910.8 880.8L909.6 880.2L908.9 879.7L908.4 879.3L908 878.9L907.5 878.2L907 877ZM927.7 867.8L927.9 866.8L928.4 865.6L928.9 864.9L929.3 864.5L929.8 864.1L930.5 863.6L931.6 863L932.7 862.8L953.5 866.7L954.6 866.9L955.8 867.5L956.4 868L956.9 868.4L957.3 868.8L957.8 869.5L958.4 870.7L958.5 871.7L958.4 872.7L957.8 873.9L957.3 874.6L956.9 875L956.4 875.4L955.8 875.9L954.6 876.5L953.5 876.7L932.7 872.8L931.6 872.6L930.5 872L929.8 871.5L929.3 871.1L928.9 870.7L928.4 870L927.9 868.8ZM948.5 871.7L948.8 870.7L949.3 869.5L949.8 868.8L950.2 868.4L950.7 868L951.3 867.5L952.5 866.9L953.5 866.7L974.4 866L975.5 866.2L976.6 866.8L977.3 867.3L977.8 867.7L978.2 868.1L978.6 868.8L979.2 870L979.4 871L979.2 872L978.6 873.2L978.2 873.9L977.8 874.3L977.3 874.7L976.6 875.2L975.5 875.8L974.4 876L953.5 876.7L952.5 876.5L951.3 875.9L950.7 875.4L950.2 875L949.8 874.6L949.3 873.9L948.8 872.7ZM969.4 871L969.6 870L970.2 868.8L970.7 868.1L971.1 867.7L971.6 867.3L972.2 866.8L973.4 866.2L994.3 861.1L995.3 860.9L996.3 861.1L997.5 861.7L998.2 862.2L998.6 862.6L999 863L999.5 863.7L1000.1 864.9L1000.3 865.9L1000.1 866.9L999.5 868.1L999 868.8L998.6 869.2L998.2 869.6L997.5 870.1L996.3 870.7L975.5 875.8L974.4 876L973.4 875.8L972.2 875.2L971.6 874.7L971.1 874.3L970.7 873.9L970.2 873.2L969.6 872ZM990.3 865.9L990.5 864.9L991.1 863.7L991.6 863L992 862.6L992.5 862.2L993.1 861.7L994.3 861.1L995.3 860.9L996.3 861.1L1017.2 870.4L1018.4 871L1019.1 871.5L1019.5 871.9L1019.9 872.3L1020.4 873L1021 874.2L1021.2 875.2L1021 876.2L1020.4 877.4L1019.9 878.1L1019.5 878.5L1019.1 878.9L1018.4 879.4L1017.2 880L1016.2 880.2L1015.2 880L994.3 870.7L993.1 870.1L992.5 869.6L992 869.2L991.6 868.8L991.1 868.1L990.5 866.9ZM1011.2 875.2L1011.4 874.2L1012 873L1012.5 872.3L1012.9 871.9L1013.4 871.5L1014 871L1015.2 870.4L1016.2 870.2L1017.2 870.4L1038.1 876.3L1039.3 876.9L1040 877.4L1040.4 877.8L1040.8 878.2L1041.3 878.9L1041.9 880.1L1042.1 881.1L1041.9 882.1L1041.3 883.3L1040.8 884L1040.4 884.4L1040 884.8L1039.3 885.3L1038.1 885.9L1037.1 886.1L1036.1 885.9L1015.2 880L1014 879.4L1013.4 878.9L1012.9 878.5L1012.5 878.1L1012 877.4L1011.4 876.2ZM1032.1 881.1L1032.3 880.1L1032.9 878.9L1033.4 878.2L1033.8 877.8L1034.2 877.4L1034.9 876.9L1036.1 876.3L1037.1 876.1L1058 872.2L1059 872.4L1060.2 873L1060.8 873.5L1061.3 873.9L1061.7 874.3L1062.2 875L1062.8 876.2L1063 877.2L1062.8 878.2L1062.2 879.4L1061.7 880.1L1061.3 880.5L1060.8 880.9L1060.2 881.4L1059 882L1058 882.2L1037.1 886.1L1036.1 885.9L1034.9 885.3L1034.2 884.8L1033.8 884.4L1033.4 884L1032.9 883.3L1032.3 882.1ZM1053 877.2L1053.2 876.2L1053.8 875L1054.3 874.3L1054.7 873.9L1055.1 873.5L1055.8 873L1057 872.4L1058 872.2L1059 872.4L1079.9 881.8L1081.1 882.4L1081.7 882.9L1082.2 883.3L1082.6 883.7L1083.1 884.4L1083.7 885.6L1083.9 886.6L1083.7 887.6L1083.1 888.8L1082.6 889.5L1082.2 889.9L1081.7 890.3L1081.1 890.8L1079.9 891.4L1078.9 891.6L1077.9 891.4L1057 882L1055.8 881.4L1055.1 880.9L1054.7 880.5L1054.3 880.1L1053.8 879.4L1053.2 878.2ZM1073.9 886.6L1074.1 885.6L1074.7 884.4L1075.2 883.7L1075.5 883.3L1076 882.9L1076.7 882.4L1077.9 881.8L1078.9 881.6L1079.9 881.8L1081.1 882.4L1081.7 882.9L1082.2 883.3L1082.6 883.7L1083.1 884.4L1083.7 885.6L1104.6 939.6L1104.8 940.6L1104.6 941.6L1104 942.8L1103.5 943.5L1103.1 943.9L1102.6 944.3L1102 944.8L1100.8 945.4L1099.8 945.6L1098.8 945.4L1097.6 944.8L1096.9 944.3L1096.4 943.9L1096 943.5L1095.5 942.8L1095 941.6L1074.1 887.6ZM1094.8 940.6L1095 939.6L1095.5 938.4L1096 937.7L1096.4 937.3L1096.9 936.9L1097.6 936.4L1098.8 935.8L1099.8 935.6L1100.8 935.8L1102 936.4L1102.6 936.9L1103.1 937.3L1124 956.3L1124.4 956.7L1124.9 957.4L1125.5 958.6L1125.7 959.6L1125.5 960.6L1124.9 961.8L1124.4 962.5L1124 962.9L1123.5 963.3L1122.9 963.8L1121.7 964.4L1120.7 964.6L1119.6 964.4L1118.4 963.8L1117.8 963.3L1117.3 962.9L1096.4 943.9L1096 943.5L1095.5 942.8L1095 941.6ZM1115.7 959.6L1115.8 958.6L1136.7 887.7L1137.3 886.5L1137.8 885.8L1138.2 885.4L1138.7 885L1139.3 884.5L1140.5 883.9L1141.5 883.7L1142.6 883.9L1143.8 884.5L1144.4 885L1144.9 885.4L1145.3 885.8L1145.8 886.5L1146.3 887.7L1146.5 888.7L1146.3 889.7L1125.5 960.6L1124.9 961.8L1124.4 962.5L1124 962.9L1123.5 963.3L1122.9 963.8L1121.7 964.4L1120.7 964.6L1119.6 964.4L1118.4 963.8L1117.8 963.3L1117.3 962.9L1116.9 962.5L1116.4 961.8L1115.8 960.6ZM1136.5 888.7L1136.7 887.7L1137.3 886.5L1137.8 885.8L1138.2 885.4L1138.7 885L1139.3 884.5L1140.5 883.9L1161.4 877.2L1162.4 877L1163.5 877.2L1164.6 877.8L1165.3 878.3L1165.8 878.7L1166.2 879.1L1166.7 879.8L1167.2 881L1167.4 882L1167.2 883L1166.7 884.2L1166.2 884.9L1165.8 885.3L1165.3 885.7L1164.6 886.2L1163.5 886.8L1142.6 893.5L1141.5 893.7L1140.5 893.5L1139.3 892.9L1138.7 892.4L1138.2 892L1137.8 891.6L1137.3 890.9L1136.7 889.7ZM1157.4 882L1157.6 881L1158.2 879.8L1158.7 879.1L1159.1 878.7L1159.6 878.3L1160.2 877.8L1161.4 877.2L1162.4 877L1163.5 877.2L1184.3 884.9L1185.5 885.5L1186.2 886L1186.7 886.4L1187 886.8L1187.5 887.5L1188.1 888.7L1188.3 889.7L1188.1 890.7L1187.5 891.9L1187 892.6L1186.7 893L1186.2 893.4L1185.5 893.9L1184.3 894.5L1183.3 894.7L1182.3 894.5L1161.4 886.8L1160.2 886.2L1159.6 885.7L1159.1 885.3L1158.7 884.9L1158.2 884.2L1157.6 883ZM1178.3 889.7L1178.5 888.7L1179.1 887.5L1179.6 886.8L1180 886.4L1180.5 886L1181.1 885.5L1182.3 884.9L1183.3 884.7L1204.2 883.3L1205.2 883.5L1206.4 884.1L1207.1 884.6L1207.5 885L1207.9 885.4L1208.4 886.1L1209 887.3L1209.2 888.3L1209 889.3L1208.4 890.5L1207.9 891.2L1207.5 891.6L1207.1 892L1206.4 892.5L1205.2 893.1L1204.2 893.3L1183.3 894.7L1182.3 894.5L1181.1 893.9L1180.5 893.4L1180 893L1179.6 892.6L1179.1 891.9L1178.5 890.7ZM1199.2 888.3L1199.4 887.3L1200 886.1L1200.5 885.4L1200.9 885L1201.3 884.6L1202 884.1L1203.2 883.5L1204.2 883.3L1205.2 883.5L1206.4 884.1L1207.1 884.6L1207.5 885L1207.9 885.4L1208.4 886.1L1229.3 928.6L1229.9 929.8L1230.1 930.8L1229.9 931.8L1229.3 933L1228.8 933.7L1228.4 934.1L1228 934.5L1227.3 935L1226.1 935.6L1225.1 935.8L1224.1 935.6L1222.9 935L1222.2 934.5L1221.8 934.1L1221.4 933.7L1220.9 933L1200 890.5L1199.4 889.3ZM1220.1 930.8L1220.3 929.8L1220.9 928.6L1221.4 927.9L1242.3 901.1L1242.7 900.7L1243.1 900.3L1243.8 899.8L1245 899.2L1246 899L1247 899.2L1248.2 899.8L1248.8 900.3L1249.3 900.7L1249.7 901.1L1250.2 901.8L1250.8 903L1251 904L1250.8 905L1250.2 906.2L1249.7 906.9L1228.8 933.7L1228.4 934.1L1228 934.5L1227.3 935L1226.1 935.6L1225.1 935.8L1224.1 935.6L1222.9 935L1222.2 934.5L1221.8 934.1L1221.4 933.7L1220.9 933L1220.3 931.8ZM1241 904L1241.2 903L1241.8 901.8L1242.3 901.1L1242.7 900.7L1243.1 900.3L1243.8 899.8L1245 899.2L1246 899L1247 899.2L1248.2 899.8L1248.8 900.3L1249.3 900.7L1249.7 901.1L1270.6 927.9L1271.1 928.6L1271.7 929.8L1271.9 930.8L1271.7 931.8L1271.1 933L1270.6 933.7L1270.2 934.1L1269.7 934.5L1269.1 935L1267.9 935.6L1266.9 935.8L1265.8 935.6L1264.7 935L1264 934.5L1263.5 934.1L1263.1 933.7L1242.3 906.9L1241.8 906.2L1241.2 905ZM1261.9 930.8L1262.1 929.8L1262.7 928.6L1263.1 927.9L1263.5 927.5L1264 927.1L1264.7 926.6L1265.8 926L1266.9 925.8L1267.9 926L1288.8 931.3L1290 931.9L1290.6 932.4L1291.1 932.8L1291.5 933.2L1292 933.9L1292.6 935.1L1292.8 936.1L1292.6 937.1L1292 938.3L1291.5 939L1291.1 939.4L1290.6 939.8L1290 940.3L1288.8 940.9L1287.8 941.1L1286.7 940.9L1265.8 935.6L1264.7 935L1264 934.5L1263.5 934.1L1263.1 933.7L1262.7 933L1262.1 931.8ZM1282.8 936.1L1283 935.1L1303.8 889.2L1304.4 888L1304.9 887.3L1305.3 886.9L1305.8 886.5L1306.4 886L1307.6 885.4L1308.7 885.2L1309.7 885.4L1310.9 886L1311.5 886.5L1312 886.9L1312.4 887.3L1312.9 888L1313.5 889.2L1313.7 890.2L1313.5 891.2L1292.6 937.1L1292 938.3L1291.5 939L1291.1 939.4L1290.6 939.8L1290 940.3L1288.8 940.9L1287.8 941.1L1286.7 940.9L1285.5 940.3L1284.9 939.8L1284.4 939.4L1284 939L1283.5 938.3L1283 937.1ZM1303.7 890.2L1303.8 889.2L1304.4 888L1304.9 887.3L1305.3 886.9L1305.8 886.5L1306.4 886L1307.6 885.4L1308.7 885.2L1309.7 885.4L1310.9 886L1311.5 886.5L1312 886.9L1312.4 887.3L1312.9 888L1333.8 925.7L1334.3 926.9L1334.5 927.9L1334.3 928.9L1333.8 930.1L1333.3 930.8L1332.9 931.2L1332.4 931.6L1331.8 932.1L1330.6 932.7L1329.5 932.9L1328.5 932.7L1327.3 932.1L1326.7 931.6L1326.2 931.2L1325.8 930.8L1325.3 930.1L1304.4 892.4L1303.8 891.2ZM1324.5 927.9L1324.7 926.9L1325.3 925.7L1325.8 925L1326.2 924.6L1326.7 924.2L1327.3 923.7L1328.5 923.1L1329.5 922.9L1330.6 923.1L1351.5 931.8L1352.6 932.4L1353.3 932.9L1353.8 933.3L1354.2 933.7L1354.7 934.4L1355.2 935.6L1355.4 936.6L1355.2 937.6L1354.7 938.8L1354.2 939.5L1353.8 939.9L1353.3 940.3L1352.6 940.8L1351.5 941.4L1350.4 941.6L1349.4 941.4L1328.5 932.7L1327.3 932.1L1326.7 931.6L1326.2 931.2L1325.8 930.8L1325.3 930.1L1324.7 928.9ZM1345.4 936.6L1345.6 935.6L1346.2 934.4L1346.7 933.7L1347.1 933.3L1347.6 932.9L1348.2 932.4L1349.4 931.8L1350.4 931.6L1351.5 931.8L1352.6 932.4L1353.3 932.9L1353.8 933.3L1354.2 933.7L1354.7 934.4L1375.5 968.2L1376.1 969.4L1376.3 970.4L1376.1 971.4L1375.5 972.6L1375 973.3L1374.7 973.7L1374.2 974.1L1373.5 974.6L1372.3 975.2L1371.3 975.4L1370.3 975.2L1369.1 974.6L1368.5 974.1L1368 973.7L1367.6 973.3L1367.1 972.6L1346.2 938.8L1345.6 937.6ZM1366.3 970.4L1366.5 969.4L1367.1 968.2L1367.6 967.5L1368 967.1L1368.5 966.7L1369.1 966.2L1370.3 965.6L1371.3 965.4L1372.3 965.6L1373.5 966.2L1374.2 966.7L1374.7 967.1L1395.5 985.4L1395.9 985.8L1396.4 986.5L1397 987.7L1397.2 988.7L1397 989.7L1396.4 990.9L1395.9 991.6L1395.5 992L1395.1 992.4L1394.4 992.9L1393.2 993.5L1392.2 993.7L1391.2 993.5L1390 992.9L1389.3 992.4L1388.9 992L1368 973.7L1367.6 973.3L1367.1 972.6L1366.5 971.4ZM1387.2 988.7L1387.4 987.7L1408.3 939.2L1408.9 938L1409.4 937.3L1409.8 936.9L1410.2 936.5L1410.9 936L1412.1 935.4L1413.1 935.2L1414.1 935.4L1415.3 936L1416 936.5L1416.4 936.9L1416.8 937.3L1417.3 938L1417.9 939.2L1418.1 940.2L1417.9 941.2L1397 989.7L1396.4 990.9L1395.9 991.6L1395.5 992L1395.1 992.4L1394.4 992.9L1393.2 993.5L1392.2 993.7L1391.2 993.5L1390 992.9L1389.3 992.4L1388.9 992L1388.5 991.6L1388 990.9L1387.4 989.7ZM1408.1 940.2L1408.3 939.2L1408.9 938L1409.4 937.3L1409.8 936.9L1410.2 936.5L1410.9 936L1412.1 935.4L1433 927.9L1434 927.7L1435 927.9L1436.2 928.5L1436.8 929L1437.3 929.4L1437.7 929.8L1438.2 930.5L1438.8 931.7L1439 932.7L1438.8 933.7L1438.2 934.9L1437.7 935.6L1437.3 936L1436.8 936.4L1436.2 936.9L1435 937.5L1414.1 945L1413.1 945.2L1412.1 945L1410.9 944.4L1410.2 943.9L1409.8 943.5L1409.4 943.1L1408.9 942.4L1408.3 941.2ZM1429 932.7L1429.2 931.7L1429.8 930.5L1430.2 929.8L1430.7 929.4L1431.1 929L1431.8 928.5L1433 927.9L1434 927.7L1435 927.9L1436.2 928.5L1457.1 940.6L1457.7 941.1L1458.2 941.5L1458.6 941.9L1459.1 942.6L1459.7 943.8L1459.9 944.8L1459.7 945.8L1459.1 947L1458.6 947.7L1458.2 948.1L1457.7 948.5L1457.1 949L1455.9 949.6L1454.9 949.8L1453.8 949.6L1452.7 949L1431.8 936.9L1431.1 936.4L1430.7 936L1430.2 935.6L1429.8 934.9L1429.2 933.7ZM1449.9 944.8L1450.1 943.8L1450.7 942.6L1451.1 941.9L1451.5 941.5L1452 941.1L1452.7 940.6L1453.8 940L1474.7 935.1L1475.8 934.9L1476.8 935.1L1478 935.7L1478.6 936.2L1479.1 936.6L1479.5 937L1480 937.7L1480.6 938.9L1480.8 939.9L1480.6 940.9L1480 942.1L1479.5 942.8L1479.1 943.2L1478.6 943.6L1478 944.1L1476.8 944.7L1455.9 949.6L1454.9 949.8L1453.8 949.6L1452.7 949L1452 948.5L1451.5 948.1L1451.1 947.7L1450.7 947L1450.1 945.8ZM1470.8 939.9L1471 938.9L1471.5 937.7L1472 937L1472.4 936.6L1472.9 936.2L1473.5 935.7L1474.7 935.1L1475.8 934.9L1476.8 935.1L1478 935.7L1478.6 936.2L1479.1 936.6L1479.5 937L1480 937.7L1480.6 938.9L1501.5 1007.2L1501.7 1008.2L1501.5 1009.2L1500.9 1010.4L1500.4 1011.1L1500 1011.5L1499.5 1011.9L1498.9 1012.4L1497.7 1013L1496.7 1013.2L1495.6 1013L1494.4 1012.4L1493.8 1011.9L1493.3 1011.5L1492.9 1011.1L1492.4 1010.4L1491.8 1009.2L1471 940.9ZM1491.7 1008.2L1491.8 1007.2L1492.4 1006L1492.9 1005.3L1493.3 1004.9L1493.8 1004.5L1494.4 1004L1495.6 1003.4L1496.7 1003.2L1517.5 1004.4L1518.6 1004.6L1519.8 1005.2L1520.4 1005.7L1520.9 1006.1L1521.3 1006.5L1521.8 1007.2L1522.3 1008.4L1522.5 1009.4L1522.3 1010.4L1521.8 1011.6L1521.3 1012.3L1520.9 1012.7L1520.4 1013.1L1519.8 1013.6L1518.6 1014.2L1517.5 1014.4L1496.7 1013.2L1495.6 1013L1494.4 1012.4L1493.8 1011.9L1493.3 1011.5L1492.9 1011.1L1492.4 1010.4L1491.8 1009.2ZM1512.5 1009.4L1512.7 1008.4L1513.3 1007.2L1513.8 1006.5L1514.2 1006.1L1514.7 1005.7L1515.3 1005.2L1516.5 1004.6L1517.5 1004.4L1518.6 1004.6L1519.8 1005.2L1540.6 1017.5L1541.3 1018L1541.8 1018.4L1542.2 1018.8L1542.7 1019.5L1543.2 1020.7L1543.4 1021.7L1543.2 1022.7L1542.7 1023.9L1542.2 1024.6L1541.8 1025L1541.3 1025.4L1540.6 1025.9L1539.5 1026.5L1538.4 1026.7L1537.4 1026.5L1536.2 1025.9L1515.3 1013.6L1514.7 1013.1L1514.2 1012.7L1513.8 1012.3L1513.3 1011.6L1512.7 1010.4ZM1533.4 1021.7L1533.6 1020.7L1534.2 1019.5L1534.7 1018.8L1535.1 1018.4L1556 1000.5L1556.5 1000.1L1557.1 999.6L1558.3 999L1559.3 998.8L1560.3 999L1561.5 999.6L1562.2 1000.1L1562.6 1000.5L1563 1000.9L1563.5 1001.6L1564.1 1002.8L1564.3 1003.8L1564.1 1004.8L1563.5 1006L1563 1006.7L1562.6 1007.1L1541.8 1025L1541.3 1025.4L1540.6 1025.9L1539.5 1026.5L1538.4 1026.7L1537.4 1026.5L1536.2 1025.9L1535.6 1025.4L1535.1 1025L1534.7 1024.6L1534.2 1023.9L1533.6 1022.7ZM1554.3 1003.8L1554.5 1002.8L1555.1 1001.6L1576 960.9L1576.5 960.2L1576.9 959.8L1577.3 959.4L1578 958.9L1579.2 958.3L1580.2 958.1L1581.2 958.3L1582.4 958.9L1583.1 959.4L1583.5 959.8L1583.9 960.2L1584.4 960.9L1585 962.1L1585.2 963.1L1585 964.1L1584.4 965.3L1563.5 1006L1563 1006.7L1562.6 1007.1L1562.2 1007.5L1561.5 1008L1560.3 1008.6L1559.3 1008.8L1558.3 1008.6L1557.1 1008L1556.5 1007.5L1556 1007.1L1555.6 1006.7L1555.1 1006L1554.5 1004.8ZM1575.2 963.1L1575.4 962.1L1576 960.9L1576.5 960.2L1576.9 959.8L1577.3 959.4L1578 958.9L1579.2 958.3L1580.2 958.1L1581.2 958.3L1582.4 958.9L1583.1 959.4L1583.5 959.8L1583.9 960.2L1584.4 960.9L1585 962.1L1605.9 1013.3L1606.1 1014.3L1605.9 1015.3L1605.3 1016.5L1604.8 1017.2L1604.4 1017.6L1604 1018L1603.3 1018.5L1602.1 1019.1L1601.1 1019.3L1600.1 1019.1L1598.9 1018.5L1598.2 1018L1597.8 1017.6L1597.4 1017.2L1596.9 1016.5L1596.3 1015.3L1575.4 964.1ZM1596.1 1014.3L1596.3 1013.3L1596.9 1012.1L1597.4 1011.4L1597.8 1011L1598.2 1010.6L1598.9 1010.1L1600.1 1009.5L1601.1 1009.3L1602.1 1009.5L1603.3 1010.1L1604 1010.6L1604.4 1011L1604.8 1011.4L1605.3 1012.1L1605.9 1013.3L1626.8 1096L1627 1097L1626.8 1098L1626.2 1099.2L1625.7 1099.9L1625.3 1100.3L1624.8 1100.7L1624.2 1101.2L1623 1101.8L1622 1102L1621 1101.8L1619.8 1101.2L1619.1 1100.7L1618.7 1100.3L1618.2 1099.9L1617.8 1099.2L1617.2 1098L1596.3 1015.3ZM1617 1097L1617.2 1096L1638.1 1040.1L1638.7 1038.9L1639.1 1038.2L1639.5 1037.8L1640 1037.4L1640.7 1036.9L1641.8 1036.3L1642.9 1036.1L1643.9 1036.3L1645.1 1036.9L1645.7 1037.4L1646.2 1037.8L1646.6 1038.2L1647.1 1038.9L1647.7 1040.1L1647.9 1041.1L1647.7 1042.1L1626.8 1098L1626.2 1099.2L1625.7 1099.9L1625.3 1100.3L1624.8 1100.7L1624.2 1101.2L1623 1101.8L1622 1102L1621 1101.8L1619.8 1101.2L1619.1 1100.7L1618.7 1100.3L1618.2 1099.9L1617.8 1099.2L1617.2 1098ZM1637.9 1041.1L1638.1 1040.1L1638.7 1038.9L1639.1 1038.2L1639.5 1037.8L1640 1037.4L1640.7 1036.9L1641.8 1036.3L1662.7 1031.4L1663.8 1031.2L1664.8 1031.4L1666 1032L1666.6 1032.5L1667.1 1032.9L1667.5 1033.3L1668 1034L1668.6 1035.2L1668.8 1036.2L1668.6 1037.2L1668 1038.4L1667.5 1039.1L1667.1 1039.5L1666.6 1039.9L1666 1040.4L1664.8 1041L1643.9 1045.9L1642.9 1046.1L1641.8 1045.9L1640.7 1045.3L1640 1044.8L1639.5 1044.4L1639.1 1044L1638.7 1043.3L1638.1 1042.1ZM1658.8 1036.2L1659 1035.2L1659.5 1034L1680.4 1000.7L1680.9 1000L1681.3 999.6L1681.8 999.2L1682.4 998.7L1683.6 998.1L1684.7 997.9L1685.7 998.1L1686.9 998.7L1687.5 999.2L1688 999.6L1688.4 1000L1688.9 1000.7L1689.5 1001.9L1689.7 1002.9L1689.5 1003.9L1688.9 1005.1L1668 1038.4L1667.5 1039.1L1667.1 1039.5L1666.6 1039.9L1666 1040.4L1664.8 1041L1663.8 1041.2L1662.7 1041L1661.5 1040.4L1660.9 1039.9L1660.4 1039.5L1660 1039.1L1659.5 1038.4L1659 1037.2ZM1679.7 1002.9L1679.8 1001.9L1680.4 1000.7L1680.9 1000L1681.3 999.6L1681.8 999.2L1682.4 998.7L1683.6 998.1L1684.7 997.9L1685.7 998.1L1706.5 1002.2L1707.7 1002.8L1708.4 1003.3L1708.9 1003.7L1709.3 1004.1L1709.8 1004.8L1710.3 1006L1710.5 1007L1710.3 1008L1709.8 1009.2L1709.3 1009.9L1708.9 1010.3L1708.4 1010.7L1707.7 1011.2L1706.5 1011.8L1705.5 1012L1704.5 1011.8L1683.6 1007.7L1682.4 1007.1L1681.8 1006.6L1681.3 1006.2L1680.9 1005.8L1680.4 1005.1L1679.8 1003.9ZM1700.5 1007L1700.7 1006L1701.3 1004.8L1701.8 1004.1L1702.2 1003.7L1702.7 1003.3L1703.3 1002.8L1704.5 1002.2L1705.5 1002L1706.5 1002.2L1727.4 1009.5L1728.6 1010.1L1729.3 1010.6L1729.8 1011L1730.2 1011.4L1730.6 1012.1L1731.2 1013.3L1731.4 1014.3L1731.2 1015.3L1730.6 1016.5L1730.2 1017.2L1729.8 1017.6L1729.3 1018L1728.6 1018.5L1727.4 1019.1L1726.4 1019.3L1725.4 1019.1L1704.5 1011.8L1703.3 1011.2L1702.7 1010.7L1702.2 1010.3L1701.8 1009.9L1701.3 1009.2L1700.7 1008ZM1721.4 1014.3L1721.6 1013.3L1722.2 1012.1L1722.7 1011.4L1723.1 1011L1723.6 1010.6L1724.2 1010.1L1725.4 1009.5L1726.4 1009.3L1727.4 1009.5L1728.6 1010.1L1729.3 1010.6L1729.8 1011L1750.6 1030.6L1751 1031L1751.5 1031.7L1752.1 1032.9L1752.3 1033.9L1752.1 1034.9L1751.5 1036.1L1751 1036.8L1750.6 1037.2L1750.2 1037.6L1749.5 1038.1L1748.3 1038.7L1747.3 1038.9L1746.3 1038.7L1745.1 1038.1L1744.5 1037.6L1744 1037.2L1723.1 1017.6L1722.7 1017.2L1722.2 1016.5L1721.6 1015.3ZM1742.3 1033.9L1742.5 1032.9L1743.1 1031.7L1764 1002.4L1764.5 1001.7L1764.9 1001.3L1765.3 1000.9L1766 1000.4L1767.2 999.8L1768.2 999.6L1769.2 999.8L1770.4 1000.4L1771.1 1000.9L1771.5 1001.3L1771.9 1001.7L1772.4 1002.4L1773 1003.6L1773.2 1004.6L1773 1005.6L1772.4 1006.8L1751.5 1036.1L1751 1036.8L1750.6 1037.2L1750.2 1037.6L1749.5 1038.1L1748.3 1038.7L1747.3 1038.9L1746.3 1038.7L1745.1 1038.1L1744.5 1037.6L1744 1037.2L1743.6 1036.8L1743.1 1036.1L1742.5 1034.9ZM1763.2 1004.6L1763.4 1003.6L1764 1002.4L1784.9 973.1L1785.4 972.4L1785.8 972L1786.2 971.6L1786.9 971.1L1788.1 970.5L1789.1 970.3L1790.1 970.5L1791.3 971.1L1792 971.6L1792.4 972L1792.8 972.4L1793.3 973.1L1793.9 974.3L1794.1 975.3L1793.9 976.3L1793.3 977.5L1772.4 1006.8L1771.9 1007.5L1771.5 1007.9L1771.1 1008.3L1770.4 1008.8L1769.2 1009.4L1768.2 1009.6L1767.2 1009.4L1766 1008.8L1765.3 1008.3L1764.9 1007.9L1764.5 1007.5L1764 1006.8L1763.4 1005.6Z"/>
<path clip-path="url(#cc)" fill="#000" d="M280.1 1407.8L280.3 1406.8L280.9 1405.6L281.4 1404.9L281.8 1404.5L282.2 1404.1L282.9 1403.6L284.1 1403L285.1 1402.8L286.1 1403L287.3 1403.6L288 1404.1L288.4 1404.5L309.3 1427.7L309.7 1428.1L310.2 1428.8L310.8 1430L311 1431L310.8 1432L310.2 1433.2L309.7 1433.9L309.3 1434.3L308.9 1434.7L308.2 1435.2L307 1435.8L306 1436L305 1435.8L303.8 1435.2L303.1 1434.7L302.7 1434.3L281.8 1411.1L281.4 1410.7L280.9 1410L280.3 1408.8ZM301 1431L301.2 1430L301.8 1428.8L302.3 1428.1L302.7 1427.7L303.1 1427.3L303.8 1426.8L305 1426.2L306 1426L307 1426.2L308.2 1426.8L308.9 1427.3L309.3 1427.7L330.2 1450.9L330.6 1451.3L331.1 1452L331.7 1453.2L331.9 1454.2L331.7 1455.2L331.1 1456.4L330.6 1457.1L330.2 1457.5L329.8 1457.9L329.1 1458.4L327.9 1459L326.9 1459.2L325.9 1459L324.7 1458.4L324 1457.9L323.6 1457.5L302.7 1434.3L302.3 1433.9L301.8 1433.2L301.2 1432ZM321.9 1454.2L322.1 1453.2L322.7 1452L323.2 1451.3L323.6 1450.9L324 1450.5L324.7 1450L325.9 1449.4L326.9 1449.2L327.9 1449.4L348.8 1455.6L350 1456.2L350.6 1456.7L351.1 1457.1L351.5 1457.5L352 1458.2L352.6 1459.4L352.8 1460.4L352.6 1461.4L352 1462.6L351.5 1463.3L351.1 1463.7L350.6 1464.1L350 1464.6L348.8 1465.2L347.8 1465.4L346.8 1465.2L325.9 1459L324.7 1458.4L324 1457.9L323.6 1457.5L323.2 1457.1L322.7 1456.4L322.1 1455.2ZM342.8 1460.4L343 1459.4L343.6 1458.2L344.1 1457.5L344.4 1457.1L344.9 1456.7L345.6 1456.2L346.8 1455.6L347.8 1455.4L368.7 1455.4L369.7 1455.6L370.9 1456.2L371.5 1456.7L372 1457.1L372.4 1457.5L372.9 1458.2L373.5 1459.4L373.7 1460.4L373.5 1461.4L372.9 1462.6L372.4 1463.3L372 1463.7L371.5 1464.1L370.9 1464.6L369.7 1465.2L368.7 1465.4L347.8 1465.4L346.8 1465.2L345.6 1464.6L344.9 1464.1L344.4 1463.7L344.1 1463.3L343.6 1462.6L343 1461.4ZM363.7 1460.4L363.9 1459.4L364.4 1458.2L364.9 1457.5L365.3 1457.1L365.8 1456.7L366.5 1456.2L367.6 1455.6L368.7 1455.4L369.7 1455.6L390.6 1464.2L391.8 1464.8L392.4 1465.3L392.9 1465.7L393.3 1466.1L393.8 1466.8L394.4 1468L394.6 1469L394.4 1470L393.8 1471.2L393.3 1471.9L392.9 1472.3L392.4 1472.7L391.8 1473.2L390.6 1473.8L389.6 1474L388.5 1473.8L367.6 1465.2L366.5 1464.6L365.8 1464.1L365.3 1463.7L364.9 1463.3L364.4 1462.6L363.9 1461.4ZM384.6 1469L384.8 1468L385.3 1466.8L385.8 1466.1L386.2 1465.7L386.7 1465.3L387.3 1464.8L388.5 1464.2L389.6 1464L390.6 1464.2L411.5 1470.5L412.6 1471.1L413.3 1471.6L413.8 1472L414.2 1472.4L414.7 1473.1L415.2 1474.3L415.4 1475.3L415.2 1476.3L414.7 1477.5L414.2 1478.2L413.8 1478.6L413.3 1479L412.6 1479.5L411.5 1480.1L410.4 1480.3L409.4 1480.1L388.5 1473.8L387.3 1473.2L386.7 1472.7L386.2 1472.3L385.8 1471.9L385.3 1471.2L384.8 1470ZM405.4 1475.3L405.6 1474.3L406.2 1473.1L406.7 1472.4L407.1 1472L407.6 1471.6L408.2 1471.1L409.4 1470.5L410.4 1470.3L431.3 1470.6L432.4 1470.8L433.5 1471.4L434.2 1471.9L434.7 1472.3L435.1 1472.7L435.6 1473.4L436.1 1474.6L436.3 1475.6L436.1 1476.6L435.6 1477.8L435.1 1478.5L434.7 1478.9L434.2 1479.3L433.5 1479.8L432.4 1480.4L431.3 1480.6L410.4 1480.3L409.4 1480.1L408.2 1479.5L407.6 1479L407.1 1478.6L406.7 1478.2L406.2 1477.5L405.6 1476.3ZM426.3 1475.6L426.5 1474.6L427.1 1473.4L427.6 1472.7L428 1472.3L428.5 1471.9L429.1 1471.4L430.3 1470.8L431.3 1470.6L432.4 1470.8L453.2 1479.5L454.4 1480.1L455.1 1480.6L455.6 1481L455.9 1481.4L456.4 1482.1L457 1483.3L457.2 1484.3L457 1485.3L456.4 1486.5L455.9 1487.2L455.6 1487.6L455.1 1488L454.4 1488.5L453.2 1489.1L452.2 1489.3L451.2 1489.1L430.3 1480.4L429.1 1479.8L428.5 1479.3L428 1478.9L427.6 1478.5L427.1 1477.8L426.5 1476.6ZM447.2 1484.3L447.4 1483.3L448 1482.1L448.5 1481.4L448.9 1481L449.4 1480.6L450 1480.1L451.2 1479.5L452.2 1479.3L473.1 1482.6L474.1 1482.8L475.3 1483.4L476 1483.9L476.4 1484.3L476.8 1484.7L477.3 1485.4L477.9 1486.6L478.1 1487.6L477.9 1488.6L477.3 1489.8L476.8 1490.5L476.4 1490.9L476 1491.3L475.3 1491.8L474.1 1492.4L473.1 1492.6L452.2 1489.3L451.2 1489.1L450 1488.5L449.4 1488L448.9 1487.6L448.5 1487.2L448 1486.5L447.4 1485.3ZM468.1 1487.6L468.3 1486.6L468.9 1485.4L469.4 1484.7L469.8 1484.3L470.2 1483.9L470.9 1483.4L472.1 1482.8L473.1 1482.6L494 1486L495 1486.2L496.2 1486.8L496.9 1487.3L497.3 1487.7L497.7 1488.1L498.2 1488.8L498.8 1490L499 1491L498.8 1492L498.2 1493.2L497.7 1493.9L497.3 1494.3L496.9 1494.7L496.2 1495.2L495 1495.8L494 1496L473.1 1492.6L472.1 1492.4L470.9 1491.8L470.2 1491.3L469.8 1490.9L469.4 1490.5L468.9 1489.8L468.3 1488.6ZM489 1491L489.2 1490L489.8 1488.8L490.3 1488.1L490.7 1487.7L491.1 1487.3L491.8 1486.8L493 1486.2L494 1486L495 1486.2L515.9 1493.9L517.1 1494.5L517.8 1495L518.2 1495.4L518.6 1495.8L519.1 1496.5L519.7 1497.7L519.9 1498.7L519.7 1499.7L519.1 1500.9L518.6 1501.6L518.2 1502L517.8 1502.4L517.1 1502.9L515.9 1503.5L514.9 1503.7L513.9 1503.5L493 1495.8L491.8 1495.2L491.1 1494.7L490.7 1494.3L490.3 1493.9L489.8 1493.2L489.2 1492ZM509.9 1498.7L510.1 1497.7L510.7 1496.5L511.2 1495.8L511.6 1495.4L512 1495L512.7 1494.5L513.9 1493.9L514.9 1493.7L515.9 1493.9L536.8 1500.2L538 1500.8L538.6 1501.3L539.1 1501.7L539.5 1502.1L540 1502.8L540.6 1504L540.8 1505L540.6 1506L540 1507.2L539.5 1507.9L539.1 1508.3L538.6 1508.7L538 1509.2L536.8 1509.8L535.8 1510L534.8 1509.8L513.9 1503.5L512.7 1502.9L512 1502.4L511.6 1502L511.2 1501.6L510.7 1500.9L510.1 1499.7ZM530.8 1505L531 1504L531.5 1502.8L532 1502.1L532.4 1501.7L532.9 1501.3L533.6 1500.8L534.8 1500.2L535.8 1500L556.7 1501.4L557.7 1501.6L558.9 1502.2L559.5 1502.7L560 1503.1L560.4 1503.5L560.9 1504.2L561.5 1505.4L561.7 1506.4L561.5 1507.4L560.9 1508.6L560.4 1509.3L560 1509.7L559.5 1510.1L558.9 1510.6L557.7 1511.2L556.7 1511.4L535.8 1510L534.8 1509.8L533.6 1509.2L532.9 1508.7L532.4 1508.3L532 1507.9L531.5 1507.2L531 1506ZM551.7 1506.4L551.9 1505.4L552.4 1504.2L552.9 1503.5L553.3 1503.1L553.8 1502.7L554.5 1502.2L555.6 1501.6L556.7 1501.4L557.7 1501.6L578.6 1509.4L579.8 1510L580.4 1510.5L580.9 1510.9L581.3 1511.3L581.8 1512L582.4 1513.2L582.5 1514.2L582.4 1515.2L581.8 1516.4L581.3 1517.1L580.9 1517.5L580.4 1517.9L579.8 1518.4L578.6 1519L577.5 1519.2L576.5 1519L555.6 1511.2L554.5 1510.6L553.8 1510.1L553.3 1509.7L552.9 1509.3L552.4 1508.6L551.9 1507.4ZM572.5 1514.2L572.8 1513.2L573.3 1512L573.8 1511.3L574.2 1510.9L574.7 1510.5L575.3 1510L576.5 1509.4L577.5 1509.2L578.6 1509.4L599.5 1515L600.6 1515.6L601.3 1516.1L601.8 1516.5L602.2 1516.9L602.7 1517.6L603.2 1518.8L603.4 1519.8L603.2 1520.8L602.7 1522L602.2 1522.7L601.8 1523.1L601.3 1523.5L600.6 1524L599.5 1524.6L598.4 1524.8L597.4 1524.6L576.5 1519L575.3 1518.4L574.7 1517.9L574.2 1517.5L573.8 1517.1L573.3 1516.4L572.8 1515.2ZM593.4 1519.8L593.6 1518.8L594.2 1517.6L594.7 1516.9L595.1 1516.5L595.6 1516.1L596.2 1515.6L597.4 1515L598.4 1514.8L599.5 1515L620.4 1523.2L621.5 1523.8L622.2 1524.3L622.7 1524.7L623.1 1525.1L623.5 1525.8L624.1 1527L624.3 1528L624.1 1529L623.5 1530.2L623.1 1530.9L622.7 1531.3L622.2 1531.7L621.5 1532.2L620.4 1532.8L619.3 1533L618.3 1532.8L597.4 1524.6L596.2 1524L595.6 1523.5L595.1 1523.1L594.7 1522.7L594.2 1522L593.6 1520.8ZM614.3 1528L614.5 1527L615.1 1525.8L615.6 1525.1L616 1524.7L616.5 1524.3L617.1 1523.8L618.3 1523.2L619.3 1523L620.4 1523.2L641.2 1531.1L642.4 1531.7L643.1 1532.2L643.5 1532.6L644 1533L644.4 1533.7L645 1534.9L645.2 1535.9L645 1536.9L644.4 1538.1L644 1538.8L643.5 1539.2L643.1 1539.6L642.4 1540.1L641.2 1540.7L640.2 1540.9L639.2 1540.7L618.3 1532.8L617.1 1532.2L616.5 1531.7L616 1531.3L615.6 1530.9L615.1 1530.2L614.5 1529ZM635.2 1535.9L635.4 1534.9L636 1533.7L636.5 1533L636.9 1532.6L637.4 1532.2L638 1531.7L639.2 1531.1L640.2 1530.9L641.2 1531.1L662.1 1537.9L663.3 1538.5L664 1539L664.4 1539.4L664.8 1539.8L665.3 1540.5L665.9 1541.7L666.1 1542.7L665.9 1543.7L665.3 1544.9L664.8 1545.6L664.4 1546L664 1546.4L663.3 1546.9L662.1 1547.5L661.1 1547.7L660.1 1547.5L639.2 1540.7L638 1540.1L637.4 1539.6L636.9 1539.2L636.5 1538.8L636 1538.1L635.4 1536.9ZM656.1 1542.7L656.3 1541.7L656.9 1540.5L657.4 1539.8L657.8 1539.4L658.2 1539L658.9 1538.5L660.1 1537.9L661.1 1537.7L682 1539.9L683 1540.1L684.2 1540.7L684.9 1541.2L685.3 1541.6L685.7 1542L686.2 1542.7L686.8 1543.9L687 1544.9L686.8 1545.9L686.2 1547.1L685.7 1547.8L685.3 1548.2L684.9 1548.6L684.2 1549.1L683 1549.7L682 1549.9L661.1 1547.7L660.1 1547.5L658.9 1546.9L658.2 1546.4L657.8 1546L657.4 1545.6L656.9 1544.9L656.3 1543.7ZM677 1544.9L677.2 1543.9L677.8 1542.7L678.3 1542L678.7 1541.6L679.1 1541.2L679.8 1540.7L681 1540.1L682 1539.9L702.9 1539.1L703.9 1539.3L705.1 1539.9L705.7 1540.4L706.2 1540.8L706.6 1541.2L707.1 1541.9L707.7 1543.1L707.9 1544.1L707.7 1545.1L707.1 1546.3L706.6 1547L706.2 1547.4L705.7 1547.8L705.1 1548.3L703.9 1548.9L702.9 1549.1L682 1549.9L681 1549.7L679.8 1549.1L679.1 1548.6L678.7 1548.2L678.3 1547.8L677.8 1547.1L677.2 1545.9ZM697.9 1544.1L698.1 1543.1L698.7 1541.9L699.1 1541.2L699.5 1540.8L700 1540.4L700.7 1539.9L701.9 1539.3L702.9 1539.1L703.9 1539.3L724.8 1549.4L726 1550L726.6 1550.5L727.1 1550.9L727.5 1551.3L728 1552L728.6 1553.2L728.8 1554.2L728.6 1555.2L728 1556.4L727.5 1557.1L727.1 1557.5L726.6 1557.9L726 1558.4L724.8 1559L723.8 1559.2L722.8 1559L701.9 1548.9L700.7 1548.3L700 1547.8L699.5 1547.4L699.1 1547L698.7 1546.3L698.1 1545.1ZM718.8 1554.2L719 1553.2L719.5 1552L720 1551.3L720.4 1550.9L720.9 1550.5L721.6 1550L722.8 1549.4L723.8 1549.2L744.7 1553L745.7 1553.2L746.9 1553.8L747.5 1554.3L748 1554.7L748.4 1555.1L748.9 1555.8L749.5 1557L749.7 1558L749.5 1559L748.9 1560.2L748.4 1560.9L748 1561.3L747.5 1561.7L746.9 1562.2L745.7 1562.8L744.7 1563L723.8 1559.2L722.8 1559L721.6 1558.4L720.9 1557.9L720.4 1557.5L720 1557.1L719.5 1556.4L719 1555.2ZM739.7 1558L739.9 1557L740.4 1555.8L740.9 1555.1L741.3 1554.7L741.8 1554.3L742.5 1553.8L743.6 1553.2L744.7 1553L765.5 1553L766.6 1553.2L767.8 1553.8L768.4 1554.3L768.9 1554.7L769.3 1555.1L769.8 1555.8L770.4 1557L770.5 1558L770.4 1559L769.8 1560.2L769.3 1560.9L768.9 1561.3L768.4 1561.7L767.8 1562.2L766.6 1562.8L765.5 1563L744.7 1563L743.6 1562.8L742.5 1562.2L741.8 1561.7L741.3 1561.3L740.9 1560.9L740.4 1560.2L739.9 1559ZM760.5 1558L760.8 1557L761.3 1555.8L761.8 1555.1L762.2 1554.7L762.7 1554.3L763.3 1553.8L764.5 1553.2L765.5 1553L786.4 1556.5L787.5 1556.7L788.6 1557.3L789.3 1557.8L789.8 1558.2L790.2 1558.6L790.7 1559.3L791.2 1560.5L791.4 1561.5L791.2 1562.5L790.7 1563.7L790.2 1564.4L789.8 1564.8L789.3 1565.2L788.6 1565.7L787.5 1566.3L786.4 1566.5L765.5 1563L764.5 1562.8L763.3 1562.2L762.7 1561.7L762.2 1561.3L761.8 1560.9L761.3 1560.2L760.8 1559ZM781.4 1561.5L781.6 1560.5L782.2 1559.3L782.7 1558.6L783.1 1558.2L783.6 1557.8L784.2 1557.3L785.4 1556.7L786.4 1556.5L787.5 1556.7L808.4 1565.4L809.5 1566L810.2 1566.5L810.7 1566.9L811.1 1567.3L811.5 1568L812.1 1569.2L812.3 1570.2L812.1 1571.2L811.5 1572.4L811.1 1573.1L810.7 1573.5L810.2 1573.9L809.5 1574.4L808.4 1575L807.3 1575.2L806.3 1575L785.4 1566.3L784.2 1565.7L783.6 1565.2L783.1 1564.8L782.7 1564.4L782.2 1563.7L781.6 1562.5ZM802.3 1570.2L802.5 1569.2L803.1 1568L803.6 1567.3L804 1566.9L804.5 1566.5L805.1 1566L806.3 1565.4L807.3 1565.2L828.2 1567L829.2 1567.2L830.4 1567.8L831.1 1568.3L831.5 1568.7L831.9 1569.1L832.4 1569.8L833 1571L833.2 1572L833 1573L832.4 1574.2L831.9 1574.9L831.5 1575.3L831.1 1575.7L830.4 1576.2L829.2 1576.8L828.2 1577L807.3 1575.2L806.3 1575L805.1 1574.4L804.5 1573.9L804 1573.5L803.6 1573.1L803.1 1572.4L802.5 1571.2ZM823.2 1572L823.4 1571L824 1569.8L824.5 1569.1L824.9 1568.7L825.4 1568.3L826 1567.8L827.2 1567.2L828.2 1567L829.2 1567.2L850.1 1571.5L851.3 1572.1L852 1572.6L852.4 1573L852.8 1573.4L853.3 1574.1L853.9 1575.3L854.1 1576.3L853.9 1577.3L853.3 1578.5L852.8 1579.2L852.4 1579.6L852 1580L851.3 1580.5L850.1 1581.1L849.1 1581.3L848.1 1581.1L827.2 1576.8L826 1576.2L825.4 1575.7L824.9 1575.3L824.5 1574.9L824 1574.2L823.4 1573ZM844.1 1576.3L844.3 1575.3L844.9 1574.1L845.4 1573.4L845.8 1573L846.2 1572.6L846.9 1572.1L848.1 1571.5L849.1 1571.3L870 1569L871 1569.2L872.2 1569.8L872.9 1570.3L873.3 1570.7L873.7 1571.1L874.2 1571.8L874.8 1573L875 1574L874.8 1575L874.2 1576.2L873.7 1576.9L873.3 1577.3L872.9 1577.7L872.2 1578.2L871 1578.8L870 1579L849.1 1581.3L848.1 1581.1L846.9 1580.5L846.2 1580L845.8 1579.6L845.4 1579.2L844.9 1578.5L844.3 1577.3ZM865 1574L865.2 1573L865.8 1571.8L866.3 1571.1L866.7 1570.7L867.1 1570.3L867.8 1569.8L869 1569.2L870 1569L871 1569.2L872.2 1569.8L872.9 1570.3L873.3 1570.7L894.2 1591.3L894.6 1591.7L895.1 1592.4L895.7 1593.6L895.9 1594.6L895.7 1595.6L895.1 1596.8L894.6 1597.5L894.2 1597.9L893.7 1598.3L893.1 1598.8L891.9 1599.4L890.9 1599.6L889.9 1599.4L888.7 1598.8L888 1598.3L887.5 1597.9L866.7 1577.3L866.3 1576.9L865.8 1576.2L865.2 1575ZM885.9 1594.6L886.1 1593.6L886.7 1592.4L887.1 1591.7L887.5 1591.3L888 1590.9L888.7 1590.4L889.9 1589.8L910.8 1584.4L911.8 1584.2L912.8 1584.4L914 1585L914.6 1585.5L915.1 1585.9L915.5 1586.3L916 1587L916.6 1588.2L916.8 1589.2L916.6 1590.2L916 1591.4L915.5 1592.1L915.1 1592.5L914.6 1592.9L914 1593.4L912.8 1594L891.9 1599.4L890.9 1599.6L889.9 1599.4L888.7 1598.8L888 1598.3L887.5 1597.9L887.1 1597.5L886.7 1596.8L886.1 1595.6ZM906.8 1589.2L907 1588.2L907.5 1587L908 1586.3L908.4 1585.9L908.9 1585.5L909.6 1585L910.8 1584.4L911.8 1584.2L932.7 1587.4L933.7 1587.6L934.9 1588.2L935.5 1588.7L936 1589.1L936.4 1589.5L936.9 1590.2L937.5 1591.4L937.7 1592.4L937.5 1593.4L936.9 1594.6L936.4 1595.3L936 1595.7L935.5 1596.1L934.9 1596.6L933.7 1597.2L932.7 1597.4L911.8 1594.2L910.8 1594L909.6 1593.4L908.9 1592.9L908.4 1592.5L908 1592.1L907.5 1591.4L907 1590.2ZM927.7 1592.4L927.9 1591.4L928.4 1590.2L928.9 1589.5L929.3 1589.1L929.8 1588.7L930.5 1588.2L931.6 1587.6L932.7 1587.4L933.7 1587.6L954.6 1593.5L955.8 1594.1L956.4 1594.6L956.9 1595L957.3 1595.4L957.8 1596.1L958.4 1597.3L958.5 1598.3L958.4 1599.3L957.8 1600.5L957.3 1601.2L956.9 1601.6L956.4 1602L955.8 1602.5L954.6 1603.1L953.5 1603.3L952.5 1603.1L931.6 1597.2L930.5 1596.6L929.8 1596.1L929.3 1595.7L928.9 1595.3L928.4 1594.6L927.9 1593.4ZM948.5 1598.3L948.8 1597.3L949.3 1596.1L949.8 1595.4L950.2 1595L950.7 1594.6L951.3 1594.1L952.5 1593.5L953.5 1593.3L974.4 1595.2L975.5 1595.4L976.6 1596L977.3 1596.5L977.8 1596.9L978.2 1597.3L978.6 1598L979.2 1599.2L979.4 1600.2L979.2 1601.2L978.6 1602.4L978.2 1603.1L977.8 1603.5L977.3 1603.9L976.6 1604.4L975.5 1605L974.4 1605.2L953.5 1603.3L952.5 1603.1L951.3 1602.5L950.7 1602L950.2 1601.6L949.8 1601.2L949.3 1600.5L948.8 1599.3ZM969.4 1600.2L969.6 1599.2L970.2 1598L970.7 1597.3L971.1 1596.9L971.6 1596.5L972.2 1596L973.4 1595.4L974.4 1595.2L975.5 1595.4L996.3 1602L997.5 1602.6L998.2 1603.1L998.6 1603.5L999 1603.9L999.5 1604.6L1000.1 1605.8L1000.3 1606.8L1000.1 1607.8L999.5 1609L999 1609.7L998.6 1610.1L998.2 1610.5L997.5 1611L996.3 1611.6L995.3 1611.8L994.3 1611.6L973.4 1605L972.2 1604.4L971.6 1603.9L971.1 1603.5L970.7 1603.1L970.2 1602.4L969.6 1601.2ZM990.3 1606.8L990.5 1605.8L991.1 1604.6L991.6 1603.9L992 1603.5L992.5 1603.1L993.1 1602.6L994.3 1602L995.3 1601.8L996.3 1602L1017.2 1608.2L1018.4 1608.8L1019.1 1609.3L1019.5 1609.7L1019.9 1610.1L1020.4 1610.8L1021 1612L1021.2 1613L1021 1614L1020.4 1615.2L1019.9 1615.9L1019.5 1616.3L1019.1 1616.7L1018.4 1617.2L1017.2 1617.8L1016.2 1618L1015.2 1617.8L994.3 1611.6L993.1 1611L992.5 1610.5L992 1610.1L991.6 1609.7L991.1 1609L990.5 1607.8ZM1011.2 1613L1011.4 1612L1012 1610.8L1012.5 1610.1L1012.9 1609.7L1013.4 1609.3L1014 1608.8L1015.2 1608.2L1016.2 1608L1037.1 1611.2L1038.1 1611.4L1039.3 1612L1040 1612.5L1040.4 1612.9L1040.8 1613.3L1041.3 1614L1041.9 1615.2L1042.1 1616.2L1041.9 1617.2L1041.3 1618.4L1040.8 1619.1L1040.4 1619.5L1040 1619.9L1039.3 1620.4L1038.1 1621L1037.1 1621.2L1016.2 1618L1015.2 1617.8L1014 1617.2L1013.4 1616.7L1012.9 1616.3L1012.5 1615.9L1012 1615.2L1011.4 1614ZM1032.1 1616.2L1032.3 1615.2L1032.9 1614L1033.4 1613.3L1033.8 1612.9L1034.2 1612.5L1034.9 1612L1036.1 1611.4L1037.1 1611.2L1058 1613.5L1059 1613.7L1060.2 1614.3L1060.8 1614.8L1061.3 1615.2L1061.7 1615.6L1062.2 1616.3L1062.8 1617.5L1063 1618.5L1062.8 1619.5L1062.2 1620.7L1061.7 1621.4L1061.3 1621.8L1060.8 1622.2L1060.2 1622.7L1059 1623.3L1058 1623.5L1037.1 1621.2L1036.1 1621L1034.9 1620.4L1034.2 1619.9L1033.8 1619.5L1033.4 1619.1L1032.9 1618.4L1032.3 1617.2ZM1053 1618.5L1053.2 1617.5L1053.8 1616.3L1054.3 1615.6L1054.7 1615.2L1055.1 1614.8L1055.8 1614.3L1057 1613.7L1058 1613.5L1078.9 1616.7L1079.9 1616.9L1081.1 1617.5L1081.7 1618L1082.2 1618.4L1082.6 1618.8L1083.1 1619.5L1083.7 1620.7L1083.9 1621.7L1083.7 1622.7L1083.1 1623.9L1082.6 1624.6L1082.2 1625L1081.7 1625.4L1081.1 1625.9L1079.9 1626.5L1078.9 1626.7L1058 1623.5L1057 1623.3L1055.8 1622.7L1055.1 1622.2L1054.7 1621.8L1054.3 1621.4L1053.8 1620.7L1053.2 1619.5ZM1073.9 1621.7L1074.1 1620.7L1074.7 1619.5L1075.2 1618.8L1075.5 1618.4L1076 1618L1076.7 1617.5L1077.9 1616.9L1078.9 1616.7L1099.8 1613.4L1100.8 1613.6L1102 1614.2L1102.6 1614.7L1103.1 1615.1L1103.5 1615.5L1104 1616.2L1104.6 1617.4L1104.8 1618.4L1104.6 1619.4L1104 1620.6L1103.5 1621.3L1103.1 1621.7L1102.6 1622.1L1102 1622.6L1100.8 1623.2L1099.8 1623.4L1078.9 1626.7L1077.9 1626.5L1076.7 1625.9L1076 1625.4L1075.5 1625L1075.2 1624.6L1074.7 1623.9L1074.1 1622.7ZM1094.8 1618.4L1095 1617.4L1095.5 1616.2L1096 1615.5L1096.4 1615.1L1096.9 1614.7L1097.6 1614.2L1098.8 1613.6L1099.8 1613.4L1100.8 1613.6L1121.7 1623.6L1122.9 1624.2L1123.5 1624.7L1124 1625.1L1124.4 1625.5L1124.9 1626.2L1125.5 1627.4L1125.7 1628.4L1125.5 1629.4L1124.9 1630.6L1124.4 1631.3L1124 1631.7L1123.5 1632.1L1122.9 1632.6L1121.7 1633.2L1120.7 1633.4L1119.6 1633.2L1098.8 1623.2L1097.6 1622.6L1096.9 1622.1L1096.4 1621.7L1096 1621.3L1095.5 1620.6L1095 1619.4ZM1115.7 1628.4L1115.8 1627.4L1116.4 1626.2L1116.9 1625.5L1117.3 1625.1L1117.8 1624.7L1118.4 1624.2L1119.6 1623.6L1120.7 1623.4L1141.5 1622.4L1142.6 1622.6L1143.8 1623.2L1144.4 1623.7L1144.9 1624.1L1145.3 1624.5L1145.8 1625.2L1146.3 1626.4L1146.5 1627.4L1146.3 1628.4L1145.8 1629.6L1145.3 1630.3L1144.9 1630.7L1144.4 1631.1L1143.8 1631.6L1142.6 1632.2L1141.5 1632.4L1120.7 1633.4L1119.6 1633.2L1118.4 1632.6L1117.8 1632.1L1117.3 1631.7L1116.9 1631.3L1116.4 1630.6L1115.8 1629.4ZM1136.5 1627.4L1136.7 1626.4L1137.3 1625.2L1137.8 1624.5L1138.2 1624.1L1138.7 1623.7L1139.3 1623.2L1140.5 1622.6L1141.5 1622.4L1142.6 1622.6L1143.8 1623.2L1164.6 1633.5L1165.3 1634L1165.8 1634.4L1166.2 1634.8L1166.7 1635.5L1167.2 1636.7L1167.4 1637.7L1167.2 1638.7L1166.7 1639.9L1166.2 1640.6L1165.8 1641L1165.3 1641.4L1164.6 1641.9L1163.5 1642.5L1162.4 1642.7L1161.4 1642.5L1160.2 1641.9L1139.3 1631.6L1138.7 1631.1L1138.2 1630.7L1137.8 1630.3L1137.3 1629.6L1136.7 1628.4ZM1157.4 1637.7L1157.6 1636.7L1158.2 1635.5L1158.7 1634.8L1159.1 1634.4L1159.6 1634L1160.2 1633.5L1161.4 1632.9L1162.4 1632.7L1183.3 1631.9L1184.3 1632.1L1185.5 1632.7L1186.2 1633.2L1186.7 1633.6L1187 1634L1187.5 1634.7L1188.1 1635.9L1188.3 1636.9L1188.1 1637.9L1187.5 1639.1L1187 1639.8L1186.7 1640.2L1186.2 1640.6L1185.5 1641.1L1184.3 1641.7L1183.3 1641.9L1162.4 1642.7L1161.4 1642.5L1160.2 1641.9L1159.6 1641.4L1159.1 1641L1158.7 1640.6L1158.2 1639.9L1157.6 1638.7ZM1178.3 1636.9L1178.5 1635.9L1179.1 1634.7L1179.6 1634L1180 1633.6L1180.5 1633.2L1181.1 1632.7L1182.3 1632.1L1183.3 1631.9L1184.3 1632.1L1205.2 1638L1206.4 1638.6L1207.1 1639.1L1207.5 1639.5L1207.9 1639.9L1208.4 1640.6L1209 1641.8L1209.2 1642.8L1209 1643.8L1208.4 1645L1207.9 1645.7L1207.5 1646.1L1207.1 1646.5L1206.4 1647L1205.2 1647.6L1204.2 1647.8L1203.2 1647.6L1182.3 1641.7L1181.1 1641.1L1180.5 1640.6L1180 1640.2L1179.6 1639.8L1179.1 1639.1L1178.5 1637.9ZM1199.2 1642.8L1199.4 1641.8L1200 1640.6L1200.5 1639.9L1200.9 1639.5L1201.3 1639.1L1202 1638.6L1203.2 1638L1204.2 1637.8L1205.2 1638L1226.1 1643.1L1227.3 1643.7L1228 1644.2L1228.4 1644.6L1228.8 1645L1229.3 1645.7L1229.9 1646.9L1230.1 1647.9L1229.9 1648.9L1229.3 1650.1L1228.8 1650.8L1228.4 1651.2L1228 1651.6L1227.3 1652.1L1226.1 1652.7L1225.1 1652.9L1224.1 1652.7L1203.2 1647.6L1202 1647L1201.3 1646.5L1200.9 1646.1L1200.5 1645.7L1200 1645L1199.4 1643.8ZM1220.1 1647.9L1220.3 1646.9L1220.9 1645.7L1221.4 1645L1221.8 1644.6L1222.2 1644.2L1222.9 1643.7L1224.1 1643.1L1225.1 1642.9L1246 1641.4L1247 1641.6L1248.2 1642.2L1248.8 1642.7L1249.3 1643.1L1249.7 1643.5L1250.2 1644.2L1250.8 1645.4L1251 1646.4L1250.8 1647.4L1250.2 1648.6L1249.7 1649.3L1249.3 1649.7L1248.8 1650.1L1248.2 1650.6L1247 1651.2L1246 1651.4L1225.1 1652.9L1224.1 1652.7L1222.9 1652.1L1222.2 1651.6L1221.8 1651.2L1221.4 1650.8L1220.9 1650.1L1220.3 1648.9ZM1241 1646.4L1241.2 1645.4L1241.8 1644.2L1242.3 1643.5L1242.7 1643.1L1243.1 1642.7L1243.8 1642.2L1245 1641.6L1246 1641.4L1247 1641.6L1267.9 1650.7L1269.1 1651.3L1269.7 1651.8L1270.2 1652.2L1270.6 1652.6L1271.1 1653.3L1271.7 1654.5L1271.9 1655.5L1271.7 1656.5L1271.1 1657.7L1270.6 1658.4L1270.2 1658.8L1269.7 1659.2L1269.1 1659.7L1267.9 1660.3L1266.9 1660.5L1265.8 1660.3L1245 1651.2L1243.8 1650.6L1243.1 1650.1L1242.7 1649.7L1242.3 1649.3L1241.8 1648.6L1241.2 1647.4ZM1261.9 1655.5L1262.1 1654.5L1262.7 1653.3L1263.1 1652.6L1263.5 1652.2L1264 1651.8L1264.7 1651.3L1265.8 1650.7L1266.9 1650.5L1287.8 1646.5L1288.8 1646.7L1290 1647.3L1290.6 1647.8L1291.1 1648.2L1291.5 1648.6L1292 1649.3L1292.6 1650.5L1292.8 1651.5L1292.6 1652.5L1292 1653.7L1291.5 1654.4L1291.1 1654.8L1290.6 1655.2L1290 1655.7L1288.8 1656.3L1287.8 1656.5L1266.9 1660.5L1265.8 1660.3L1264.7 1659.7L1264 1659.2L1263.5 1658.8L1263.1 1658.4L1262.7 1657.7L1262.1 1656.5ZM1282.8 1651.5L1283 1650.5L1283.5 1649.3L1284 1648.6L1284.4 1648.2L1284.9 1647.8L1285.5 1647.3L1286.7 1646.7L1307.6 1641.8L1308.7 1641.6L1309.7 1641.8L1310.9 1642.4L1311.5 1642.9L1312 1643.3L1312.4 1643.7L1312.9 1644.4L1313.5 1645.6L1313.7 1646.6L1313.5 1647.6L1312.9 1648.8L1312.4 1649.5L1312 1649.9L1311.5 1650.3L1310.9 1650.8L1309.7 1651.4L1288.8 1656.3L1287.8 1656.5L1286.7 1656.3L1285.5 1655.7L1284.9 1655.2L1284.4 1654.8L1284 1654.4L1283.5 1653.7L1283 1652.5ZM1303.7 1646.6L1303.8 1645.6L1304.4 1644.4L1304.9 1643.7L1305.3 1643.3L1305.8 1642.9L1306.4 1642.4L1307.6 1641.8L1308.7 1641.6L1309.7 1641.8L1310.9 1642.4L1331.8 1654L1332.4 1654.5L1332.9 1654.9L1333.3 1655.3L1333.8 1656L1334.3 1657.2L1334.5 1658.2L1334.3 1659.2L1333.8 1660.4L1333.3 1661.1L1332.9 1661.5L1332.4 1661.9L1331.8 1662.4L1330.6 1663L1329.5 1663.2L1328.5 1663L1327.3 1662.4L1306.4 1650.8L1305.8 1650.3L1305.3 1649.9L1304.9 1649.5L1304.4 1648.8L1303.8 1647.6ZM1324.5 1658.2L1324.7 1657.2L1325.3 1656L1325.8 1655.3L1326.2 1654.9L1326.7 1654.5L1327.3 1654L1328.5 1653.4L1349.4 1646.6L1350.4 1646.4L1351.5 1646.6L1352.6 1647.2L1353.3 1647.7L1353.8 1648.1L1354.2 1648.5L1354.7 1649.2L1355.2 1650.4L1355.4 1651.4L1355.2 1652.4L1354.7 1653.6L1354.2 1654.3L1353.8 1654.7L1353.3 1655.1L1352.6 1655.6L1351.5 1656.2L1330.6 1663L1329.5 1663.2L1328.5 1663L1327.3 1662.4L1326.7 1661.9L1326.2 1661.5L1325.8 1661.1L1325.3 1660.4L1324.7 1659.2ZM1345.4 1651.4L1345.6 1650.4L1346.2 1649.2L1346.7 1648.5L1347.1 1648.1L1347.6 1647.7L1348.2 1647.2L1349.4 1646.6L1350.4 1646.4L1371.3 1645.1L1372.3 1645.3L1373.5 1645.9L1374.2 1646.4L1374.7 1646.8L1375 1647.2L1375.5 1647.9L1376.1 1649.1L1376.3 1650.1L1376.1 1651.1L1375.5 1652.3L1375 1653L1374.7 1653.4L1374.2 1653.8L1373.5 1654.3L1372.3 1654.9L1371.3 1655.1L1350.4 1656.4L1349.4 1656.2L1348.2 1655.6L1347.6 1655.1L1347.1 1654.7L1346.7 1654.3L1346.2 1653.6L1345.6 1652.4ZM1366.3 1650.1L1366.5 1649.1L1367.1 1647.9L1367.6 1647.2L1368 1646.8L1368.5 1646.4L1369.1 1645.9L1370.3 1645.3L1371.3 1645.1L1392.2 1645.1L1393.2 1645.3L1394.4 1645.9L1395.1 1646.4L1395.5 1646.8L1395.9 1647.2L1396.4 1647.9L1397 1649.1L1397.2 1650.1L1397 1651.1L1396.4 1652.3L1395.9 1653L1395.5 1653.4L1395.1 1653.8L1394.4 1654.3L1393.2 1654.9L1392.2 1655.1L1371.3 1655.1L1370.3 1654.9L1369.1 1654.3L1368.5 1653.8L1368 1653.4L1367.6 1653L1367.1 1652.3L1366.5 1651.1ZM1387.2 1650.1L1387.4 1649.1L1388 1647.9L1388.5 1647.2L1388.9 1646.8L1389.3 1646.4L1390 1645.9L1391.2 1645.3L1392.2 1645.1L1393.2 1645.3L1414.1 1649.8L1415.3 1650.4L1416 1650.9L1416.4 1651.3L1416.8 1651.7L1417.3 1652.4L1417.9 1653.6L1418.1 1654.6L1417.9 1655.6L1417.3 1656.8L1416.8 1657.5L1416.4 1657.9L1416 1658.3L1415.3 1658.8L1414.1 1659.4L1413.1 1659.6L1412.1 1659.4L1391.2 1654.9L1390 1654.3L1389.3 1653.8L1388.9 1653.4L1388.5 1653L1388 1652.3L1387.4 1651.1ZM1408.1 1654.6L1408.3 1653.6L1408.9 1652.4L1409.4 1651.7L1409.8 1651.3L1410.2 1650.9L1410.9 1650.4L1412.1 1649.8L1413.1 1649.6L1434 1649.7L1435 1649.9L1436.2 1650.5L1436.8 1651L1437.3 1651.4L1437.7 1651.8L1438.2 1652.5L1438.8 1653.7L1439 1654.7L1438.8 1655.7L1438.2 1656.9L1437.7 1657.6L1437.3 1658L1436.8 1658.4L1436.2 1658.9L1435 1659.5L1434 1659.7L1413.1 1659.6L1412.1 1659.4L1410.9 1658.8L1410.2 1658.3L1409.8 1657.9L1409.4 1657.5L1408.9 1656.8L1408.3 1655.6ZM1429 1654.7L1429.2 1653.7L1429.8 1652.5L1430.2 1651.8L1430.7 1651.4L1431.1 1651L1431.8 1650.5L1433 1649.9L1434 1649.7L1454.9 1651.4L1455.9 1651.6L1457.1 1652.2L1457.7 1652.7L1458.2 1653.1L1458.6 1653.5L1459.1 1654.2L1459.7 1655.4L1459.9 1656.4L1459.7 1657.4L1459.1 1658.6L1458.6 1659.3L1458.2 1659.7L1457.7 1660.1L1457.1 1660.6L1455.9 1661.2L1454.9 1661.4L1434 1659.7L1433 1659.5L1431.8 1658.9L1431.1 1658.4L1430.7 1658L1430.2 1657.6L1429.8 1656.9L1429.2 1655.7ZM1449.9 1656.4L1450.1 1655.4L1450.7 1654.2L1451.1 1653.5L1451.5 1653.1L1452 1652.7L1452.7 1652.2L1453.8 1651.6L1474.7 1646.6L1475.8 1646.4L1476.8 1646.6L1478 1647.2L1478.6 1647.7L1479.1 1648.1L1479.5 1648.5L1480 1649.2L1480.6 1650.4L1480.8 1651.4L1480.6 1652.4L1480 1653.6L1479.5 1654.3L1479.1 1654.7L1478.6 1655.1L1478 1655.6L1476.8 1656.2L1455.9 1661.2L1454.9 1661.4L1453.8 1661.2L1452.7 1660.6L1452 1660.1L1451.5 1659.7L1451.1 1659.3L1450.7 1658.6L1450.1 1657.4ZM1470.8 1651.4L1471 1650.4L1471.5 1649.2L1472 1648.5L1472.4 1648.1L1472.9 1647.7L1473.5 1647.2L1474.7 1646.6L1475.8 1646.4L1476.8 1646.6L1497.7 1652.2L1498.9 1652.8L1499.5 1653.3L1500 1653.7L1500.4 1654.1L1500.9 1654.8L1501.5 1656L1501.7 1657L1501.5 1658L1500.9 1659.2L1500.4 1659.9L1500 1660.3L1499.5 1660.7L1498.9 1661.2L1497.7 1661.8L1496.7 1662L1495.6 1661.8L1474.7 1656.2L1473.5 1655.6L1472.9 1655.1L1472.4 1654.7L1472 1654.3L1471.5 1653.6L1471 1652.4ZM1491.7 1657L1491.8 1656L1492.4 1654.8L1492.9 1654.1L1493.3 1653.7L1493.8 1653.3L1494.4 1652.8L1495.6 1652.2L1496.7 1652L1517.5 1652.1L1518.6 1652.3L1519.8 1652.9L1520.4 1653.4L1520.9 1653.8L1521.3 1654.2L1521.8 1654.9L1522.3 1656.1L1522.5 1657.1L1522.3 1658.1L1521.8 1659.3L1521.3 1660L1520.9 1660.4L1520.4 1660.8L1519.8 1661.3L1518.6 1661.9L1517.5 1662.1L1496.7 1662L1495.6 1661.8L1494.4 1661.2L1493.8 1660.7L1493.3 1660.3L1492.9 1659.9L1492.4 1659.2L1491.8 1658ZM1512.5 1657.1L1512.7 1656.1L1513.3 1654.9L1513.8 1654.2L1514.2 1653.8L1514.7 1653.4L1515.3 1652.9L1516.5 1652.3L1537.4 1648.2L1538.4 1648L1539.5 1648.2L1540.6 1648.8L1541.3 1649.3L1541.8 1649.7L1542.2 1650.1L1542.7 1650.8L1543.2 1652L1543.4 1653L1543.2 1654L1542.7 1655.2L1542.2 1655.9L1541.8 1656.3L1541.3 1656.7L1540.6 1657.2L1539.5 1657.8L1518.6 1661.9L1517.5 1662.1L1516.5 1661.9L1515.3 1661.3L1514.7 1660.8L1514.2 1660.4L1513.8 1660L1513.3 1659.3L1512.7 1658.1ZM1533.4 1653L1533.6 1652L1534.2 1650.8L1534.7 1650.1L1535.1 1649.7L1535.6 1649.3L1536.2 1648.8L1537.4 1648.2L1538.4 1648L1559.3 1650.6L1560.3 1650.8L1561.5 1651.4L1562.2 1651.9L1562.6 1652.3L1563 1652.7L1563.5 1653.4L1564.1 1654.6L1564.3 1655.6L1564.1 1656.6L1563.5 1657.8L1563 1658.5L1562.6 1658.9L1562.2 1659.3L1561.5 1659.8L1560.3 1660.4L1559.3 1660.6L1538.4 1658L1537.4 1657.8L1536.2 1657.2L1535.6 1656.7L1535.1 1656.3L1534.7 1655.9L1534.2 1655.2L1533.6 1654ZM1554.3 1655.6L1554.5 1654.6L1555.1 1653.4L1555.6 1652.7L1556 1652.3L1556.5 1651.9L1557.1 1651.4L1558.3 1650.8L1579.2 1646.6L1580.2 1646.4L1581.2 1646.6L1582.4 1647.2L1583.1 1647.7L1583.5 1648.1L1583.9 1648.5L1584.4 1649.2L1585 1650.4L1585.2 1651.4L1585 1652.4L1584.4 1653.6L1583.9 1654.3L1583.5 1654.7L1583.1 1655.1L1582.4 1655.6L1581.2 1656.2L1560.3 1660.4L1559.3 1660.6L1558.3 1660.4L1557.1 1659.8L1556.5 1659.3L1556 1658.9L1555.6 1658.5L1555.1 1657.8L1554.5 1656.6ZM1575.2 1651.4L1575.4 1650.4L1576 1649.2L1576.5 1648.5L1576.9 1648.1L1577.3 1647.7L1578 1647.2L1579.2 1646.6L1580.2 1646.4L1601.1 1647.2L1602.1 1647.4L1603.3 1648L1604 1648.5L1604.4 1648.9L1604.8 1649.3L1605.3 1650L1605.9 1651.2L1606.1 1652.2L1605.9 1653.2L1605.3 1654.4L1604.8 1655.1L1604.4 1655.5L1604 1655.9L1603.3 1656.4L1602.1 1657L1601.1 1657.2L1580.2 1656.4L1579.2 1656.2L1578 1655.6L1577.3 1655.1L1576.9 1654.7L1576.5 1654.3L1576 1653.6L1575.4 1652.4ZM1596.1 1652.2L1596.3 1651.2L1596.9 1650L1597.4 1649.3L1597.8 1648.9L1598.2 1648.5L1598.9 1648L1600.1 1647.4L1601.1 1647.2L1602.1 1647.4L1603.3 1648L1624.2 1658.7L1624.8 1659.2L1625.3 1659.6L1625.7 1660L1626.2 1660.7L1626.8 1661.9L1627 1662.9L1626.8 1663.9L1626.2 1665.1L1625.7 1665.8L1625.3 1666.2L1624.8 1666.6L1624.2 1667.1L1623 1667.7L1622 1667.9L1621 1667.7L1619.8 1667.1L1598.9 1656.4L1598.2 1655.9L1597.8 1655.5L1597.4 1655.1L1596.9 1654.4L1596.3 1653.2ZM1617 1662.9L1617.2 1661.9L1617.8 1660.7L1618.2 1660L1618.7 1659.6L1639.5 1638L1640 1637.6L1640.7 1637.1L1641.8 1636.5L1642.9 1636.3L1643.9 1636.5L1645.1 1637.1L1645.7 1637.6L1646.2 1638L1646.6 1638.4L1647.1 1639.1L1647.7 1640.3L1647.9 1641.3L1647.7 1642.3L1647.1 1643.5L1646.6 1644.2L1646.2 1644.6L1625.3 1666.2L1624.8 1666.6L1624.2 1667.1L1623 1667.7L1622 1667.9L1621 1667.7L1619.8 1667.1L1619.1 1666.6L1618.7 1666.2L1618.2 1665.8L1617.8 1665.1L1617.2 1663.9ZM1637.9 1641.3L1638.1 1640.3L1638.7 1639.1L1639.1 1638.4L1639.5 1638L1640 1637.6L1640.7 1637.1L1641.8 1636.5L1642.9 1636.3L1663.8 1639.2L1664.8 1639.4L1666 1640L1666.6 1640.5L1667.1 1640.9L1667.5 1641.3L1668 1642L1668.6 1643.2L1668.8 1644.2L1668.6 1645.2L1668 1646.4L1667.5 1647.1L1667.1 1647.5L1666.6 1647.9L1666 1648.4L1664.8 1649L1663.8 1649.2L1642.9 1646.3L1641.8 1646.1L1640.7 1645.5L1640 1645L1639.5 1644.6L1639.1 1644.2L1638.7 1643.5L1638.1 1642.3ZM1658.8 1644.2L1659 1643.2L1659.5 1642L1660 1641.3L1660.4 1640.9L1660.9 1640.5L1661.5 1640L1662.7 1639.4L1663.8 1639.2L1684.7 1642L1685.7 1642.2L1686.9 1642.8L1687.5 1643.3L1688 1643.7L1688.4 1644.1L1688.9 1644.8L1689.5 1646L1689.7 1647L1689.5 1648L1688.9 1649.2L1688.4 1649.9L1688 1650.3L1687.5 1650.7L1686.9 1651.2L1685.7 1651.8L1684.7 1652L1663.8 1649.2L1662.7 1649L1661.5 1648.4L1660.9 1647.9L1660.4 1647.5L1660 1647.1L1659.5 1646.4L1659 1645.2ZM1679.7 1647L1679.8 1646L1680.4 1644.8L1680.9 1644.1L1681.3 1643.7L1681.8 1643.3L1682.4 1642.8L1683.6 1642.2L1684.7 1642L1705.5 1642.3L1706.5 1642.5L1707.7 1643.1L1708.4 1643.6L1708.9 1644L1709.3 1644.4L1709.8 1645.1L1710.3 1646.3L1710.5 1647.3L1710.3 1648.3L1709.8 1649.5L1709.3 1650.2L1708.9 1650.6L1708.4 1651L1707.7 1651.5L1706.5 1652.1L1705.5 1652.3L1684.7 1652L1683.6 1651.8L1682.4 1651.2L1681.8 1650.7L1681.3 1650.3L1680.9 1649.9L1680.4 1649.2L1679.8 1648ZM1700.5 1647.3L1700.7 1646.3L1701.3 1645.1L1701.8 1644.4L1702.2 1644L1702.7 1643.6L1703.3 1643.1L1724.2 1630.3L1725.4 1629.7L1726.4 1629.5L1727.4 1629.7L1728.6 1630.3L1729.3 1630.8L1729.8 1631.2L1730.2 1631.6L1730.6 1632.3L1731.2 1633.5L1731.4 1634.5L1731.2 1635.5L1730.6 1636.7L1730.2 1637.4L1729.8 1637.8L1729.3 1638.2L1728.6 1638.7L1707.7 1651.5L1706.5 1652.1L1705.5 1652.3L1704.5 1652.1L1703.3 1651.5L1702.7 1651L1702.2 1650.6L1701.8 1650.2L1701.3 1649.5L1700.7 1648.3ZM1721.4 1634.5L1721.6 1633.5L1722.2 1632.3L1722.7 1631.6L1723.1 1631.2L1723.6 1630.8L1724.2 1630.3L1725.4 1629.7L1726.4 1629.5L1727.4 1629.7L1728.6 1630.3L1749.5 1644.4L1750.2 1644.9L1750.6 1645.3L1751 1645.7L1751.5 1646.4L1752.1 1647.6L1752.3 1648.6L1752.1 1649.6L1751.5 1650.8L1751 1651.5L1750.6 1651.9L1750.2 1652.3L1749.5 1652.8L1748.3 1653.4L1747.3 1653.6L1746.3 1653.4L1745.1 1652.8L1724.2 1638.7L1723.6 1638.2L1723.1 1637.8L1722.7 1637.4L1722.2 1636.7L1721.6 1635.5ZM1742.3 1648.6L1742.5 1647.6L1743.1 1646.4L1743.6 1645.7L1744 1645.3L1744.5 1644.9L1745.1 1644.4L1746.3 1643.8L1747.3 1643.6L1768.2 1640.7L1769.2 1640.9L1770.4 1641.5L1771.1 1642L1771.5 1642.4L1771.9 1642.8L1772.4 1643.5L1773 1644.7L1773.2 1645.7L1773 1646.7L1772.4 1647.9L1771.9 1648.6L1771.5 1649L1771.1 1649.4L1770.4 1649.9L1769.2 1650.5L1768.2 1650.7L1747.3 1653.6L1746.3 1653.4L1745.1 1652.8L1744.5 1652.3L1744 1651.9L1743.6 1651.5L1743.1 1650.8L1742.5 1649.6ZM1763.2 1645.7L1763.4 1644.7L1764 1643.5L1764.5 1642.8L1764.9 1642.4L1765.3 1642L1766 1641.5L1767.2 1640.9L1768.2 1640.7L1789.1 1637.8L1790.1 1638L1791.3 1638.6L1792 1639.1L1792.4 1639.5L1792.8 1639.9L1793.3 1640.6L1793.9 1641.8L1794.1 1642.8L1793.9 1643.8L1793.3 1645L1792.8 1645.7L1792.4 1646.1L1792 1646.5L1791.3 1647L1790.1 1647.6L1789.1 1647.8L1768.2 1650.7L1767.2 1650.5L1766 1649.9L1765.3 1649.4L1764.9 1649L1764.5 1648.6L1764 1647.9L1763.4 1646.7Z"/>
</g>
<text transform="translate(275.6 658.4) scale(1 1.030)" font-size="68.0" text-anchor="end">0</text>
<text transform="translate(275.6 498.9) scale(1 1.030)" font-size="68.0" text-anchor="end">2</text>
<text transform="translate(275.6 339.4) scale(1 1.030)" font-size="68.0" text-anchor="end">4</text>
<text transform="translate(275.6 179.9) scale(1 1.030)" font-size="68.0" text-anchor="end">6</text>
<text transform="translate(258.8 1295.0) scale(1 1.030)" font-size="68.0" text-anchor="end">0</text>
<text transform="translate(258.8 1082.7) scale(1 1.030)" font-size="68.0" text-anchor="end">10</text>
<text transform="translate(258.8 870.3) scale(1 1.030)" font-size="68.0" text-anchor="end">20</text>
<text transform="translate(258.8 1931.2) scale(1 1.030)" font-size="68.0" text-anchor="end">0.0</text>
<text transform="translate(258.8 1772.1) scale(1 1.030)" font-size="68.0" text-anchor="end">0.1</text>
<text transform="translate(258.8 1613.0) scale(1 1.030)" font-size="68.0" text-anchor="end">0.2</text>
<text transform="translate(258.8 1453.9) scale(1 1.030)" font-size="68.0" text-anchor="end">0.3</text>
<text transform="translate(410.4 2012.5) scale(1 1.030)" font-size="68.0" text-anchor="middle">5000</text>
<text transform="translate(932.7 2012.5) scale(1 1.030)" font-size="68.0" text-anchor="middle">10000</text>
<text transform="translate(1454.9 2012.5) scale(1 1.030)" font-size="68.0" text-anchor="middle">15000</text>
<text class="b" x="-0.9" y="79.6" font-size="76.5">a</text>
<text class="b" x="2.3" y="703.8" font-size="76.5">b</text>
<text class="b" x="1.9" y="1333.8" font-size="76.5">c</text>
<text x="624.2" y="2169.1" font-size="95">Wavenumber (cm<tspan font-size="56.5" dy="-51">-1</tspan><tspan dy="51">)</tspan></text>
<text class="g" transform="translate(117.8 0) rotate(-90)" font-size="110" x="-421.4 -373.5 -336.1 -262.6" y="0">ε(ω)</text>
<text transform="translate(114.9 0) rotate(-90)" font-size="94.5"><tspan class="g" font-size="87" x="-1230.4" y="0">ϕ</tspan><tspan x="-1159.3" y="0"> (degree)</tspan></text>
<text transform="translate(122.4 0) rotate(-90)" font-size="94.5" x="-1706.3" y="0">|r|<tspan font-size="58" dy="-51.9">2</tspan></text>
<text fill="#0000ff" style="fill:#0000ff" font-size="100.4"><tspan x="928.3" y="218">Re </tspan><tspan class="g" font-size="94" x="1086.1 1127.1 1156.3 1216.9" y="218">ε(ω)</tspan></text>
<text fill="#ff0000" style="fill:#ff0000" font-size="100.4"><tspan x="904.2" y="530.6">Im </tspan><tspan class="g" font-size="94" x="1044.2 1085.2 1114.8 1176.1" y="530.6">ε(ω)</tspan></text>
</svg></body></html>
